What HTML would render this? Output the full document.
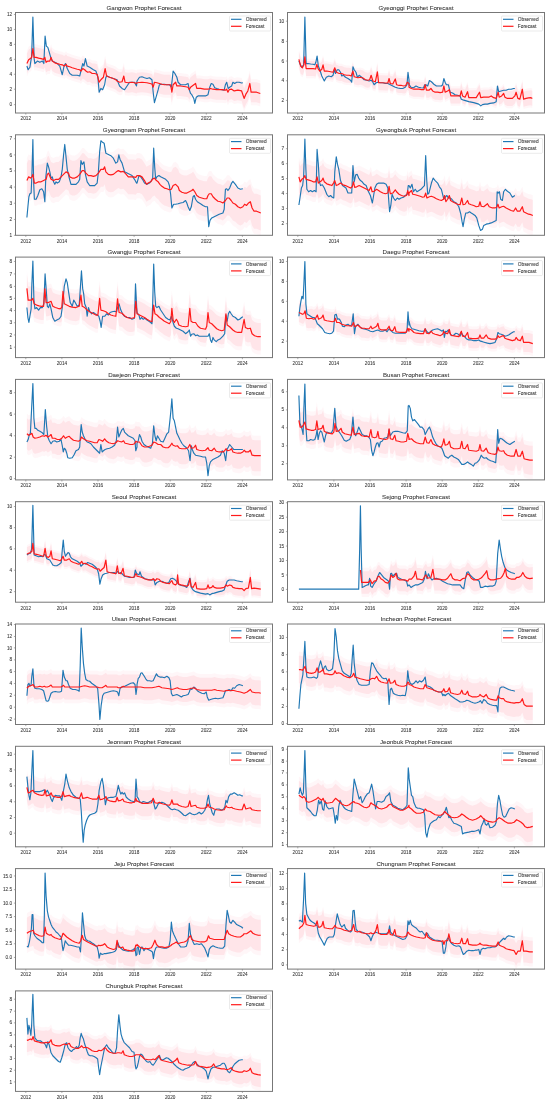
<!DOCTYPE html>
<html><head><meta charset="utf-8"><style>
html,body{margin:0;padding:0;background:#fff;width:550px;height:1102px;overflow:hidden}
svg{display:block}
.t{font-family:"Liberation Sans",sans-serif;fill:#333;stroke:#333;stroke-width:0.06px}
</style></head><body>
<div style="will-change:transform;width:550px;height:1102px"><svg width="550" height="1102" viewBox="0 0 550 1102">
<rect width="550" height="1102" fill="#fff"/>
<g><polygon points="26.90,50.60 28.65,46.87 30.39,45.62 31.63,44.37 32.88,35.66 34.13,44.37 36.12,44.37 38.61,45.12 41.10,45.62 43.59,46.37 44.84,44.37 46.08,49.36 47.83,48.11 49.82,48.11 51.06,44.37 52.31,48.11 54.80,49.85 57.29,50.60 59.78,51.35 62.27,51.85 64.27,53.09 66.01,51.35 67.25,53.09 69.75,53.84 72.24,54.84 74.73,55.58 77.22,56.33 79.71,56.83 80.95,58.07 82.70,55.58 84.69,56.83 85.94,58.07 87.68,59.32 89.67,58.82 92.16,60.57 94.65,60.57 97.15,61.31 99.14,69.28 100.88,66.79 103.37,64.30 105.12,55.58 106.61,63.06 109.60,64.30 113.34,65.55 115.83,66.79 117.07,68.04 119.56,69.28 122.05,68.79 123.80,63.06 125.04,69.28 128.28,69.78 132.02,69.28 134.51,69.78 136.50,70.53 137.00,69.78 141.98,69.28 146.96,69.78 151.95,71.03 153.19,74.27 154.44,69.28 156.93,69.78 159.42,70.53 161.91,71.28 164.40,71.77 168.14,71.77 170.63,71.77 171.87,79.25 173.12,71.77 175.61,69.28 176.85,73.02 180.59,73.02 185.57,73.77 188.06,74.27 189.31,76.76 190.55,74.27 195.54,70.53 196.78,75.51 200.52,75.51 204.25,76.26 207.99,76.26 210.48,75.51 212.97,76.26 216.71,76.76 221.69,76.76 225.43,77.25 226.67,76.26 227.92,79.25 229.16,76.76 231.65,76.26 234.15,78.00 237.88,77.25 241.62,78.00 244.11,85.47 245.85,81.24 247.85,78.00 249.84,70.53 251.08,79.25 254.07,79.25 256.56,79.25 260.30,80.49 260.30,106.40 256.56,105.15 254.07,105.15 251.08,105.15 249.84,96.43 247.85,103.91 245.85,107.15 244.11,111.38 241.62,103.91 237.88,103.16 234.15,103.91 231.65,102.16 229.16,102.66 227.92,105.15 226.67,102.16 225.43,103.16 221.69,102.66 216.71,102.66 212.97,102.16 210.48,101.42 207.99,102.16 204.25,102.16 200.52,101.42 196.78,101.42 195.54,96.43 190.55,100.17 189.31,102.66 188.06,100.17 185.57,99.67 180.59,98.93 176.85,98.93 175.61,95.19 173.12,97.68 171.87,105.15 170.63,97.68 168.14,97.68 164.40,97.68 161.91,97.18 159.42,96.43 156.93,95.69 154.44,95.19 153.19,100.17 151.95,96.93 146.96,95.69 141.98,95.19 137.00,95.69 136.50,96.43 134.51,95.69 132.02,95.19 128.28,95.69 125.04,95.19 123.80,88.96 122.05,94.69 119.56,95.19 117.07,93.94 115.83,92.70 113.34,91.45 109.60,90.21 106.61,88.96 105.12,81.49 103.37,90.21 100.88,92.70 99.14,95.19 97.15,87.22 94.65,86.47 92.16,86.47 89.67,84.73 87.68,85.23 85.94,83.98 84.69,82.73 82.70,81.49 80.95,83.98 79.71,82.73 77.22,82.24 74.73,81.49 72.24,80.74 69.75,79.75 67.25,79.00 66.01,77.25 64.27,79.00 62.27,77.75 59.78,77.25 57.29,76.51 54.80,75.76 52.31,74.02 51.06,70.28 49.82,74.02 47.83,74.02 46.08,75.26 44.84,70.28 43.59,72.27 41.10,71.53 38.61,71.03 36.12,70.28 34.13,70.28 32.88,61.56 31.63,70.28 30.39,71.53 28.65,72.77 26.90,76.51" fill="#ffc0cb" fill-opacity="0.14"/><polygon points="26.90,53.59 28.65,49.85 30.39,48.61 31.63,47.36 32.88,38.65 34.13,47.36 36.12,47.36 38.61,48.11 41.10,48.61 43.59,49.36 44.84,47.36 46.08,52.35 47.83,51.10 49.82,51.10 51.06,47.36 52.31,51.10 54.80,52.84 57.29,53.59 59.78,54.34 62.27,54.84 64.27,56.08 66.01,54.34 67.25,56.08 69.75,56.83 72.24,57.83 74.73,58.57 77.22,59.32 79.71,59.82 80.95,61.06 82.70,58.57 84.69,59.82 85.94,61.06 87.68,62.31 89.67,61.81 92.16,63.55 94.65,63.55 97.15,64.30 99.14,72.27 100.88,69.78 103.37,67.29 105.12,58.57 106.61,66.05 109.60,67.29 113.34,68.54 115.83,69.78 117.07,71.03 119.56,72.27 122.05,71.77 123.80,66.05 125.04,72.27 128.28,72.77 132.02,72.27 134.51,72.77 136.50,73.52 137.00,72.77 141.98,72.27 146.96,72.77 151.95,74.02 153.19,77.25 154.44,72.27 156.93,72.77 159.42,73.52 161.91,74.27 164.40,74.76 168.14,74.76 170.63,74.76 171.87,82.24 173.12,74.76 175.61,72.27 176.85,76.01 180.59,76.01 185.57,76.76 188.06,77.25 189.31,79.75 190.55,77.25 195.54,73.52 196.78,78.50 200.52,78.50 204.25,79.25 207.99,79.25 210.48,78.50 212.97,79.25 216.71,79.75 221.69,79.75 225.43,80.24 226.67,79.25 227.92,82.24 229.16,79.75 231.65,79.25 234.15,80.99 237.88,80.24 241.62,80.99 244.11,88.46 245.85,84.23 247.85,80.99 249.84,73.52 251.08,82.24 254.07,82.24 256.56,82.24 260.30,83.48 260.30,103.41 256.56,102.16 254.07,102.16 251.08,102.16 249.84,93.45 247.85,100.92 245.85,104.16 244.11,108.39 241.62,100.92 237.88,100.17 234.15,100.92 231.65,99.17 229.16,99.67 227.92,102.16 226.67,99.17 225.43,100.17 221.69,99.67 216.71,99.67 212.97,99.17 210.48,98.43 207.99,99.17 204.25,99.17 200.52,98.43 196.78,98.43 195.54,93.45 190.55,97.18 189.31,99.67 188.06,97.18 185.57,96.68 180.59,95.94 176.85,95.94 175.61,92.20 173.12,94.69 171.87,102.16 170.63,94.69 168.14,94.69 164.40,94.69 161.91,94.19 159.42,93.45 156.93,92.70 154.44,92.20 153.19,97.18 151.95,93.94 146.96,92.70 141.98,92.20 137.00,92.70 136.50,93.45 134.51,92.70 132.02,92.20 128.28,92.70 125.04,92.20 123.80,85.97 122.05,91.70 119.56,92.20 117.07,90.95 115.83,89.71 113.34,88.46 109.60,87.22 106.61,85.97 105.12,78.50 103.37,87.22 100.88,89.71 99.14,92.20 97.15,84.23 94.65,83.48 92.16,83.48 89.67,81.74 87.68,82.24 85.94,80.99 84.69,79.75 82.70,78.50 80.95,80.99 79.71,79.75 77.22,79.25 74.73,78.50 72.24,77.75 69.75,76.76 67.25,76.01 66.01,74.27 64.27,76.01 62.27,74.76 59.78,74.27 57.29,73.52 54.80,72.77 52.31,71.03 51.06,67.29 49.82,71.03 47.83,71.03 46.08,72.27 44.84,67.29 43.59,69.28 41.10,68.54 38.61,68.04 36.12,67.29 34.13,67.29 32.88,58.57 31.63,67.29 30.39,68.54 28.65,69.78 26.90,73.52" fill="#ffc0cb" fill-opacity="0.32"/><polyline points="26.90,66.05 28.15,69.78 29.89,67.29 31.63,56.08 32.88,16.97 34.13,58.57 34.87,63.55 37.36,61.06 39.85,62.31 42.35,61.06 43.84,63.55 45.09,36.15 46.33,46.12 47.83,47.36 49.32,52.35 51.06,58.57 52.31,61.06 54.80,62.31 57.29,63.55 59.78,66.05 62.27,74.76 64.02,66.05 65.51,63.55 67.25,68.54 69.75,73.52 72.24,75.26 74.73,75.26 77.22,75.26 79.71,76.01 81.20,69.78 82.70,63.55 83.94,66.05 85.44,58.57 87.18,66.05 89.67,67.29 93.41,69.78 95.90,71.03 97.89,77.25 99.14,92.20 100.88,88.46 102.63,89.71 104.62,84.73 105.86,77.25 107.11,76.01 109.60,77.25 113.34,78.50 117.07,79.75 119.56,85.97 122.05,88.46 124.55,89.71 127.04,85.97 129.53,82.24 132.02,82.24 134.51,82.24 136.50,85.97 137.00,80.99 139.49,77.25 141.98,76.76 144.47,77.75 146.96,78.50 149.45,77.75 151.95,79.75 153.19,92.20 154.44,102.66 156.43,95.94 158.17,89.71 159.42,84.73 161.91,84.23 164.40,84.23 166.89,84.73 169.38,84.73 171.37,87.22 173.12,71.03 174.86,73.52 176.85,77.25 178.10,82.24 180.59,84.73 183.08,84.73 185.57,84.73 188.06,83.48 189.31,89.71 190.55,93.45 191.80,94.69 193.79,98.43 194.79,103.41 196.28,97.18 198.03,95.94 200.52,95.94 203.01,95.94 205.50,95.94 207.99,94.69 209.73,87.22 211.23,83.48 212.97,84.23 214.72,87.72 216.71,88.46 219.20,89.21 221.69,89.71 224.18,90.21 225.43,84.73 226.67,82.24 228.17,88.46 229.66,87.22 231.65,85.97 232.90,82.24 234.64,83.48 236.64,82.24 239.13,82.24 241.62,82.98 242.86,82.73" fill="none" stroke="#1f77b4" stroke-width="1.15" stroke-linejoin="round"/><polyline points="26.90,63.55 28.65,59.82 30.39,58.57 31.63,57.33 32.88,48.61 34.13,57.33 36.12,57.33 38.61,58.07 41.10,58.57 43.59,59.32 44.84,57.33 46.08,62.31 47.83,61.06 49.82,61.06 51.06,57.33 52.31,61.06 54.80,62.81 57.29,63.55 59.78,64.30 62.27,64.80 64.27,66.05 66.01,64.30 67.25,66.05 69.75,66.79 72.24,67.79 74.73,68.54 77.22,69.28 79.71,69.78 80.95,71.03 82.70,68.54 84.69,69.78 85.94,71.03 87.68,72.27 89.67,71.77 92.16,73.52 94.65,73.52 97.15,74.27 99.14,82.24 100.88,79.75 103.37,77.25 105.12,68.54 106.61,76.01 109.60,77.25 113.34,78.50 115.83,79.75 117.07,80.99 119.56,82.24 122.05,81.74 123.80,76.01 125.04,82.24 128.28,82.73 132.02,82.24 134.51,82.73 136.50,83.48 137.00,82.73 141.98,82.24 146.96,82.73 151.95,83.98 153.19,87.22 154.44,82.24 156.93,82.73 159.42,83.48 161.91,84.23 164.40,84.73 168.14,84.73 170.63,84.73 171.87,92.20 173.12,84.73 175.61,82.24 176.85,85.97 180.59,85.97 185.57,86.72 188.06,87.22 189.31,89.71 190.55,87.22 195.54,83.48 196.78,88.46 200.52,88.46 204.25,89.21 207.99,89.21 210.48,88.46 212.97,89.21 216.71,89.71 221.69,89.71 225.43,90.21 226.67,89.21 227.92,92.20 229.16,89.71 231.65,89.21 234.15,90.95 237.88,90.21 241.62,90.95 244.11,98.43 245.85,94.19 247.85,90.95 249.84,83.48 251.08,92.20 254.07,92.20 256.56,92.20 260.30,93.45" fill="none" stroke="#ff1a1a" stroke-width="1.2" stroke-linejoin="round"/><line x1="13.90" y1="14.48" x2="15.50" y2="14.48" stroke="#777777" stroke-width="0.6"/><text x="12.10" y="16.08" font-size="4.7" text-anchor="end" class="t">12</text><line x1="13.90" y1="29.43" x2="15.50" y2="29.43" stroke="#777777" stroke-width="0.6"/><text x="12.10" y="31.03" font-size="4.7" text-anchor="end" class="t">10</text><line x1="13.90" y1="44.37" x2="15.50" y2="44.37" stroke="#777777" stroke-width="0.6"/><text x="12.10" y="45.97" font-size="4.7" text-anchor="end" class="t">8</text><line x1="13.90" y1="59.32" x2="15.50" y2="59.32" stroke="#777777" stroke-width="0.6"/><text x="12.10" y="60.92" font-size="4.7" text-anchor="end" class="t">6</text><line x1="13.90" y1="74.27" x2="15.50" y2="74.27" stroke="#777777" stroke-width="0.6"/><text x="12.10" y="75.87" font-size="4.7" text-anchor="end" class="t">4</text><line x1="13.90" y1="89.21" x2="15.50" y2="89.21" stroke="#777777" stroke-width="0.6"/><text x="12.10" y="90.81" font-size="4.7" text-anchor="end" class="t">2</text><line x1="13.90" y1="104.65" x2="15.50" y2="104.65" stroke="#777777" stroke-width="0.6"/><text x="12.10" y="106.25" font-size="4.7" text-anchor="end" class="t">0</text><text x="144.00" y="9.70" font-size="6.15" text-anchor="middle" class="t">Gangwon Prophet Forecast</text><rect x="15.50" y="12.50" width="257.00" height="100.50" fill="none" stroke="#777777" stroke-width="1.0"/><line x1="25.80" y1="113.00" x2="25.80" y2="114.60" stroke="#777777" stroke-width="0.6"/><text x="25.80" y="120.30" font-size="4.7" text-anchor="middle" class="t">2012</text><line x1="61.90" y1="113.00" x2="61.90" y2="114.60" stroke="#777777" stroke-width="0.6"/><text x="61.90" y="120.30" font-size="4.7" text-anchor="middle" class="t">2014</text><line x1="98.00" y1="113.00" x2="98.00" y2="114.60" stroke="#777777" stroke-width="0.6"/><text x="98.00" y="120.30" font-size="4.7" text-anchor="middle" class="t">2016</text><line x1="134.10" y1="113.00" x2="134.10" y2="114.60" stroke="#777777" stroke-width="0.6"/><text x="134.10" y="120.30" font-size="4.7" text-anchor="middle" class="t">2018</text><line x1="170.20" y1="113.00" x2="170.20" y2="114.60" stroke="#777777" stroke-width="0.6"/><text x="170.20" y="120.30" font-size="4.7" text-anchor="middle" class="t">2020</text><line x1="206.30" y1="113.00" x2="206.30" y2="114.60" stroke="#777777" stroke-width="0.6"/><text x="206.30" y="120.30" font-size="4.7" text-anchor="middle" class="t">2022</text><line x1="242.40" y1="113.00" x2="242.40" y2="114.60" stroke="#777777" stroke-width="0.6"/><text x="242.40" y="120.30" font-size="4.7" text-anchor="middle" class="t">2024</text><rect x="229.50" y="16.00" width="41" height="15" rx="1" fill="#fff" fill-opacity="0.8" stroke="#d6d6d6" stroke-width="0.5"/><line x1="231.00" y1="19.30" x2="241.50" y2="19.30" stroke="#1f77b4" stroke-width="1.15"/><line x1="231.00" y1="26.30" x2="241.50" y2="26.30" stroke="#ff1a1a" stroke-width="1.2"/><text x="245.80" y="20.90" font-size="4.8" class="t">Observed</text><text x="245.80" y="27.90" font-size="4.8" class="t">Forecast</text></g>
<g><polygon points="298.90,49.61 300.65,56.33 302.39,58.07 303.88,55.09 304.88,47.11 306.13,58.82 308.12,58.82 310.61,58.82 313.10,58.82 315.59,59.32 316.84,54.59 318.08,58.82 319.83,61.31 321.82,59.57 323.06,55.09 324.31,61.31 326.80,61.31 330.54,62.06 333.03,62.56 334.77,58.07 336.27,62.56 339.25,63.80 341.75,63.80 344.24,65.05 346.73,65.55 349.22,65.55 351.21,66.29 352.95,61.31 354.20,67.04 357.94,68.04 360.43,67.54 362.92,68.29 365.41,70.03 367.90,70.53 369.64,70.03 371.14,65.55 372.88,71.28 375.37,72.02 377.37,62.06 378.61,73.02 381.60,73.02 385.34,73.27 387.83,73.27 389.07,68.79 390.32,73.77 392.81,74.27 395.30,69.28 396.55,75.01 399.04,75.76 401.53,75.76 404.02,76.26 405.76,75.76 407.26,72.52 409.00,73.77 409.00,77.50 411.49,78.75 413.98,79.50 416.47,79.50 418.96,79.50 421.45,79.99 423.95,79.99 425.19,75.01 426.44,80.49 428.93,80.49 430.92,78.75 432.66,81.24 435.15,82.49 437.65,82.49 440.14,82.98 442.63,82.49 443.87,76.26 445.12,82.49 447.61,81.24 449.35,79.99 450.85,86.22 453.84,86.22 457.57,86.22 460.06,86.22 461.31,81.24 462.55,86.22 465.05,87.47 467.54,81.99 468.78,87.97 472.52,87.97 476.25,87.97 479.49,82.49 480.74,87.97 483.73,87.47 486.22,87.47 488.71,87.47 491.20,86.22 493.69,87.97 496.18,88.71 498.17,82.49 499.17,87.47 501.66,86.22 503.65,83.73 504.90,87.47 507.39,88.71 509.88,88.71 512.37,88.71 514.86,86.22 516.11,82.49 517.85,88.71 519.85,89.46 522.34,79.50 523.58,89.46 526.07,88.71 528.56,88.21 531.05,87.97 532.30,88.71 532.30,108.14 531.05,107.39 528.56,107.64 526.07,108.14 523.58,108.89 522.34,98.93 519.85,108.89 517.85,108.14 516.11,101.91 514.86,105.65 512.37,108.14 509.88,108.14 507.39,108.14 504.90,106.90 503.65,103.16 501.66,105.65 499.17,106.90 498.17,101.91 496.18,108.14 493.69,107.39 491.20,105.65 488.71,106.90 486.22,106.90 483.73,106.90 480.74,107.39 479.49,101.91 476.25,107.39 472.52,107.39 468.78,107.39 467.54,101.42 465.05,106.90 462.55,105.65 461.31,100.67 460.06,105.65 457.57,105.65 453.84,105.65 450.85,105.65 449.35,99.42 447.61,100.67 445.12,101.91 443.87,95.69 442.63,101.91 440.14,102.41 437.65,101.91 435.15,101.91 432.66,100.67 430.92,98.18 428.93,99.92 426.44,99.92 425.19,94.44 423.95,99.42 421.45,99.42 418.96,98.93 416.47,98.93 413.98,98.93 411.49,98.18 409.00,96.93 409.00,93.20 407.26,91.95 405.76,95.19 404.02,95.69 401.53,95.19 399.04,95.19 396.55,94.44 395.30,88.71 392.81,93.69 390.32,93.20 389.07,88.21 387.83,92.70 385.34,92.70 381.60,92.45 378.61,92.45 377.37,81.49 375.37,91.45 372.88,90.71 371.14,84.98 369.64,89.46 367.90,89.96 365.41,89.46 362.92,87.72 360.43,86.97 357.94,87.47 354.20,86.47 352.95,80.74 351.21,85.72 349.22,84.98 346.73,84.98 344.24,84.48 341.75,83.23 339.25,83.23 336.27,81.99 334.77,77.50 333.03,81.99 330.54,81.49 326.80,80.74 324.31,80.74 323.06,74.51 321.82,79.00 319.83,80.74 318.08,78.25 316.84,74.02 315.59,78.75 313.10,78.25 310.61,78.25 308.12,78.25 306.13,78.25 304.88,66.54 303.88,74.51 302.39,77.50 300.65,75.76 298.90,69.03" fill="#ffc0cb" fill-opacity="0.14"/><polygon points="298.90,51.85 300.65,58.57 302.39,60.32 303.88,57.33 304.88,49.36 306.13,61.06 308.12,61.06 310.61,61.06 313.10,61.06 315.59,61.56 316.84,56.83 318.08,61.06 319.83,63.55 321.82,61.81 323.06,57.33 324.31,63.55 326.80,63.55 330.54,64.30 333.03,64.80 334.77,60.32 336.27,64.80 339.25,66.05 341.75,66.05 344.24,67.29 346.73,67.79 349.22,67.79 351.21,68.54 352.95,63.55 354.20,69.28 357.94,70.28 360.43,69.78 362.92,70.53 365.41,72.27 367.90,72.77 369.64,72.27 371.14,67.79 372.88,73.52 375.37,74.27 377.37,64.30 378.61,75.26 381.60,75.26 385.34,75.51 387.83,75.51 389.07,71.03 390.32,76.01 392.81,76.51 395.30,71.53 396.55,77.25 399.04,78.00 401.53,78.00 404.02,78.50 405.76,78.00 407.26,74.76 409.00,76.01 409.00,79.75 411.49,80.99 413.98,81.74 416.47,81.74 418.96,81.74 421.45,82.24 423.95,82.24 425.19,77.25 426.44,82.73 428.93,82.73 430.92,80.99 432.66,83.48 435.15,84.73 437.65,84.73 440.14,85.23 442.63,84.73 443.87,78.50 445.12,84.73 447.61,83.48 449.35,82.24 450.85,88.46 453.84,88.46 457.57,88.46 460.06,88.46 461.31,83.48 462.55,88.46 465.05,89.71 467.54,84.23 468.78,90.21 472.52,90.21 476.25,90.21 479.49,84.73 480.74,90.21 483.73,89.71 486.22,89.71 488.71,89.71 491.20,88.46 493.69,90.21 496.18,90.95 498.17,84.73 499.17,89.71 501.66,88.46 503.65,85.97 504.90,89.71 507.39,90.95 509.88,90.95 512.37,90.95 514.86,88.46 516.11,84.73 517.85,90.95 519.85,91.70 522.34,81.74 523.58,91.70 526.07,90.95 528.56,90.46 531.05,90.21 532.30,90.95 532.30,105.90 531.05,105.15 528.56,105.40 526.07,105.90 523.58,106.65 522.34,96.68 519.85,106.65 517.85,105.90 516.11,99.67 514.86,103.41 512.37,105.90 509.88,105.90 507.39,105.90 504.90,104.65 503.65,100.92 501.66,103.41 499.17,104.65 498.17,99.67 496.18,105.90 493.69,105.15 491.20,103.41 488.71,104.65 486.22,104.65 483.73,104.65 480.74,105.15 479.49,99.67 476.25,105.15 472.52,105.15 468.78,105.15 467.54,99.17 465.05,104.65 462.55,103.41 461.31,98.43 460.06,103.41 457.57,103.41 453.84,103.41 450.85,103.41 449.35,97.18 447.61,98.43 445.12,99.67 443.87,93.45 442.63,99.67 440.14,100.17 437.65,99.67 435.15,99.67 432.66,98.43 430.92,95.94 428.93,97.68 426.44,97.68 425.19,92.20 423.95,97.18 421.45,97.18 418.96,96.68 416.47,96.68 413.98,96.68 411.49,95.94 409.00,94.69 409.00,90.95 407.26,89.71 405.76,92.95 404.02,93.45 401.53,92.95 399.04,92.95 396.55,92.20 395.30,86.47 392.81,91.45 390.32,90.95 389.07,85.97 387.83,90.46 385.34,90.46 381.60,90.21 378.61,90.21 377.37,79.25 375.37,89.21 372.88,88.46 371.14,82.73 369.64,87.22 367.90,87.72 365.41,87.22 362.92,85.47 360.43,84.73 357.94,85.23 354.20,84.23 352.95,78.50 351.21,83.48 349.22,82.73 346.73,82.73 344.24,82.24 341.75,80.99 339.25,80.99 336.27,79.75 334.77,75.26 333.03,79.75 330.54,79.25 326.80,78.50 324.31,78.50 323.06,72.27 321.82,76.76 319.83,78.50 318.08,76.01 316.84,71.77 315.59,76.51 313.10,76.01 310.61,76.01 308.12,76.01 306.13,76.01 304.88,64.30 303.88,72.27 302.39,75.26 300.65,73.52 298.90,66.79" fill="#ffc0cb" fill-opacity="0.32"/><polyline points="298.90,61.06 300.15,64.30 301.89,67.29 303.63,64.80 304.88,16.97 306.13,63.55 308.12,63.55 310.61,64.05 313.10,64.30 314.84,64.80 315.84,62.31 317.09,56.08 318.33,66.05 319.83,69.78 321.82,76.01 324.31,80.99 326.30,77.25 328.79,76.01 331.28,76.76 333.03,75.26 334.27,69.78 335.52,73.52 337.26,69.78 338.76,69.78 340.50,72.27 341.75,76.01 343.49,75.26 345.48,77.25 347.97,78.50 350.46,80.24 351.71,82.24 352.95,66.79 354.20,69.78 355.94,72.27 357.44,77.25 359.18,75.26 361.67,77.25 364.16,79.75 366.65,80.24 369.15,80.99 371.14,80.24 372.88,82.24 374.13,84.73 376.12,82.73 377.86,82.24 380.35,82.73 382.85,82.73 385.34,83.48 387.83,83.48 390.32,84.73 392.81,85.97 395.30,87.22 397.79,87.97 400.28,88.46 402.77,88.46 405.26,87.22 407.01,84.73 408.00,72.27 409.00,79.75 409.00,84.73 410.99,87.22 413.48,87.72 415.97,85.97 418.47,87.22 420.96,87.72 423.45,87.97 424.69,84.73 425.94,84.73 427.68,85.97 429.43,80.49 431.42,81.74 433.91,84.23 436.40,85.97 438.89,85.97 441.38,85.97 442.63,84.73 443.87,78.50 445.12,82.24 446.36,84.73 448.36,84.73 450.10,92.20 452.59,92.95 455.08,94.69 457.57,95.19 460.06,95.94 461.31,99.17 463.80,100.17 466.29,100.92 468.78,101.67 471.27,102.16 473.76,102.66 476.25,103.41 478.75,104.16 480.74,105.90 482.48,104.65 484.97,104.16 487.46,104.16 489.95,103.41 493.69,102.91 496.18,101.67 497.43,85.97 498.67,91.70 501.16,90.95 503.65,90.21 506.15,90.21 508.64,89.21 511.13,89.21 513.62,88.46 514.86,88.46" fill="none" stroke="#1f77b4" stroke-width="1.15" stroke-linejoin="round"/><polyline points="298.90,59.32 300.65,66.05 302.39,67.79 303.88,64.80 304.88,56.83 306.13,68.54 308.12,68.54 310.61,68.54 313.10,68.54 315.59,69.03 316.84,64.30 318.08,68.54 319.83,71.03 321.82,69.28 323.06,64.80 324.31,71.03 326.80,71.03 330.54,71.77 333.03,72.27 334.77,67.79 336.27,72.27 339.25,73.52 341.75,73.52 344.24,74.76 346.73,75.26 349.22,75.26 351.21,76.01 352.95,71.03 354.20,76.76 357.94,77.75 360.43,77.25 362.92,78.00 365.41,79.75 367.90,80.24 369.64,79.75 371.14,75.26 372.88,80.99 375.37,81.74 377.37,71.77 378.61,82.73 381.60,82.73 385.34,82.98 387.83,82.98 389.07,78.50 390.32,83.48 392.81,83.98 395.30,79.00 396.55,84.73 399.04,85.47 401.53,85.47 404.02,85.97 405.76,85.47 407.26,82.24 409.00,83.48 409.00,87.22 411.49,88.46 413.98,89.21 416.47,89.21 418.96,89.21 421.45,89.71 423.95,89.71 425.19,84.73 426.44,90.21 428.93,90.21 430.92,88.46 432.66,90.95 435.15,92.20 437.65,92.20 440.14,92.70 442.63,92.20 443.87,85.97 445.12,92.20 447.61,90.95 449.35,89.71 450.85,95.94 453.84,95.94 457.57,95.94 460.06,95.94 461.31,90.95 462.55,95.94 465.05,97.18 467.54,91.70 468.78,97.68 472.52,97.68 476.25,97.68 479.49,92.20 480.74,97.68 483.73,97.18 486.22,97.18 488.71,97.18 491.20,95.94 493.69,97.68 496.18,98.43 498.17,92.20 499.17,97.18 501.66,95.94 503.65,93.45 504.90,97.18 507.39,98.43 509.88,98.43 512.37,98.43 514.86,95.94 516.11,92.20 517.85,98.43 519.85,99.17 522.34,89.21 523.58,99.17 526.07,98.43 528.56,97.93 531.05,97.68 532.30,98.43" fill="none" stroke="#ff1a1a" stroke-width="1.2" stroke-linejoin="round"/><line x1="285.90" y1="21.21" x2="287.50" y2="21.21" stroke="#777777" stroke-width="0.6"/><text x="284.10" y="22.81" font-size="4.7" text-anchor="end" class="t">10</text><line x1="285.90" y1="41.39" x2="287.50" y2="41.39" stroke="#777777" stroke-width="0.6"/><text x="284.10" y="42.99" font-size="4.7" text-anchor="end" class="t">8</text><line x1="285.90" y1="61.06" x2="287.50" y2="61.06" stroke="#777777" stroke-width="0.6"/><text x="284.10" y="62.66" font-size="4.7" text-anchor="end" class="t">6</text><line x1="285.90" y1="80.74" x2="287.50" y2="80.74" stroke="#777777" stroke-width="0.6"/><text x="284.10" y="82.34" font-size="4.7" text-anchor="end" class="t">4</text><line x1="285.90" y1="100.42" x2="287.50" y2="100.42" stroke="#777777" stroke-width="0.6"/><text x="284.10" y="102.02" font-size="4.7" text-anchor="end" class="t">2</text><text x="416.00" y="9.70" font-size="6.15" text-anchor="middle" class="t">Gyeonggi Prophet Forecast</text><rect x="287.50" y="12.50" width="257.00" height="100.50" fill="none" stroke="#777777" stroke-width="1.0"/><line x1="297.80" y1="113.00" x2="297.80" y2="114.60" stroke="#777777" stroke-width="0.6"/><text x="297.80" y="120.30" font-size="4.7" text-anchor="middle" class="t">2012</text><line x1="333.90" y1="113.00" x2="333.90" y2="114.60" stroke="#777777" stroke-width="0.6"/><text x="333.90" y="120.30" font-size="4.7" text-anchor="middle" class="t">2014</text><line x1="370.00" y1="113.00" x2="370.00" y2="114.60" stroke="#777777" stroke-width="0.6"/><text x="370.00" y="120.30" font-size="4.7" text-anchor="middle" class="t">2016</text><line x1="406.10" y1="113.00" x2="406.10" y2="114.60" stroke="#777777" stroke-width="0.6"/><text x="406.10" y="120.30" font-size="4.7" text-anchor="middle" class="t">2018</text><line x1="442.20" y1="113.00" x2="442.20" y2="114.60" stroke="#777777" stroke-width="0.6"/><text x="442.20" y="120.30" font-size="4.7" text-anchor="middle" class="t">2020</text><line x1="478.30" y1="113.00" x2="478.30" y2="114.60" stroke="#777777" stroke-width="0.6"/><text x="478.30" y="120.30" font-size="4.7" text-anchor="middle" class="t">2022</text><line x1="514.40" y1="113.00" x2="514.40" y2="114.60" stroke="#777777" stroke-width="0.6"/><text x="514.40" y="120.30" font-size="4.7" text-anchor="middle" class="t">2024</text><rect x="501.50" y="16.00" width="41" height="15" rx="1" fill="#fff" fill-opacity="0.8" stroke="#d6d6d6" stroke-width="0.5"/><line x1="503.00" y1="19.30" x2="513.50" y2="19.30" stroke="#1f77b4" stroke-width="1.15"/><line x1="503.00" y1="26.30" x2="513.50" y2="26.30" stroke="#ff1a1a" stroke-width="1.2"/><text x="517.80" y="20.90" font-size="4.8" class="t">Observed</text><text x="517.80" y="27.90" font-size="4.8" class="t">Forecast</text></g>
<g><polygon points="26.90,157.91 28.65,154.17 30.39,155.41 31.88,154.17 32.88,151.68 34.37,160.40 36.12,160.40 38.61,159.15 41.10,159.15 43.59,157.91 46.08,156.66 47.33,151.68 48.57,150.43 51.06,156.66 53.55,157.91 56.05,156.66 58.54,156.66 61.03,154.17 63.52,151.68 66.01,149.19 68.50,150.43 69.75,154.17 72.24,155.41 74.73,155.41 77.22,154.17 79.71,151.68 82.20,147.94 83.94,147.94 85.94,150.43 88.43,152.92 90.92,152.92 93.41,153.67 95.90,152.92 98.39,150.43 100.88,146.70 103.37,146.70 104.62,144.21 105.86,149.19 108.35,151.68 110.85,152.18 113.34,151.68 115.83,149.69 118.32,147.94 120.81,149.19 123.30,148.69 125.79,151.18 128.28,154.17 130.77,154.17 133.26,154.17 135.75,154.67 137.00,152.92 137.00,152.92 139.49,152.92 141.98,154.17 144.47,157.91 146.47,161.64 148.21,160.40 150.70,159.15 152.44,156.66 154.44,155.41 156.43,157.91 158.17,159.15 159.92,161.64 161.91,163.63 164.40,165.38 166.89,166.13 169.38,167.12 171.37,166.62 173.12,162.89 175.61,161.64 178.10,164.13 179.35,167.87 181.84,169.61 184.33,170.36 186.82,170.36 189.31,169.11 191.80,167.87 193.05,166.62 194.79,169.11 196.78,172.85 199.27,174.59 201.76,175.34 204.25,176.09 206.75,176.09 207.99,172.85 209.24,171.11 211.23,171.11 212.97,174.10 215.46,176.59 217.95,178.58 220.45,179.08 222.94,180.32 225.43,177.83 227.17,175.34 229.16,175.34 231.16,177.83 232.90,180.32 235.39,181.57 237.88,184.06 240.37,185.31 242.86,184.06 244.61,181.57 246.60,182.81 248.59,180.32 250.34,179.08 252.08,185.31 254.07,188.54 256.56,188.54 259.05,189.54 260.80,190.29 260.80,235.62 259.05,234.87 256.56,233.88 254.07,233.88 252.08,230.64 250.34,224.41 248.59,225.66 246.60,228.15 244.61,226.90 242.86,229.39 240.37,230.64 237.88,229.39 235.39,226.90 232.90,225.66 231.16,223.17 229.16,220.68 227.17,220.68 225.43,223.17 222.94,225.66 220.45,224.41 217.95,223.91 215.46,221.92 212.97,219.43 211.23,216.44 209.24,216.44 207.99,218.19 206.75,221.42 204.25,221.42 201.76,220.68 199.27,219.93 196.78,218.19 194.79,214.45 193.05,211.96 191.80,213.20 189.31,214.45 186.82,215.69 184.33,215.69 181.84,214.95 179.35,213.20 178.10,209.47 175.61,206.98 173.12,208.22 171.37,211.96 169.38,212.46 166.89,211.46 164.40,210.71 161.91,208.97 159.92,206.98 158.17,204.49 156.43,203.24 154.44,200.75 152.44,201.99 150.70,204.49 148.21,205.73 146.47,206.98 144.47,203.24 141.98,199.50 139.49,198.26 137.00,198.26 137.00,198.26 135.75,200.00 133.26,199.50 130.77,199.50 128.28,199.50 125.79,196.51 123.30,194.02 120.81,194.52 118.32,193.28 115.83,195.02 113.34,197.01 110.85,197.51 108.35,197.01 105.86,194.52 104.62,189.54 103.37,192.03 100.88,192.03 98.39,195.77 95.90,198.26 93.41,199.01 90.92,198.26 88.43,198.26 85.94,195.77 83.94,193.28 82.20,193.28 79.71,197.01 77.22,199.50 74.73,200.75 72.24,200.75 69.75,199.50 68.50,195.77 66.01,194.52 63.52,197.01 61.03,199.50 58.54,201.99 56.05,201.99 53.55,203.24 51.06,201.99 48.57,195.77 47.33,197.01 46.08,201.99 43.59,203.24 41.10,204.49 38.61,204.49 36.12,205.73 34.37,205.73 32.88,197.01 31.88,199.50 30.39,200.75 28.65,199.50 26.90,203.24" fill="#ffc0cb" fill-opacity="0.14"/><polygon points="26.90,163.14 28.65,159.40 30.39,160.65 31.88,159.40 32.88,156.91 34.37,165.63 36.12,165.63 38.61,164.38 41.10,164.38 43.59,163.14 46.08,161.89 47.33,156.91 48.57,155.66 51.06,161.89 53.55,163.14 56.05,161.89 58.54,161.89 61.03,159.40 63.52,156.91 66.01,154.42 68.50,155.66 69.75,159.40 72.24,160.65 74.73,160.65 77.22,159.40 79.71,156.91 82.20,153.17 83.94,153.17 85.94,155.66 88.43,158.15 90.92,158.15 93.41,158.90 95.90,158.15 98.39,155.66 100.88,151.93 103.37,151.93 104.62,149.44 105.86,154.42 108.35,156.91 110.85,157.41 113.34,156.91 115.83,154.92 118.32,153.17 120.81,154.42 123.30,153.92 125.79,156.41 128.28,159.40 130.77,159.40 133.26,159.40 135.75,159.90 137.00,158.15 137.00,158.15 139.49,158.15 141.98,159.40 144.47,163.14 146.47,166.87 148.21,165.63 150.70,164.38 152.44,161.89 154.44,160.65 156.43,163.14 158.17,164.38 159.92,166.87 161.91,168.87 164.40,170.61 166.89,171.36 169.38,172.35 171.37,171.85 173.12,168.12 175.61,166.87 178.10,169.36 179.35,173.10 181.84,174.84 184.33,175.59 186.82,175.59 189.31,174.35 191.80,173.10 193.05,171.85 194.79,174.35 196.78,178.08 199.27,179.83 201.76,180.57 204.25,181.32 206.75,181.32 207.99,178.08 209.24,176.34 211.23,176.34 212.97,179.33 215.46,181.82 217.95,183.81 220.45,184.31 222.94,185.55 225.43,183.06 227.17,180.57 229.16,180.57 231.16,183.06 232.90,185.55 235.39,186.80 237.88,189.29 240.37,190.54 242.86,189.29 244.61,186.80 246.60,188.05 248.59,185.55 250.34,184.31 252.08,190.54 254.07,193.77 256.56,193.77 259.05,194.77 260.80,195.52 260.80,230.39 259.05,229.64 256.56,228.65 254.07,228.65 252.08,225.41 250.34,219.18 248.59,220.43 246.60,222.92 244.61,221.67 242.86,224.16 240.37,225.41 237.88,224.16 235.39,221.67 232.90,220.43 231.16,217.94 229.16,215.45 227.17,215.45 225.43,217.94 222.94,220.43 220.45,219.18 217.95,218.68 215.46,216.69 212.97,214.20 211.23,211.21 209.24,211.21 207.99,212.95 206.75,216.19 204.25,216.19 201.76,215.45 199.27,214.70 196.78,212.95 194.79,209.22 193.05,206.73 191.80,207.97 189.31,209.22 186.82,210.46 184.33,210.46 181.84,209.72 179.35,207.97 178.10,204.24 175.61,201.75 173.12,202.99 171.37,206.73 169.38,207.23 166.89,206.23 164.40,205.48 161.91,203.74 159.92,201.75 158.17,199.25 156.43,198.01 154.44,195.52 152.44,196.76 150.70,199.25 148.21,200.50 146.47,201.75 144.47,198.01 141.98,194.27 139.49,193.03 137.00,193.03 137.00,193.03 135.75,194.77 133.26,194.27 130.77,194.27 128.28,194.27 125.79,191.28 123.30,188.79 120.81,189.29 118.32,188.05 115.83,189.79 113.34,191.78 110.85,192.28 108.35,191.78 105.86,189.29 104.62,184.31 103.37,186.80 100.88,186.80 98.39,190.54 95.90,193.03 93.41,193.77 90.92,193.03 88.43,193.03 85.94,190.54 83.94,188.05 82.20,188.05 79.71,191.78 77.22,194.27 74.73,195.52 72.24,195.52 69.75,194.27 68.50,190.54 66.01,189.29 63.52,191.78 61.03,194.27 58.54,196.76 56.05,196.76 53.55,198.01 51.06,196.76 48.57,190.54 47.33,191.78 46.08,196.76 43.59,198.01 41.10,199.25 38.61,199.25 36.12,200.50 34.37,200.50 32.88,191.78 31.88,194.27 30.39,195.52 28.65,194.27 26.90,198.01" fill="#ffc0cb" fill-opacity="0.32"/><polyline points="26.90,217.44 27.90,206.73 28.89,196.76 29.89,193.77 31.14,193.03 31.88,175.59 32.88,139.47 33.63,181.82 34.37,199.25 36.12,199.25 37.86,195.52 39.85,189.79 41.85,188.79 43.59,191.78 44.84,201.75 45.83,176.84 47.33,163.14 48.57,166.87 49.82,171.85 51.06,178.08 52.31,176.84 53.55,181.82 54.80,184.31 56.05,181.82 57.29,183.06 59.28,181.82 61.03,176.84 62.27,169.36 63.52,155.66 64.76,144.45 66.01,156.91 67.25,169.36 69.25,178.08 70.99,184.31 73.48,184.31 75.97,184.31 78.46,181.82 79.71,179.33 80.95,160.65 82.20,164.38 83.94,161.89 85.44,174.35 87.18,181.82 89.67,185.55 92.16,185.55 94.65,185.55 97.15,183.06 98.39,171.85 99.64,151.93 100.88,140.72 102.13,141.96 104.12,143.21 105.86,153.17 108.35,154.42 110.85,155.66 113.34,158.15 115.83,163.14 117.57,161.89 118.82,154.92 120.06,159.40 122.05,163.14 124.55,171.85 127.04,173.10 129.53,174.35 132.02,175.59 134.51,179.33 136.50,183.06 137.00,183.06 138.99,175.59 140.74,176.84 142.48,179.33 144.47,183.06 146.96,184.31 149.45,183.06 151.45,180.57 152.69,178.08 153.69,148.19 154.69,166.87 155.68,179.33 156.93,176.84 158.92,175.59 160.66,176.84 163.15,178.08 165.65,179.33 168.14,181.82 169.38,185.55 170.63,194.27 171.87,207.97 173.62,204.24 175.61,204.24 178.10,203.74 180.59,202.99 183.08,202.49 185.57,200.50 186.82,202.99 188.06,206.73 189.81,210.46 191.30,206.73 193.05,196.76 194.29,195.52 195.54,199.25 197.28,201.75 199.27,202.99 201.27,204.24 203.01,205.48 205.50,206.73 207.49,206.73 208.74,226.65 209.98,220.43 211.73,217.94 214.22,216.69 216.71,215.45 219.20,214.20 222.94,212.95 224.18,209.22 225.43,189.29 226.67,188.79 227.92,190.54 229.66,188.05 231.65,183.06 232.90,181.32 235.39,184.31 237.88,188.05 240.37,189.29 242.86,188.79" fill="none" stroke="#1f77b4" stroke-width="1.15" stroke-linejoin="round"/><polyline points="26.90,180.57 28.65,176.84 30.39,178.08 31.88,176.84 32.88,174.35 34.37,183.06 36.12,183.06 38.61,181.82 41.10,181.82 43.59,180.57 46.08,179.33 47.33,174.35 48.57,173.10 51.06,179.33 53.55,180.57 56.05,179.33 58.54,179.33 61.03,176.84 63.52,174.35 66.01,171.85 68.50,173.10 69.75,176.84 72.24,178.08 74.73,178.08 77.22,176.84 79.71,174.35 82.20,170.61 83.94,170.61 85.94,173.10 88.43,175.59 90.92,175.59 93.41,176.34 95.90,175.59 98.39,173.10 100.88,169.36 103.37,169.36 104.62,166.87 105.86,171.85 108.35,174.35 110.85,174.84 113.34,174.35 115.83,172.35 118.32,170.61 120.81,171.85 123.30,171.36 125.79,173.85 128.28,176.84 130.77,176.84 133.26,176.84 135.75,177.33 137.00,175.59 137.00,175.59 139.49,175.59 141.98,176.84 144.47,180.57 146.47,184.31 148.21,183.06 150.70,181.82 152.44,179.33 154.44,178.08 156.43,180.57 158.17,181.82 159.92,184.31 161.91,186.30 164.40,188.05 166.89,188.79 169.38,189.79 171.37,189.29 173.12,185.55 175.61,184.31 178.10,186.80 179.35,190.54 181.84,192.28 184.33,193.03 186.82,193.03 189.31,191.78 191.80,190.54 193.05,189.29 194.79,191.78 196.78,195.52 199.27,197.26 201.76,198.01 204.25,198.76 206.75,198.76 207.99,195.52 209.24,193.77 211.23,193.77 212.97,196.76 215.46,199.25 217.95,201.25 220.45,201.75 222.94,202.99 225.43,200.50 227.17,198.01 229.16,198.01 231.16,200.50 232.90,202.99 235.39,204.24 237.88,206.73 240.37,207.97 242.86,206.73 244.61,204.24 246.60,205.48 248.59,202.99 250.34,201.75 252.08,207.97 254.07,211.21 256.56,211.21 259.05,212.21 260.80,212.95" fill="none" stroke="#ff1a1a" stroke-width="1.2" stroke-linejoin="round"/><line x1="13.90" y1="138.73" x2="15.50" y2="138.73" stroke="#777777" stroke-width="0.6"/><text x="12.10" y="140.33" font-size="4.7" text-anchor="end" class="t">7</text><line x1="13.90" y1="154.92" x2="15.50" y2="154.92" stroke="#777777" stroke-width="0.6"/><text x="12.10" y="156.52" font-size="4.7" text-anchor="end" class="t">6</text><line x1="13.90" y1="170.86" x2="15.50" y2="170.86" stroke="#777777" stroke-width="0.6"/><text x="12.10" y="172.46" font-size="4.7" text-anchor="end" class="t">5</text><line x1="13.90" y1="187.05" x2="15.50" y2="187.05" stroke="#777777" stroke-width="0.6"/><text x="12.10" y="188.65" font-size="4.7" text-anchor="end" class="t">4</text><line x1="13.90" y1="203.24" x2="15.50" y2="203.24" stroke="#777777" stroke-width="0.6"/><text x="12.10" y="204.84" font-size="4.7" text-anchor="end" class="t">3</text><line x1="13.90" y1="219.43" x2="15.50" y2="219.43" stroke="#777777" stroke-width="0.6"/><text x="12.10" y="221.03" font-size="4.7" text-anchor="end" class="t">2</text><line x1="13.90" y1="235.37" x2="15.50" y2="235.37" stroke="#777777" stroke-width="0.6"/><text x="12.10" y="236.97" font-size="4.7" text-anchor="end" class="t">1</text><text x="144.00" y="132.00" font-size="6.15" text-anchor="middle" class="t">Gyeongnam Prophet Forecast</text><rect x="15.50" y="134.80" width="257.00" height="100.50" fill="none" stroke="#777777" stroke-width="1.0"/><line x1="25.80" y1="235.30" x2="25.80" y2="236.90" stroke="#777777" stroke-width="0.6"/><text x="25.80" y="242.60" font-size="4.7" text-anchor="middle" class="t">2012</text><line x1="61.90" y1="235.30" x2="61.90" y2="236.90" stroke="#777777" stroke-width="0.6"/><text x="61.90" y="242.60" font-size="4.7" text-anchor="middle" class="t">2014</text><line x1="98.00" y1="235.30" x2="98.00" y2="236.90" stroke="#777777" stroke-width="0.6"/><text x="98.00" y="242.60" font-size="4.7" text-anchor="middle" class="t">2016</text><line x1="134.10" y1="235.30" x2="134.10" y2="236.90" stroke="#777777" stroke-width="0.6"/><text x="134.10" y="242.60" font-size="4.7" text-anchor="middle" class="t">2018</text><line x1="170.20" y1="235.30" x2="170.20" y2="236.90" stroke="#777777" stroke-width="0.6"/><text x="170.20" y="242.60" font-size="4.7" text-anchor="middle" class="t">2020</text><line x1="206.30" y1="235.30" x2="206.30" y2="236.90" stroke="#777777" stroke-width="0.6"/><text x="206.30" y="242.60" font-size="4.7" text-anchor="middle" class="t">2022</text><line x1="242.40" y1="235.30" x2="242.40" y2="236.90" stroke="#777777" stroke-width="0.6"/><text x="242.40" y="242.60" font-size="4.7" text-anchor="middle" class="t">2024</text><rect x="229.50" y="138.30" width="41" height="15" rx="1" fill="#fff" fill-opacity="0.8" stroke="#d6d6d6" stroke-width="0.5"/><line x1="231.00" y1="141.60" x2="241.50" y2="141.60" stroke="#1f77b4" stroke-width="1.15"/><line x1="231.00" y1="148.60" x2="241.50" y2="148.60" stroke="#ff1a1a" stroke-width="1.2"/><text x="245.80" y="143.20" font-size="4.8" class="t">Observed</text><text x="245.80" y="150.20" font-size="4.8" class="t">Forecast</text></g>
<g><polygon points="298.90,156.76 300.15,161.74 301.89,159.25 303.63,158.01 304.88,155.51 306.13,159.25 308.12,159.75 310.61,160.50 313.10,161.74 315.59,161.74 317.09,156.76 318.33,162.99 320.07,161.74 321.82,160.50 323.06,158.01 324.31,161.74 326.80,163.73 329.79,164.73 331.78,165.48 333.53,162.99 334.77,160.50 336.27,165.48 338.01,164.73 340.50,162.99 342.99,164.73 345.48,165.48 347.97,166.72 350.46,167.97 352.21,166.72 353.45,161.74 354.70,167.22 356.69,166.72 359.18,165.48 361.67,166.72 364.16,167.97 366.65,169.21 369.15,170.46 370.89,166.72 372.13,171.71 374.13,171.21 376.62,169.21 378.61,170.46 380.35,171.71 382.85,172.95 385.34,173.70 387.83,172.95 389.07,166.23 390.32,173.70 392.81,172.95 395.30,169.71 396.55,171.71 399.04,174.20 401.53,175.44 404.02,176.19 406.51,175.44 407.75,170.46 409.00,175.44 409.00,172.95 411.49,170.46 412.74,174.20 415.23,174.69 417.72,175.44 420.21,176.19 422.70,177.19 424.44,176.69 425.69,172.95 426.93,177.93 429.43,176.69 431.42,176.19 433.91,177.19 436.40,178.68 438.89,179.68 441.38,180.42 443.37,179.18 444.62,175.44 445.87,181.67 447.61,179.18 449.35,175.44 450.60,180.42 452.59,181.67 455.08,182.91 457.57,184.16 460.06,184.66 461.81,177.93 463.05,184.66 465.05,184.16 467.54,180.42 468.78,183.66 471.27,184.66 473.76,185.41 476.25,186.65 478.75,186.15 479.99,181.67 481.24,186.15 483.73,186.65 486.22,184.66 487.46,183.66 489.21,186.65 492.45,187.90 494.94,187.90 496.68,187.15 497.93,184.16 499.17,187.90 501.66,186.65 503.65,186.15 506.15,187.90 508.64,189.14 511.13,190.39 513.62,191.13 515.61,187.90 517.35,191.13 519.85,191.13 522.34,186.65 523.58,191.63 526.07,192.88 528.56,194.12 531.05,194.62 532.80,195.37 532.80,235.52 531.05,234.77 528.56,234.28 526.07,233.03 523.58,231.79 522.34,226.80 519.85,231.29 517.35,231.29 515.61,228.05 513.62,231.29 511.13,230.54 508.64,229.29 506.15,228.05 503.65,226.31 501.66,226.80 499.17,228.05 497.93,224.31 496.68,227.30 494.94,228.05 492.45,228.05 489.21,226.80 487.46,223.81 486.22,224.81 483.73,226.80 481.24,226.31 479.99,221.82 478.75,226.31 476.25,226.80 473.76,225.56 471.27,224.81 468.78,223.81 467.54,220.58 465.05,224.31 463.05,224.81 461.81,218.09 460.06,224.81 457.57,224.31 455.08,223.07 452.59,221.82 450.60,220.58 449.35,215.59 447.61,219.33 445.87,221.82 444.62,215.59 443.37,219.33 441.38,220.58 438.89,219.83 436.40,218.83 433.91,217.34 431.42,216.34 429.43,216.84 426.93,218.09 425.69,213.10 424.44,216.84 422.70,217.34 420.21,216.34 417.72,215.59 415.23,214.85 412.74,214.35 411.49,210.61 409.00,213.10 409.00,215.59 407.75,210.61 406.51,215.59 404.02,216.34 401.53,215.59 399.04,214.35 396.55,211.86 395.30,209.87 392.81,213.10 390.32,213.85 389.07,206.38 387.83,213.10 385.34,213.85 382.85,213.10 380.35,211.86 378.61,210.61 376.62,209.37 374.13,211.36 372.13,211.86 370.89,206.88 369.15,210.61 366.65,209.37 364.16,208.12 361.67,206.88 359.18,205.63 356.69,206.88 354.70,207.37 353.45,201.89 352.21,206.88 350.46,208.12 347.97,206.88 345.48,205.63 342.99,204.88 340.50,203.14 338.01,204.88 336.27,205.63 334.77,200.65 333.53,203.14 331.78,205.63 329.79,204.88 326.80,203.89 324.31,201.89 323.06,198.16 321.82,200.65 320.07,201.89 318.33,203.14 317.09,196.91 315.59,201.89 313.10,201.89 310.61,200.65 308.12,199.90 306.13,199.40 304.88,195.67 303.63,198.16 301.89,199.40 300.15,201.89 298.90,196.91" fill="#ffc0cb" fill-opacity="0.14"/><polygon points="298.90,161.39 300.15,166.37 301.89,163.88 303.63,162.64 304.88,160.15 306.13,163.88 308.12,164.38 310.61,165.13 313.10,166.37 315.59,166.37 317.09,161.39 318.33,167.62 320.07,166.37 321.82,165.13 323.06,162.64 324.31,166.37 326.80,168.37 329.79,169.36 331.78,170.11 333.53,167.62 334.77,165.13 336.27,170.11 338.01,169.36 340.50,167.62 342.99,169.36 345.48,170.11 347.97,171.36 350.46,172.60 352.21,171.36 353.45,166.37 354.70,171.85 356.69,171.36 359.18,170.11 361.67,171.36 364.16,172.60 366.65,173.85 369.15,175.09 370.89,171.36 372.13,176.34 374.13,175.84 376.62,173.85 378.61,175.09 380.35,176.34 382.85,177.58 385.34,178.33 387.83,177.58 389.07,170.86 390.32,178.33 392.81,177.58 395.30,174.35 396.55,176.34 399.04,178.83 401.53,180.07 404.02,180.82 406.51,180.07 407.75,175.09 409.00,180.07 409.00,177.58 411.49,175.09 412.74,178.83 415.23,179.33 417.72,180.07 420.21,180.82 422.70,181.82 424.44,181.32 425.69,177.58 426.93,182.57 429.43,181.32 431.42,180.82 433.91,181.82 436.40,183.31 438.89,184.31 441.38,185.06 443.37,183.81 444.62,180.07 445.87,186.30 447.61,183.81 449.35,180.07 450.60,185.06 452.59,186.30 455.08,187.55 457.57,188.79 460.06,189.29 461.81,182.57 463.05,189.29 465.05,188.79 467.54,185.06 468.78,188.29 471.27,189.29 473.76,190.04 476.25,191.28 478.75,190.79 479.99,186.30 481.24,190.79 483.73,191.28 486.22,189.29 487.46,188.29 489.21,191.28 492.45,192.53 494.94,192.53 496.68,191.78 497.93,188.79 499.17,192.53 501.66,191.28 503.65,190.79 506.15,192.53 508.64,193.77 511.13,195.02 513.62,195.77 515.61,192.53 517.35,195.77 519.85,195.77 522.34,191.28 523.58,196.27 526.07,197.51 528.56,198.76 531.05,199.25 532.80,200.00 532.80,230.89 531.05,230.14 528.56,229.64 526.07,228.40 523.58,227.15 522.34,222.17 519.85,226.65 517.35,226.65 515.61,223.42 513.62,226.65 511.13,225.91 508.64,224.66 506.15,223.42 503.65,221.67 501.66,222.17 499.17,223.42 497.93,219.68 496.68,222.67 494.94,223.42 492.45,223.42 489.21,222.17 487.46,219.18 486.22,220.18 483.73,222.17 481.24,221.67 479.99,217.19 478.75,221.67 476.25,222.17 473.76,220.93 471.27,220.18 468.78,219.18 467.54,215.94 465.05,219.68 463.05,220.18 461.81,213.45 460.06,220.18 457.57,219.68 455.08,218.43 452.59,217.19 450.60,215.94 449.35,210.96 447.61,214.70 445.87,217.19 444.62,210.96 443.37,214.70 441.38,215.94 438.89,215.20 436.40,214.20 433.91,212.71 431.42,211.71 429.43,212.21 426.93,213.45 425.69,208.47 424.44,212.21 422.70,212.71 420.21,211.71 417.72,210.96 415.23,210.21 412.74,209.72 411.49,205.98 409.00,208.47 409.00,210.96 407.75,205.98 406.51,210.96 404.02,211.71 401.53,210.96 399.04,209.72 396.55,207.23 395.30,205.23 392.81,208.47 390.32,209.22 389.07,201.75 387.83,208.47 385.34,209.22 382.85,208.47 380.35,207.23 378.61,205.98 376.62,204.73 374.13,206.73 372.13,207.23 370.89,202.24 369.15,205.98 366.65,204.73 364.16,203.49 361.67,202.24 359.18,201.00 356.69,202.24 354.70,202.74 353.45,197.26 352.21,202.24 350.46,203.49 347.97,202.24 345.48,201.00 342.99,200.25 340.50,198.51 338.01,200.25 336.27,201.00 334.77,196.02 333.53,198.51 331.78,201.00 329.79,200.25 326.80,199.25 324.31,197.26 323.06,193.53 321.82,196.02 320.07,197.26 318.33,198.51 317.09,192.28 315.59,197.26 313.10,197.26 310.61,196.02 308.12,195.27 306.13,194.77 304.88,191.03 303.63,193.53 301.89,194.77 300.15,197.26 298.90,192.28" fill="#ffc0cb" fill-opacity="0.32"/><polyline points="298.90,204.98 300.15,196.76 301.39,188.05 302.64,185.55 303.63,176.84 304.88,138.97 305.88,169.36 306.87,189.29 308.62,191.78 310.61,190.54 312.35,191.78 314.35,190.54 316.09,191.78 317.09,149.44 318.33,164.38 319.33,181.82 320.57,185.55 322.32,184.81 324.31,188.05 326.80,194.27 328.79,196.76 330.54,195.52 332.28,197.26 333.77,198.01 334.77,171.85 336.27,156.91 337.51,164.38 338.76,169.36 340.50,180.57 342.49,185.55 344.24,186.80 345.98,188.05 347.97,193.03 349.72,193.03 351.71,193.03 352.95,165.63 354.20,181.82 355.69,174.84 357.19,174.35 358.68,178.08 360.43,180.57 362.17,181.82 364.16,184.31 366.16,185.55 367.90,190.54 370.39,195.52 372.38,202.99 373.63,195.52 374.87,188.05 376.62,184.31 378.61,183.06 381.10,183.06 383.59,183.06 386.08,184.31 387.83,188.05 389.57,211.71 390.82,205.48 392.06,194.27 393.56,198.01 395.30,200.50 397.29,198.01 399.04,199.25 401.03,198.01 403.52,197.26 405.26,195.52 407.26,194.27 408.25,185.55 409.00,185.55 409.00,185.55 410.25,188.05 411.99,184.31 413.48,191.78 415.23,189.29 416.97,191.78 418.96,190.54 420.96,189.29 422.70,187.30 424.44,185.55 425.69,155.66 426.69,179.33 427.68,194.27 428.93,193.03 430.17,188.05 431.42,183.06 433.16,178.08 435.15,180.57 437.65,183.06 439.39,186.80 441.38,189.29 442.63,194.27 443.87,199.25 445.62,196.76 446.86,195.52 448.36,198.01 450.10,198.01 451.84,199.25 453.84,201.75 456.33,202.99 458.82,206.73 460.81,214.20 462.06,221.67 463.05,226.65 464.30,219.18 465.79,212.95 467.54,212.95 469.53,211.71 471.27,212.95 473.27,214.20 475.01,215.45 476.75,217.94 478.75,225.41 480.49,230.39 482.48,229.15 483.73,225.41 486.22,224.16 488.71,223.67 491.20,222.92 493.69,221.67 496.18,220.43 497.18,191.78 498.17,193.03 499.42,191.78 500.67,199.25 502.41,200.50 503.65,191.78 505.40,189.29 507.39,191.28 509.88,193.03 512.37,197.26 514.86,195.52" fill="none" stroke="#1f77b4" stroke-width="1.15" stroke-linejoin="round"/><polyline points="298.90,176.84 300.15,181.82 301.89,179.33 303.63,178.08 304.88,175.59 306.13,179.33 308.12,179.83 310.61,180.57 313.10,181.82 315.59,181.82 317.09,176.84 318.33,183.06 320.07,181.82 321.82,180.57 323.06,178.08 324.31,181.82 326.80,183.81 329.79,184.81 331.78,185.55 333.53,183.06 334.77,180.57 336.27,185.55 338.01,184.81 340.50,183.06 342.99,184.81 345.48,185.55 347.97,186.80 350.46,188.05 352.21,186.80 353.45,181.82 354.70,187.30 356.69,186.80 359.18,185.55 361.67,186.80 364.16,188.05 366.65,189.29 369.15,190.54 370.89,186.80 372.13,191.78 374.13,191.28 376.62,189.29 378.61,190.54 380.35,191.78 382.85,193.03 385.34,193.77 387.83,193.03 389.07,186.30 390.32,193.77 392.81,193.03 395.30,189.79 396.55,191.78 399.04,194.27 401.53,195.52 404.02,196.27 406.51,195.52 407.75,190.54 409.00,195.52 409.00,193.03 411.49,190.54 412.74,194.27 415.23,194.77 417.72,195.52 420.21,196.27 422.70,197.26 424.44,196.76 425.69,193.03 426.93,198.01 429.43,196.76 431.42,196.27 433.91,197.26 436.40,198.76 438.89,199.75 441.38,200.50 443.37,199.25 444.62,195.52 445.87,201.75 447.61,199.25 449.35,195.52 450.60,200.50 452.59,201.75 455.08,202.99 457.57,204.24 460.06,204.73 461.81,198.01 463.05,204.73 465.05,204.24 467.54,200.50 468.78,203.74 471.27,204.73 473.76,205.48 476.25,206.73 478.75,206.23 479.99,201.75 481.24,206.23 483.73,206.73 486.22,204.73 487.46,203.74 489.21,206.73 492.45,207.97 494.94,207.97 496.68,207.23 497.93,204.24 499.17,207.97 501.66,206.73 503.65,206.23 506.15,207.97 508.64,209.22 511.13,210.46 513.62,211.21 515.61,207.97 517.35,211.21 519.85,211.21 522.34,206.73 523.58,211.71 526.07,212.95 528.56,214.20 531.05,214.70 532.80,215.45" fill="none" stroke="#ff1a1a" stroke-width="1.2" stroke-linejoin="round"/><line x1="285.90" y1="148.69" x2="287.50" y2="148.69" stroke="#777777" stroke-width="0.6"/><text x="284.10" y="150.29" font-size="4.7" text-anchor="end" class="t">7</text><line x1="285.90" y1="163.63" x2="287.50" y2="163.63" stroke="#777777" stroke-width="0.6"/><text x="284.10" y="165.23" font-size="4.7" text-anchor="end" class="t">6</text><line x1="285.90" y1="178.58" x2="287.50" y2="178.58" stroke="#777777" stroke-width="0.6"/><text x="284.10" y="180.18" font-size="4.7" text-anchor="end" class="t">5</text><line x1="285.90" y1="193.53" x2="287.50" y2="193.53" stroke="#777777" stroke-width="0.6"/><text x="284.10" y="195.13" font-size="4.7" text-anchor="end" class="t">4</text><line x1="285.90" y1="208.47" x2="287.50" y2="208.47" stroke="#777777" stroke-width="0.6"/><text x="284.10" y="210.07" font-size="4.7" text-anchor="end" class="t">3</text><line x1="285.90" y1="223.67" x2="287.50" y2="223.67" stroke="#777777" stroke-width="0.6"/><text x="284.10" y="225.27" font-size="4.7" text-anchor="end" class="t">2</text><text x="416.00" y="132.00" font-size="6.15" text-anchor="middle" class="t">Gyeongbuk Prophet Forecast</text><rect x="287.50" y="134.80" width="257.00" height="100.50" fill="none" stroke="#777777" stroke-width="1.0"/><line x1="297.80" y1="235.30" x2="297.80" y2="236.90" stroke="#777777" stroke-width="0.6"/><text x="297.80" y="242.60" font-size="4.7" text-anchor="middle" class="t">2012</text><line x1="333.90" y1="235.30" x2="333.90" y2="236.90" stroke="#777777" stroke-width="0.6"/><text x="333.90" y="242.60" font-size="4.7" text-anchor="middle" class="t">2014</text><line x1="370.00" y1="235.30" x2="370.00" y2="236.90" stroke="#777777" stroke-width="0.6"/><text x="370.00" y="242.60" font-size="4.7" text-anchor="middle" class="t">2016</text><line x1="406.10" y1="235.30" x2="406.10" y2="236.90" stroke="#777777" stroke-width="0.6"/><text x="406.10" y="242.60" font-size="4.7" text-anchor="middle" class="t">2018</text><line x1="442.20" y1="235.30" x2="442.20" y2="236.90" stroke="#777777" stroke-width="0.6"/><text x="442.20" y="242.60" font-size="4.7" text-anchor="middle" class="t">2020</text><line x1="478.30" y1="235.30" x2="478.30" y2="236.90" stroke="#777777" stroke-width="0.6"/><text x="478.30" y="242.60" font-size="4.7" text-anchor="middle" class="t">2022</text><line x1="514.40" y1="235.30" x2="514.40" y2="236.90" stroke="#777777" stroke-width="0.6"/><text x="514.40" y="242.60" font-size="4.7" text-anchor="middle" class="t">2024</text><rect x="501.50" y="138.30" width="41" height="15" rx="1" fill="#fff" fill-opacity="0.8" stroke="#d6d6d6" stroke-width="0.5"/><line x1="503.00" y1="141.60" x2="513.50" y2="141.60" stroke="#1f77b4" stroke-width="1.15"/><line x1="503.00" y1="148.60" x2="513.50" y2="148.60" stroke="#ff1a1a" stroke-width="1.2"/><text x="517.80" y="143.20" font-size="4.8" class="t">Observed</text><text x="517.80" y="150.20" font-size="4.8" class="t">Forecast</text></g>
<g><polygon points="26.90,270.56 28.15,282.27 29.89,282.27 31.63,282.27 32.88,280.53 34.13,286.01 36.62,287.25 39.11,288.00 41.60,288.50 43.59,288.50 44.84,271.06 46.08,284.76 47.83,284.76 49.32,284.26 51.06,283.52 52.81,288.50 55.30,289.74 57.79,290.49 60.28,290.99 61.77,289.74 63.02,273.55 64.27,286.01 66.76,287.25 69.25,288.50 72.24,289.25 75.97,289.74 79.21,288.50 80.95,277.29 82.20,288.50 84.69,289.74 87.18,292.24 89.67,293.98 92.66,295.47 95.90,297.22 97.89,297.22 99.64,280.53 100.88,292.24 103.37,292.98 105.86,293.98 108.35,295.97 110.85,297.22 113.34,297.96 115.83,298.46 117.57,281.03 119.07,294.73 122.05,295.47 124.55,297.96 127.04,299.71 129.53,300.46 132.02,300.46 134.51,299.71 135.75,283.52 137.00,294.73 137.00,295.97 139.49,297.22 141.98,298.46 144.47,299.71 146.96,301.45 149.45,302.95 151.95,303.94 153.69,287.25 154.93,295.97 156.93,297.22 159.42,299.71 161.91,301.45 164.40,303.44 166.89,304.69 169.38,305.94 170.88,303.44 171.87,290.49 173.12,302.20 174.36,304.69 176.36,301.45 177.60,303.44 178.85,307.18 181.84,308.43 185.57,308.92 188.06,308.43 189.81,290.49 191.05,303.44 193.05,304.69 195.54,304.69 198.03,308.43 200.52,310.42 203.01,310.92 205.50,311.42 206.75,308.43 207.99,294.73 209.24,304.69 211.73,305.94 214.22,308.43 216.71,310.92 219.20,312.16 221.69,312.91 224.18,312.16 225.93,295.97 227.17,307.18 229.66,308.92 232.90,312.16 235.39,313.91 237.88,314.65 241.62,314.65 244.11,301.45 245.35,309.67 247.85,310.92 250.34,310.42 252.08,315.90 254.57,317.89 257.81,318.89 260.80,318.89 260.80,354.51 257.81,354.51 254.57,353.51 252.08,351.52 250.34,346.04 247.85,346.54 245.35,345.29 244.11,337.07 241.62,350.27 237.88,350.27 235.39,349.53 232.90,347.78 229.66,344.54 227.17,342.80 225.93,331.59 224.18,347.78 221.69,348.53 219.20,347.78 216.71,346.54 214.22,344.05 211.73,341.56 209.24,340.31 207.99,330.35 206.75,344.05 205.50,347.04 203.01,346.54 200.52,346.04 198.03,344.05 195.54,340.31 193.05,340.31 191.05,339.06 189.81,326.11 188.06,344.05 185.57,344.54 181.84,344.05 178.85,342.80 177.60,339.06 176.36,337.07 174.36,340.31 173.12,337.82 171.87,326.11 170.88,339.06 169.38,341.56 166.89,340.31 164.40,339.06 161.91,337.07 159.42,335.33 156.93,332.84 154.93,331.59 153.69,322.87 151.95,339.56 149.45,338.57 146.96,337.07 144.47,335.33 141.98,334.08 139.49,332.84 137.00,331.59 137.00,330.35 135.75,319.14 134.51,335.33 132.02,336.08 129.53,336.08 127.04,335.33 124.55,333.58 122.05,331.09 119.07,330.35 117.57,316.65 115.83,334.08 113.34,333.58 110.85,332.84 108.35,331.59 105.86,329.60 103.37,328.60 100.88,327.86 99.64,316.15 97.89,332.84 95.90,332.84 92.66,331.09 89.67,329.60 87.18,327.86 84.69,325.36 82.20,324.12 80.95,312.91 79.21,324.12 75.97,325.36 72.24,324.87 69.25,324.12 66.76,322.87 64.27,321.63 63.02,309.17 61.77,325.36 60.28,326.61 57.79,326.11 55.30,325.36 52.81,324.12 51.06,319.14 49.32,319.88 47.83,320.38 46.08,320.38 44.84,306.68 43.59,324.12 41.60,324.12 39.11,323.62 36.62,322.87 34.13,321.63 32.88,316.15 31.63,317.89 29.89,317.89 28.15,317.89 26.90,306.18" fill="#ffc0cb" fill-opacity="0.14"/><polygon points="26.90,274.67 28.15,286.38 29.89,286.38 31.63,286.38 32.88,284.64 34.13,290.12 36.62,291.36 39.11,292.11 41.60,292.61 43.59,292.61 44.84,275.17 46.08,288.87 47.83,288.87 49.32,288.37 51.06,287.63 52.81,292.61 55.30,293.85 57.79,294.60 60.28,295.10 61.77,293.85 63.02,277.66 64.27,290.12 66.76,291.36 69.25,292.61 72.24,293.36 75.97,293.85 79.21,292.61 80.95,281.40 82.20,292.61 84.69,293.85 87.18,296.35 89.67,298.09 92.66,299.58 95.90,301.33 97.89,301.33 99.64,284.64 100.88,296.35 103.37,297.09 105.86,298.09 108.35,300.08 110.85,301.33 113.34,302.07 115.83,302.57 117.57,285.14 119.07,298.84 122.05,299.58 124.55,302.07 127.04,303.82 129.53,304.57 132.02,304.57 134.51,303.82 135.75,287.63 137.00,298.84 137.00,300.08 139.49,301.33 141.98,302.57 144.47,303.82 146.96,305.56 149.45,307.06 151.95,308.05 153.69,291.36 154.93,300.08 156.93,301.33 159.42,303.82 161.91,305.56 164.40,307.55 166.89,308.80 169.38,310.05 170.88,307.55 171.87,294.60 173.12,306.31 174.36,308.80 176.36,305.56 177.60,307.55 178.85,311.29 181.84,312.54 185.57,313.03 188.06,312.54 189.81,294.60 191.05,307.55 193.05,308.80 195.54,308.80 198.03,312.54 200.52,314.53 203.01,315.03 205.50,315.53 206.75,312.54 207.99,298.84 209.24,308.80 211.73,310.05 214.22,312.54 216.71,315.03 219.20,316.27 221.69,317.02 224.18,316.27 225.93,300.08 227.17,311.29 229.66,313.03 232.90,316.27 235.39,318.02 237.88,318.76 241.62,318.76 244.11,305.56 245.35,313.78 247.85,315.03 250.34,314.53 252.08,320.01 254.57,322.00 257.81,323.00 260.80,323.00 260.80,350.40 257.81,350.40 254.57,349.40 252.08,347.41 250.34,341.93 247.85,342.43 245.35,341.18 244.11,332.96 241.62,346.16 237.88,346.16 235.39,345.42 232.90,343.67 229.66,340.43 227.17,338.69 225.93,327.48 224.18,343.67 221.69,344.42 219.20,343.67 216.71,342.43 214.22,339.94 211.73,337.45 209.24,336.20 207.99,326.24 206.75,339.94 205.50,342.93 203.01,342.43 200.52,341.93 198.03,339.94 195.54,336.20 193.05,336.20 191.05,334.95 189.81,322.00 188.06,339.94 185.57,340.43 181.84,339.94 178.85,338.69 177.60,334.95 176.36,332.96 174.36,336.20 173.12,333.71 171.87,322.00 170.88,334.95 169.38,337.45 166.89,336.20 164.40,334.95 161.91,332.96 159.42,331.22 156.93,328.73 154.93,327.48 153.69,318.76 151.95,335.45 149.45,334.46 146.96,332.96 144.47,331.22 141.98,329.97 139.49,328.73 137.00,327.48 137.00,326.24 135.75,315.03 134.51,331.22 132.02,331.97 129.53,331.97 127.04,331.22 124.55,329.47 122.05,326.98 119.07,326.24 117.57,312.54 115.83,329.97 113.34,329.47 110.85,328.73 108.35,327.48 105.86,325.49 103.37,324.49 100.88,323.75 99.64,312.04 97.89,328.73 95.90,328.73 92.66,326.98 89.67,325.49 87.18,323.75 84.69,321.25 82.20,320.01 80.95,308.80 79.21,320.01 75.97,321.25 72.24,320.76 69.25,320.01 66.76,318.76 64.27,317.52 63.02,305.06 61.77,321.25 60.28,322.50 57.79,322.00 55.30,321.25 52.81,320.01 51.06,315.03 49.32,315.77 47.83,316.27 46.08,316.27 44.84,302.57 43.59,320.01 41.60,320.01 39.11,319.51 36.62,318.76 34.13,317.52 32.88,312.04 31.63,313.78 29.89,313.78 28.15,313.78 26.90,302.07" fill="#ffc0cb" fill-opacity="0.32"/><polyline points="26.90,307.55 27.90,317.52 28.89,322.50 29.89,316.27 31.14,308.80 31.88,283.89 32.88,260.97 33.88,298.84 34.87,308.80 36.62,307.55 38.61,310.05 40.35,307.55 42.35,307.55 43.84,303.82 45.09,273.93 46.33,291.36 47.33,306.31 48.57,307.55 49.82,303.82 51.06,308.80 52.81,317.52 54.80,321.25 56.79,320.01 59.28,318.76 61.03,316.27 62.77,303.82 64.27,286.38 66.01,278.91 67.25,282.65 68.50,291.36 70.24,302.57 72.24,306.31 73.73,300.08 75.23,302.57 77.22,306.31 79.21,305.06 80.46,286.38 81.45,270.94 82.70,288.87 83.69,293.85 84.69,303.82 86.19,307.55 87.18,316.27 88.43,307.55 89.67,311.29 91.67,313.78 93.41,312.54 95.15,313.78 97.15,315.03 98.89,316.27 100.13,321.25 101.13,327.48 102.63,316.27 104.62,316.27 106.61,313.78 108.35,315.03 110.10,312.54 112.09,311.79 114.58,311.29 116.57,311.79 117.57,307.55 119.07,303.82 120.81,310.05 122.55,313.78 124.55,316.27 127.04,317.52 129.53,317.52 132.02,319.26 134.51,318.27 135.51,283.89 136.50,303.82 137.00,312.54 138.99,315.03 139.99,319.26 141.48,317.52 143.23,319.26 144.97,318.27 146.96,320.01 148.96,321.25 150.70,322.50 151.95,323.75 152.69,303.82 153.69,263.96 154.69,291.36 155.68,306.31 156.93,307.55 158.92,306.31 160.66,310.05 163.15,313.78 165.65,317.52 168.14,319.26 169.88,320.01 171.37,316.27 173.12,322.50 174.36,326.24 176.36,328.23 178.10,328.73 180.59,329.97 183.08,331.22 185.57,333.71 188.06,331.72 189.31,329.97 190.55,336.20 191.80,334.21 193.79,333.71 195.54,335.70 197.28,334.95 199.27,336.20 201.27,336.20 203.01,336.20 205.50,336.20 207.99,336.20 209.24,333.71 210.48,339.94 211.73,342.43 212.97,337.45 214.22,339.94 216.21,341.68 217.95,339.94 220.45,338.69 222.94,336.20 224.68,333.71 225.93,315.03 227.17,321.25 228.42,313.78 229.66,311.29 231.16,313.78 232.90,316.27 235.39,317.52 237.88,320.01 239.63,319.26 241.62,317.52 242.86,316.77" fill="none" stroke="#1f77b4" stroke-width="1.15" stroke-linejoin="round"/><polyline points="26.90,288.37 28.15,300.08 29.89,300.08 31.63,300.08 32.88,298.34 34.13,303.82 36.62,305.06 39.11,305.81 41.60,306.31 43.59,306.31 44.84,288.87 46.08,302.57 47.83,302.57 49.32,302.07 51.06,301.33 52.81,306.31 55.30,307.55 57.79,308.30 60.28,308.80 61.77,307.55 63.02,291.36 64.27,303.82 66.76,305.06 69.25,306.31 72.24,307.06 75.97,307.55 79.21,306.31 80.95,295.10 82.20,306.31 84.69,307.55 87.18,310.05 89.67,311.79 92.66,313.28 95.90,315.03 97.89,315.03 99.64,298.34 100.88,310.05 103.37,310.79 105.86,311.79 108.35,313.78 110.85,315.03 113.34,315.77 115.83,316.27 117.57,298.84 119.07,312.54 122.05,313.28 124.55,315.77 127.04,317.52 129.53,318.27 132.02,318.27 134.51,317.52 135.75,301.33 137.00,312.54 137.00,313.78 139.49,315.03 141.98,316.27 144.47,317.52 146.96,319.26 149.45,320.76 151.95,321.75 153.69,305.06 154.93,313.78 156.93,315.03 159.42,317.52 161.91,319.26 164.40,321.25 166.89,322.50 169.38,323.75 170.88,321.25 171.87,308.30 173.12,320.01 174.36,322.50 176.36,319.26 177.60,321.25 178.85,324.99 181.84,326.24 185.57,326.73 188.06,326.24 189.81,308.30 191.05,321.25 193.05,322.50 195.54,322.50 198.03,326.24 200.52,328.23 203.01,328.73 205.50,329.23 206.75,326.24 207.99,312.54 209.24,322.50 211.73,323.75 214.22,326.24 216.71,328.73 219.20,329.97 221.69,330.72 224.18,329.97 225.93,313.78 227.17,324.99 229.66,326.73 232.90,329.97 235.39,331.72 237.88,332.46 241.62,332.46 244.11,319.26 245.35,327.48 247.85,328.73 250.34,328.23 252.08,333.71 254.57,335.70 257.81,336.70 260.80,336.70" fill="none" stroke="#ff1a1a" stroke-width="1.2" stroke-linejoin="round"/><line x1="13.90" y1="261.47" x2="15.50" y2="261.47" stroke="#777777" stroke-width="0.6"/><text x="12.10" y="263.07" font-size="4.7" text-anchor="end" class="t">8</text><line x1="13.90" y1="273.93" x2="15.50" y2="273.93" stroke="#777777" stroke-width="0.6"/><text x="12.10" y="275.53" font-size="4.7" text-anchor="end" class="t">7</text><line x1="13.90" y1="286.38" x2="15.50" y2="286.38" stroke="#777777" stroke-width="0.6"/><text x="12.10" y="287.98" font-size="4.7" text-anchor="end" class="t">6</text><line x1="13.90" y1="298.34" x2="15.50" y2="298.34" stroke="#777777" stroke-width="0.6"/><text x="12.10" y="299.94" font-size="4.7" text-anchor="end" class="t">5</text><line x1="13.90" y1="310.54" x2="15.50" y2="310.54" stroke="#777777" stroke-width="0.6"/><text x="12.10" y="312.14" font-size="4.7" text-anchor="end" class="t">4</text><line x1="13.90" y1="322.75" x2="15.50" y2="322.75" stroke="#777777" stroke-width="0.6"/><text x="12.10" y="324.35" font-size="4.7" text-anchor="end" class="t">3</text><line x1="13.90" y1="334.95" x2="15.50" y2="334.95" stroke="#777777" stroke-width="0.6"/><text x="12.10" y="336.55" font-size="4.7" text-anchor="end" class="t">2</text><line x1="13.90" y1="347.16" x2="15.50" y2="347.16" stroke="#777777" stroke-width="0.6"/><text x="12.10" y="348.76" font-size="4.7" text-anchor="end" class="t">1</text><text x="144.00" y="254.30" font-size="6.15" text-anchor="middle" class="t">Gwangju Prophet Forecast</text><rect x="15.50" y="257.10" width="257.00" height="100.50" fill="none" stroke="#777777" stroke-width="1.0"/><line x1="25.80" y1="357.60" x2="25.80" y2="359.20" stroke="#777777" stroke-width="0.6"/><text x="25.80" y="364.90" font-size="4.7" text-anchor="middle" class="t">2012</text><line x1="61.90" y1="357.60" x2="61.90" y2="359.20" stroke="#777777" stroke-width="0.6"/><text x="61.90" y="364.90" font-size="4.7" text-anchor="middle" class="t">2014</text><line x1="98.00" y1="357.60" x2="98.00" y2="359.20" stroke="#777777" stroke-width="0.6"/><text x="98.00" y="364.90" font-size="4.7" text-anchor="middle" class="t">2016</text><line x1="134.10" y1="357.60" x2="134.10" y2="359.20" stroke="#777777" stroke-width="0.6"/><text x="134.10" y="364.90" font-size="4.7" text-anchor="middle" class="t">2018</text><line x1="170.20" y1="357.60" x2="170.20" y2="359.20" stroke="#777777" stroke-width="0.6"/><text x="170.20" y="364.90" font-size="4.7" text-anchor="middle" class="t">2020</text><line x1="206.30" y1="357.60" x2="206.30" y2="359.20" stroke="#777777" stroke-width="0.6"/><text x="206.30" y="364.90" font-size="4.7" text-anchor="middle" class="t">2022</text><line x1="242.40" y1="357.60" x2="242.40" y2="359.20" stroke="#777777" stroke-width="0.6"/><text x="242.40" y="364.90" font-size="4.7" text-anchor="middle" class="t">2024</text><rect x="229.50" y="260.60" width="41" height="15" rx="1" fill="#fff" fill-opacity="0.8" stroke="#d6d6d6" stroke-width="0.5"/><line x1="231.00" y1="263.90" x2="241.50" y2="263.90" stroke="#1f77b4" stroke-width="1.15"/><line x1="231.00" y1="270.90" x2="241.50" y2="270.90" stroke="#ff1a1a" stroke-width="1.2"/><text x="245.80" y="265.50" font-size="4.8" class="t">Observed</text><text x="245.80" y="272.50" font-size="4.8" class="t">Forecast</text></g>
<g><polygon points="298.90,300.23 300.65,300.98 302.39,301.97 303.88,301.48 305.13,298.49 306.37,305.96 308.87,306.46 311.36,305.96 313.85,306.96 315.59,305.96 317.33,302.72 318.58,306.96 320.57,305.96 321.82,305.21 323.06,302.72 324.31,307.70 326.80,308.45 329.79,308.95 332.28,309.45 334.27,308.95 335.52,305.96 336.76,310.19 339.25,310.19 341.75,311.94 344.24,312.69 346.73,313.43 349.22,313.43 351.71,313.93 353.45,310.19 354.70,314.43 357.94,312.69 359.68,314.43 361.67,315.92 364.16,315.92 366.65,316.42 369.15,316.42 370.89,313.93 372.13,316.42 374.63,315.18 376.62,313.93 377.86,310.94 379.11,316.42 381.60,317.67 384.09,317.67 386.58,317.67 389.07,313.93 390.32,317.67 392.81,318.41 394.80,314.43 396.05,319.41 398.54,319.91 401.03,320.16 403.52,320.16 406.01,320.16 407.75,315.92 409.00,318.91 409.00,316.42 411.49,317.67 413.98,320.16 416.47,320.91 420.21,321.40 423.45,321.40 425.19,316.42 426.44,320.91 428.93,321.40 431.42,318.91 432.66,320.91 435.15,321.90 437.65,322.65 440.14,323.40 442.63,321.90 443.87,318.91 445.12,320.91 447.61,321.40 449.35,317.17 450.60,322.65 453.09,323.40 455.58,323.89 458.82,324.39 461.31,318.91 462.55,323.89 465.05,324.39 467.54,320.16 468.78,325.89 472.52,326.39 476.25,326.39 478.75,325.89 479.99,322.65 481.24,325.89 483.73,325.89 486.22,322.65 488.21,325.89 491.20,326.88 494.94,326.88 496.68,326.39 497.93,323.40 499.17,325.14 501.66,323.89 503.65,323.40 504.90,325.89 507.39,326.88 509.88,327.63 512.37,328.38 514.86,327.63 516.11,325.14 517.85,327.63 520.34,328.38 522.34,323.89 523.58,330.12 526.07,330.12 529.06,330.12 532.80,331.37 532.80,355.98 529.06,354.73 526.07,354.73 523.58,354.73 522.34,348.51 520.34,352.99 517.85,352.24 516.11,349.75 514.86,352.24 512.37,352.99 509.88,352.24 507.39,351.49 504.90,350.50 503.65,348.01 501.66,348.51 499.17,349.75 497.93,348.01 496.68,351.00 494.94,351.49 491.20,351.49 488.21,350.50 486.22,347.26 483.73,350.50 481.24,350.50 479.99,347.26 478.75,350.50 476.25,351.00 472.52,351.00 468.78,350.50 467.54,344.77 465.05,349.00 462.55,348.51 461.31,343.52 458.82,349.00 455.58,348.51 453.09,348.01 450.60,347.26 449.35,341.78 447.61,346.01 445.12,345.52 443.87,343.52 442.63,346.51 440.14,348.01 437.65,347.26 435.15,346.51 432.66,345.52 431.42,343.52 428.93,346.01 426.44,345.52 425.19,341.03 423.45,346.01 420.21,346.01 416.47,345.52 413.98,344.77 411.49,342.28 409.00,341.03 409.00,343.52 407.75,340.53 406.01,344.77 403.52,344.77 401.03,344.77 398.54,344.52 396.05,344.02 394.80,339.04 392.81,343.03 390.32,342.28 389.07,338.54 386.58,342.28 384.09,342.28 381.60,342.28 379.11,341.03 377.86,335.55 376.62,338.54 374.63,339.79 372.13,341.03 370.89,338.54 369.15,341.03 366.65,341.03 364.16,340.53 361.67,340.53 359.68,339.04 357.94,337.30 354.70,339.04 353.45,334.81 351.71,338.54 349.22,338.04 346.73,338.04 344.24,337.30 341.75,336.55 339.25,334.81 336.76,334.81 335.52,330.57 334.27,333.56 332.28,334.06 329.79,333.56 326.80,333.06 324.31,332.31 323.06,327.33 321.82,329.82 320.57,330.57 318.58,331.57 317.33,327.33 315.59,330.57 313.85,331.57 311.36,330.57 308.87,331.07 306.37,330.57 305.13,323.10 303.88,326.09 302.39,326.59 300.65,325.59 298.90,324.84" fill="#ffc0cb" fill-opacity="0.14"/><polygon points="298.90,303.07 300.65,303.82 302.39,304.81 303.88,304.32 305.13,301.33 306.37,308.80 308.87,309.30 311.36,308.80 313.85,309.80 315.59,308.80 317.33,305.56 318.58,309.80 320.57,308.80 321.82,308.05 323.06,305.56 324.31,310.54 326.80,311.29 329.79,311.79 332.28,312.29 334.27,311.79 335.52,308.80 336.76,313.03 339.25,313.03 341.75,314.78 344.24,315.53 346.73,316.27 349.22,316.27 351.71,316.77 353.45,313.03 354.70,317.27 357.94,315.53 359.68,317.27 361.67,318.76 364.16,318.76 366.65,319.26 369.15,319.26 370.89,316.77 372.13,319.26 374.63,318.02 376.62,316.77 377.86,313.78 379.11,319.26 381.60,320.51 384.09,320.51 386.58,320.51 389.07,316.77 390.32,320.51 392.81,321.25 394.80,317.27 396.05,322.25 398.54,322.75 401.03,323.00 403.52,323.00 406.01,323.00 407.75,318.76 409.00,321.75 409.00,319.26 411.49,320.51 413.98,323.00 416.47,323.75 420.21,324.24 423.45,324.24 425.19,319.26 426.44,323.75 428.93,324.24 431.42,321.75 432.66,323.75 435.15,324.74 437.65,325.49 440.14,326.24 442.63,324.74 443.87,321.75 445.12,323.75 447.61,324.24 449.35,320.01 450.60,325.49 453.09,326.24 455.58,326.73 458.82,327.23 461.31,321.75 462.55,326.73 465.05,327.23 467.54,323.00 468.78,328.73 472.52,329.23 476.25,329.23 478.75,328.73 479.99,325.49 481.24,328.73 483.73,328.73 486.22,325.49 488.21,328.73 491.20,329.72 494.94,329.72 496.68,329.23 497.93,326.24 499.17,327.98 501.66,326.73 503.65,326.24 504.90,328.73 507.39,329.72 509.88,330.47 512.37,331.22 514.86,330.47 516.11,327.98 517.85,330.47 520.34,331.22 522.34,326.73 523.58,332.96 526.07,332.96 529.06,332.96 532.80,334.21 532.80,353.14 529.06,351.89 526.07,351.89 523.58,351.89 522.34,345.67 520.34,350.15 517.85,349.40 516.11,346.91 514.86,349.40 512.37,350.15 509.88,349.40 507.39,348.65 504.90,347.66 503.65,345.17 501.66,345.67 499.17,346.91 497.93,345.17 496.68,348.16 494.94,348.65 491.20,348.65 488.21,347.66 486.22,344.42 483.73,347.66 481.24,347.66 479.99,344.42 478.75,347.66 476.25,348.16 472.52,348.16 468.78,347.66 467.54,341.93 465.05,346.16 462.55,345.67 461.31,340.68 458.82,346.16 455.58,345.67 453.09,345.17 450.60,344.42 449.35,338.94 447.61,343.17 445.12,342.68 443.87,340.68 442.63,343.67 440.14,345.17 437.65,344.42 435.15,343.67 432.66,342.68 431.42,340.68 428.93,343.17 426.44,342.68 425.19,338.19 423.45,343.17 420.21,343.17 416.47,342.68 413.98,341.93 411.49,339.44 409.00,338.19 409.00,340.68 407.75,337.69 406.01,341.93 403.52,341.93 401.03,341.93 398.54,341.68 396.05,341.18 394.80,336.20 392.81,340.19 390.32,339.44 389.07,335.70 386.58,339.44 384.09,339.44 381.60,339.44 379.11,338.19 377.86,332.71 376.62,335.70 374.63,336.95 372.13,338.19 370.89,335.70 369.15,338.19 366.65,338.19 364.16,337.69 361.67,337.69 359.68,336.20 357.94,334.46 354.70,336.20 353.45,331.97 351.71,335.70 349.22,335.20 346.73,335.20 344.24,334.46 341.75,333.71 339.25,331.97 336.76,331.97 335.52,327.73 334.27,330.72 332.28,331.22 329.79,330.72 326.80,330.22 324.31,329.47 323.06,324.49 321.82,326.98 320.57,327.73 318.58,328.73 317.33,324.49 315.59,327.73 313.85,328.73 311.36,327.73 308.87,328.23 306.37,327.73 305.13,320.26 303.88,323.25 302.39,323.75 300.65,322.75 298.90,322.00" fill="#ffc0cb" fill-opacity="0.32"/><polyline points="298.90,316.27 299.90,307.55 300.89,301.33 301.89,296.35 303.14,298.84 303.88,283.89 304.88,261.47 305.88,303.82 306.87,313.78 308.62,315.03 310.61,316.27 312.60,317.52 314.35,317.52 315.84,320.01 317.33,323.75 318.83,324.99 320.57,326.73 322.57,328.73 324.81,332.46 327.30,333.21 329.79,333.71 331.78,333.21 333.53,331.22 334.77,315.03 336.27,314.28 337.51,319.26 338.76,318.76 340.00,320.01 341.25,322.50 342.49,326.24 344.24,326.73 345.98,324.99 347.97,324.24 349.72,325.74 351.71,324.99 353.20,313.78 354.45,333.71 355.69,326.24 357.94,324.24 360.43,327.48 362.92,328.73 365.41,329.23 367.90,329.97 370.39,331.22 372.88,331.72 375.37,330.72 377.86,329.97 380.35,331.22 382.85,331.22 385.34,329.97 387.08,331.72 389.07,328.73 390.32,329.97 392.81,332.46 395.30,333.21 397.79,333.21 400.28,333.21 402.77,333.21 405.26,333.21 407.01,331.22 408.00,311.79 409.00,324.99 409.00,321.25 410.25,326.24 411.99,328.73 413.98,329.23 416.47,329.97 418.96,330.72 421.45,331.22 423.95,331.22 425.19,328.73 426.93,331.72 428.93,333.21 430.92,331.22 432.66,329.97 435.15,329.23 437.65,328.73 440.14,329.97 442.13,331.22 443.37,329.97 444.37,337.45 445.62,331.22 446.86,331.72 448.36,329.97 450.10,333.71 451.84,335.70 453.84,334.95 455.83,333.21 457.57,333.71 460.06,336.20 461.31,332.46 462.55,334.95 464.30,336.20 466.29,338.69 468.78,339.94 471.27,339.94 473.76,340.68 476.25,340.68 478.75,339.94 480.49,341.18 482.48,341.68 484.97,342.43 487.46,343.17 489.95,343.67 492.45,343.17 494.94,342.43 496.68,338.69 497.93,332.46 499.17,333.71 501.16,334.21 503.16,334.95 504.90,336.20 506.64,335.70 508.64,334.95 511.13,333.21 513.62,331.72 514.86,331.72" fill="none" stroke="#1f77b4" stroke-width="1.15" stroke-linejoin="round"/><polyline points="298.90,312.54 300.65,313.28 302.39,314.28 303.88,313.78 305.13,310.79 306.37,318.27 308.87,318.76 311.36,318.27 313.85,319.26 315.59,318.27 317.33,315.03 318.58,319.26 320.57,318.27 321.82,317.52 323.06,315.03 324.31,320.01 326.80,320.76 329.79,321.25 332.28,321.75 334.27,321.25 335.52,318.27 336.76,322.50 339.25,322.50 341.75,324.24 344.24,324.99 346.73,325.74 349.22,325.74 351.71,326.24 353.45,322.50 354.70,326.73 357.94,324.99 359.68,326.73 361.67,328.23 364.16,328.23 366.65,328.73 369.15,328.73 370.89,326.24 372.13,328.73 374.63,327.48 376.62,326.24 377.86,323.25 379.11,328.73 381.60,329.97 384.09,329.97 386.58,329.97 389.07,326.24 390.32,329.97 392.81,330.72 394.80,326.73 396.05,331.72 398.54,332.21 401.03,332.46 403.52,332.46 406.01,332.46 407.75,328.23 409.00,331.22 409.00,328.73 411.49,329.97 413.98,332.46 416.47,333.21 420.21,333.71 423.45,333.71 425.19,328.73 426.44,333.21 428.93,333.71 431.42,331.22 432.66,333.21 435.15,334.21 437.65,334.95 440.14,335.70 442.63,334.21 443.87,331.22 445.12,333.21 447.61,333.71 449.35,329.47 450.60,334.95 453.09,335.70 455.58,336.20 458.82,336.70 461.31,331.22 462.55,336.20 465.05,336.70 467.54,332.46 468.78,338.19 472.52,338.69 476.25,338.69 478.75,338.19 479.99,334.95 481.24,338.19 483.73,338.19 486.22,334.95 488.21,338.19 491.20,339.19 494.94,339.19 496.68,338.69 497.93,335.70 499.17,337.45 501.66,336.20 503.65,335.70 504.90,338.19 507.39,339.19 509.88,339.94 512.37,340.68 514.86,339.94 516.11,337.45 517.85,339.94 520.34,340.68 522.34,336.20 523.58,342.43 526.07,342.43 529.06,342.43 532.80,343.67" fill="none" stroke="#ff1a1a" stroke-width="1.2" stroke-linejoin="round"/><line x1="285.90" y1="261.47" x2="287.50" y2="261.47" stroke="#777777" stroke-width="0.6"/><text x="284.10" y="263.07" font-size="4.7" text-anchor="end" class="t">10</text><line x1="285.90" y1="281.40" x2="287.50" y2="281.40" stroke="#777777" stroke-width="0.6"/><text x="284.10" y="283.00" font-size="4.7" text-anchor="end" class="t">8</text><line x1="285.90" y1="301.33" x2="287.50" y2="301.33" stroke="#777777" stroke-width="0.6"/><text x="284.10" y="302.93" font-size="4.7" text-anchor="end" class="t">6</text><line x1="285.90" y1="321.25" x2="287.50" y2="321.25" stroke="#777777" stroke-width="0.6"/><text x="284.10" y="322.85" font-size="4.7" text-anchor="end" class="t">4</text><line x1="285.90" y1="341.18" x2="287.50" y2="341.18" stroke="#777777" stroke-width="0.6"/><text x="284.10" y="342.78" font-size="4.7" text-anchor="end" class="t">2</text><text x="416.00" y="254.30" font-size="6.15" text-anchor="middle" class="t">Daegu Prophet Forecast</text><rect x="287.50" y="257.10" width="257.00" height="100.50" fill="none" stroke="#777777" stroke-width="1.0"/><line x1="297.80" y1="357.60" x2="297.80" y2="359.20" stroke="#777777" stroke-width="0.6"/><text x="297.80" y="364.90" font-size="4.7" text-anchor="middle" class="t">2012</text><line x1="333.90" y1="357.60" x2="333.90" y2="359.20" stroke="#777777" stroke-width="0.6"/><text x="333.90" y="364.90" font-size="4.7" text-anchor="middle" class="t">2014</text><line x1="370.00" y1="357.60" x2="370.00" y2="359.20" stroke="#777777" stroke-width="0.6"/><text x="370.00" y="364.90" font-size="4.7" text-anchor="middle" class="t">2016</text><line x1="406.10" y1="357.60" x2="406.10" y2="359.20" stroke="#777777" stroke-width="0.6"/><text x="406.10" y="364.90" font-size="4.7" text-anchor="middle" class="t">2018</text><line x1="442.20" y1="357.60" x2="442.20" y2="359.20" stroke="#777777" stroke-width="0.6"/><text x="442.20" y="364.90" font-size="4.7" text-anchor="middle" class="t">2020</text><line x1="478.30" y1="357.60" x2="478.30" y2="359.20" stroke="#777777" stroke-width="0.6"/><text x="478.30" y="364.90" font-size="4.7" text-anchor="middle" class="t">2022</text><line x1="514.40" y1="357.60" x2="514.40" y2="359.20" stroke="#777777" stroke-width="0.6"/><text x="514.40" y="364.90" font-size="4.7" text-anchor="middle" class="t">2024</text><rect x="501.50" y="260.60" width="41" height="15" rx="1" fill="#fff" fill-opacity="0.8" stroke="#d6d6d6" stroke-width="0.5"/><line x1="503.00" y1="263.90" x2="513.50" y2="263.90" stroke="#1f77b4" stroke-width="1.15"/><line x1="503.00" y1="270.90" x2="513.50" y2="270.90" stroke="#ff1a1a" stroke-width="1.2"/><text x="517.80" y="265.50" font-size="4.8" class="t">Observed</text><text x="517.80" y="272.50" font-size="4.8" class="t">Forecast</text></g>
<g><polygon points="26.90,413.71 28.65,415.21 30.39,414.46 31.88,413.21 33.13,416.95 34.87,418.20 37.36,417.70 39.85,416.95 42.35,415.71 44.34,416.20 46.08,415.21 47.83,416.95 49.82,415.71 51.06,414.46 52.31,418.20 54.80,418.20 57.29,419.44 59.78,419.44 61.77,418.20 63.52,415.71 65.26,418.20 67.25,416.95 69.25,416.20 70.99,418.20 73.48,420.19 75.97,420.69 78.46,421.19 80.21,420.19 81.45,416.95 82.70,418.20 84.69,419.44 87.18,420.69 89.67,421.19 92.16,421.93 94.65,422.68 97.15,422.68 98.89,419.44 100.88,420.19 102.63,421.19 104.62,418.69 106.61,421.19 108.85,422.68 110.85,423.18 113.34,423.68 115.83,422.68 117.57,420.69 119.07,421.19 121.56,421.93 123.55,420.69 125.04,423.18 127.53,423.68 130.03,424.42 132.52,424.42 134.51,423.68 135.75,421.19 137.00,421.93 137.00,421.93 139.49,421.93 141.98,425.67 144.47,426.91 146.96,426.91 149.45,426.17 151.95,425.17 153.69,421.93 155.68,422.68 158.17,424.42 160.66,424.42 163.15,426.91 165.65,427.66 168.14,427.66 169.88,426.17 171.87,423.18 173.12,425.17 175.61,426.17 177.35,425.67 179.35,428.16 181.84,428.66 185.57,428.66 188.06,427.66 189.81,424.42 191.30,428.16 193.79,427.66 195.54,425.17 196.78,429.41 199.27,430.15 202.26,430.65 205.50,430.15 207.99,427.66 209.24,430.15 211.73,430.65 214.22,428.16 216.21,431.15 219.20,431.90 222.94,431.90 224.68,430.65 226.17,428.66 227.42,430.65 229.66,430.15 231.65,428.66 232.90,431.90 235.39,432.64 237.88,433.14 240.37,433.14 242.86,431.90 244.11,430.15 245.85,431.90 248.34,431.90 250.34,430.15 252.08,435.13 254.57,435.63 257.81,435.63 260.80,435.63 260.80,475.79 257.81,475.79 254.57,475.79 252.08,475.29 250.34,470.31 248.34,472.05 245.85,472.05 244.11,470.31 242.86,472.05 240.37,473.29 237.88,473.29 235.39,472.80 232.90,472.05 231.65,468.81 229.66,470.31 227.42,470.80 226.17,468.81 224.68,470.80 222.94,472.05 219.20,472.05 216.21,471.30 214.22,468.31 211.73,470.80 209.24,470.31 207.99,467.81 205.50,470.31 202.26,470.80 199.27,470.31 196.78,469.56 195.54,465.32 193.79,467.81 191.30,468.31 189.81,464.58 188.06,467.81 185.57,468.81 181.84,468.81 179.35,468.31 177.35,465.82 175.61,466.32 173.12,465.32 171.87,463.33 169.88,466.32 168.14,467.81 165.65,467.81 163.15,467.07 160.66,464.58 158.17,464.58 155.68,462.83 153.69,462.09 151.95,465.32 149.45,466.32 146.96,467.07 144.47,467.07 141.98,465.82 139.49,462.09 137.00,462.09 137.00,462.09 135.75,461.34 134.51,463.83 132.52,464.58 130.03,464.58 127.53,463.83 125.04,463.33 123.55,460.84 121.56,462.09 119.07,461.34 117.57,460.84 115.83,462.83 113.34,463.83 110.85,463.33 108.85,462.83 106.61,461.34 104.62,458.85 102.63,461.34 100.88,460.34 98.89,459.59 97.15,462.83 94.65,462.83 92.16,462.09 89.67,461.34 87.18,460.84 84.69,459.59 82.70,458.35 81.45,457.10 80.21,460.34 78.46,461.34 75.97,460.84 73.48,460.34 70.99,458.35 69.25,456.36 67.25,457.10 65.26,458.35 63.52,455.86 61.77,458.35 59.78,459.59 57.29,459.59 54.80,458.35 52.31,458.35 51.06,454.61 49.82,455.86 47.83,457.10 46.08,455.36 44.34,456.36 42.35,455.86 39.85,457.10 37.36,457.85 34.87,458.35 33.13,457.10 31.88,453.37 30.39,454.61 28.65,455.36 26.90,453.87" fill="#ffc0cb" fill-opacity="0.14"/><polygon points="26.90,418.35 28.65,419.84 30.39,419.09 31.88,417.85 33.13,421.58 34.87,422.83 37.36,422.33 39.85,421.58 42.35,420.34 44.34,420.84 46.08,419.84 47.83,421.58 49.82,420.34 51.06,419.09 52.31,422.83 54.80,422.83 57.29,424.07 59.78,424.07 61.77,422.83 63.52,420.34 65.26,422.83 67.25,421.58 69.25,420.84 70.99,422.83 73.48,424.82 75.97,425.32 78.46,425.82 80.21,424.82 81.45,421.58 82.70,422.83 84.69,424.07 87.18,425.32 89.67,425.82 92.16,426.57 94.65,427.31 97.15,427.31 98.89,424.07 100.88,424.82 102.63,425.82 104.62,423.33 106.61,425.82 108.85,427.31 110.85,427.81 113.34,428.31 115.83,427.31 117.57,425.32 119.07,425.82 121.56,426.57 123.55,425.32 125.04,427.81 127.53,428.31 130.03,429.06 132.52,429.06 134.51,428.31 135.75,425.82 137.00,426.57 137.00,426.57 139.49,426.57 141.98,430.30 144.47,431.55 146.96,431.55 149.45,430.80 151.95,429.80 153.69,426.57 155.68,427.31 158.17,429.06 160.66,429.06 163.15,431.55 165.65,432.29 168.14,432.29 169.88,430.80 171.87,427.81 173.12,429.80 175.61,430.80 177.35,430.30 179.35,432.79 181.84,433.29 185.57,433.29 188.06,432.29 189.81,429.06 191.30,432.79 193.79,432.29 195.54,429.80 196.78,434.04 199.27,434.79 202.26,435.28 205.50,434.79 207.99,432.29 209.24,434.79 211.73,435.28 214.22,432.79 216.21,435.78 219.20,436.53 222.94,436.53 224.68,435.28 226.17,433.29 227.42,435.28 229.66,434.79 231.65,433.29 232.90,436.53 235.39,437.28 237.88,437.77 240.37,437.77 242.86,436.53 244.11,434.79 245.85,436.53 248.34,436.53 250.34,434.79 252.08,439.77 254.57,440.27 257.81,440.27 260.80,440.27 260.80,471.15 257.81,471.15 254.57,471.15 252.08,470.65 250.34,465.67 248.34,467.42 245.85,467.42 244.11,465.67 242.86,467.42 240.37,468.66 237.88,468.66 235.39,468.16 232.90,467.42 231.65,464.18 229.66,465.67 227.42,466.17 226.17,464.18 224.68,466.17 222.94,467.42 219.20,467.42 216.21,466.67 214.22,463.68 211.73,466.17 209.24,465.67 207.99,463.18 205.50,465.67 202.26,466.17 199.27,465.67 196.78,464.93 195.54,460.69 193.79,463.18 191.30,463.68 189.81,459.94 188.06,463.18 185.57,464.18 181.84,464.18 179.35,463.68 177.35,461.19 175.61,461.69 173.12,460.69 171.87,458.70 169.88,461.69 168.14,463.18 165.65,463.18 163.15,462.43 160.66,459.94 158.17,459.94 155.68,458.20 153.69,457.45 151.95,460.69 149.45,461.69 146.96,462.43 144.47,462.43 141.98,461.19 139.49,457.45 137.00,457.45 137.00,457.45 135.75,456.71 134.51,459.20 132.52,459.94 130.03,459.94 127.53,459.20 125.04,458.70 123.55,456.21 121.56,457.45 119.07,456.71 117.57,456.21 115.83,458.20 113.34,459.20 110.85,458.70 108.85,458.20 106.61,456.71 104.62,454.21 102.63,456.71 100.88,455.71 98.89,454.96 97.15,458.20 94.65,458.20 92.16,457.45 89.67,456.71 87.18,456.21 84.69,454.96 82.70,453.72 81.45,452.47 80.21,455.71 78.46,456.71 75.97,456.21 73.48,455.71 70.99,453.72 69.25,451.72 67.25,452.47 65.26,453.72 63.52,451.23 61.77,453.72 59.78,454.96 57.29,454.96 54.80,453.72 52.31,453.72 51.06,449.98 49.82,451.23 47.83,452.47 46.08,450.73 44.34,451.72 42.35,451.23 39.85,452.47 37.36,453.22 34.87,453.72 33.13,452.47 31.88,448.73 30.39,449.98 28.65,450.73 26.90,449.23" fill="#ffc0cb" fill-opacity="0.32"/><polyline points="26.90,442.01 28.15,439.52 29.39,434.54 30.39,433.29 31.63,408.38 32.88,383.47 33.88,418.35 34.87,428.31 36.12,428.31 37.86,430.30 39.85,431.30 42.35,432.79 43.84,434.54 45.33,409.63 46.58,425.82 47.83,437.03 49.32,440.76 51.06,443.75 52.81,441.26 54.80,440.76 56.79,442.01 59.28,441.26 61.03,439.52 62.27,445.75 63.27,451.97 64.27,448.24 65.51,449.48 66.76,453.22 67.75,457.70 69.75,458.20 72.24,457.70 74.23,454.46 75.97,450.73 78.46,449.48 79.71,446.99 80.46,433.29 81.20,424.57 82.20,432.05 83.45,435.78 85.19,439.52 87.18,442.01 89.17,442.76 90.92,443.75 93.41,446.99 95.90,449.48 98.39,451.97 99.64,453.22 100.88,444.50 102.13,451.97 103.37,450.73 105.12,449.48 107.11,448.73 109.60,448.24 112.09,446.99 114.58,445.25 116.33,440.76 117.57,427.06 118.82,437.03 120.31,433.29 122.05,429.55 123.30,428.31 124.55,432.05 125.79,433.29 128.28,435.78 130.77,437.03 133.26,438.27 135.01,440.76 135.75,450.73 137.00,446.99 137.00,443.25 138.25,440.76 139.49,434.54 140.74,437.03 141.98,441.26 143.97,444.50 145.72,445.75 148.21,446.99 150.70,448.24 152.44,443.25 153.69,425.82 154.93,435.78 156.18,440.76 157.43,435.78 158.92,438.27 160.66,441.26 163.15,442.01 164.90,438.27 166.89,433.79 168.63,432.05 169.88,420.84 170.88,410.87 171.87,398.92 173.12,418.35 174.36,420.84 175.61,427.06 176.85,433.29 178.10,435.78 179.84,439.52 181.84,443.25 183.83,445.75 185.57,446.99 186.82,448.24 188.56,450.73 190.06,460.69 191.30,445.75 192.30,449.48 193.79,453.22 195.54,455.21 198.03,455.71 200.52,456.21 203.01,456.95 205.50,456.95 206.75,463.18 207.99,475.64 209.24,465.67 210.48,461.94 212.97,459.45 215.46,458.20 217.95,456.95 220.45,455.21 222.19,450.73 224.18,453.22 225.68,460.69 226.92,449.48 228.42,446.99 229.66,444.50 231.65,446.99 233.65,449.48 235.39,449.48 237.88,449.48 240.37,449.48 242.86,449.48" fill="none" stroke="#1f77b4" stroke-width="1.15" stroke-linejoin="round"/><polyline points="26.90,433.79 28.65,435.28 30.39,434.54 31.88,433.29 33.13,437.03 34.87,438.27 37.36,437.77 39.85,437.03 42.35,435.78 44.34,436.28 46.08,435.28 47.83,437.03 49.82,435.78 51.06,434.54 52.31,438.27 54.80,438.27 57.29,439.52 59.78,439.52 61.77,438.27 63.52,435.78 65.26,438.27 67.25,437.03 69.25,436.28 70.99,438.27 73.48,440.27 75.97,440.76 78.46,441.26 80.21,440.27 81.45,437.03 82.70,438.27 84.69,439.52 87.18,440.76 89.67,441.26 92.16,442.01 94.65,442.76 97.15,442.76 98.89,439.52 100.88,440.27 102.63,441.26 104.62,438.77 106.61,441.26 108.85,442.76 110.85,443.25 113.34,443.75 115.83,442.76 117.57,440.76 119.07,441.26 121.56,442.01 123.55,440.76 125.04,443.25 127.53,443.75 130.03,444.50 132.52,444.50 134.51,443.75 135.75,441.26 137.00,442.01 137.00,442.01 139.49,442.01 141.98,445.75 144.47,446.99 146.96,446.99 149.45,446.24 151.95,445.25 153.69,442.01 155.68,442.76 158.17,444.50 160.66,444.50 163.15,446.99 165.65,447.74 168.14,447.74 169.88,446.24 171.87,443.25 173.12,445.25 175.61,446.24 177.35,445.75 179.35,448.24 181.84,448.73 185.57,448.73 188.06,447.74 189.81,444.50 191.30,448.24 193.79,447.74 195.54,445.25 196.78,449.48 199.27,450.23 202.26,450.73 205.50,450.23 207.99,447.74 209.24,450.23 211.73,450.73 214.22,448.24 216.21,451.23 219.20,451.97 222.94,451.97 224.68,450.73 226.17,448.73 227.42,450.73 229.66,450.23 231.65,448.73 232.90,451.97 235.39,452.72 237.88,453.22 240.37,453.22 242.86,451.97 244.11,450.23 245.85,451.97 248.34,451.97 250.34,450.23 252.08,455.21 254.57,455.71 257.81,455.71 260.80,455.71" fill="none" stroke="#ff1a1a" stroke-width="1.2" stroke-linejoin="round"/><line x1="13.90" y1="392.69" x2="15.50" y2="392.69" stroke="#777777" stroke-width="0.6"/><text x="12.10" y="394.29" font-size="4.7" text-anchor="end" class="t">8</text><line x1="13.90" y1="414.11" x2="15.50" y2="414.11" stroke="#777777" stroke-width="0.6"/><text x="12.10" y="415.71" font-size="4.7" text-anchor="end" class="t">6</text><line x1="13.90" y1="435.78" x2="15.50" y2="435.78" stroke="#777777" stroke-width="0.6"/><text x="12.10" y="437.38" font-size="4.7" text-anchor="end" class="t">4</text><line x1="13.90" y1="457.20" x2="15.50" y2="457.20" stroke="#777777" stroke-width="0.6"/><text x="12.10" y="458.80" font-size="4.7" text-anchor="end" class="t">2</text><line x1="13.90" y1="478.63" x2="15.50" y2="478.63" stroke="#777777" stroke-width="0.6"/><text x="12.10" y="480.23" font-size="4.7" text-anchor="end" class="t">0</text><text x="144.00" y="376.60" font-size="6.15" text-anchor="middle" class="t">Daejeon Prophet Forecast</text><rect x="15.50" y="379.40" width="257.00" height="100.50" fill="none" stroke="#777777" stroke-width="1.0"/><line x1="25.80" y1="479.90" x2="25.80" y2="481.50" stroke="#777777" stroke-width="0.6"/><text x="25.80" y="487.20" font-size="4.7" text-anchor="middle" class="t">2012</text><line x1="61.90" y1="479.90" x2="61.90" y2="481.50" stroke="#777777" stroke-width="0.6"/><text x="61.90" y="487.20" font-size="4.7" text-anchor="middle" class="t">2014</text><line x1="98.00" y1="479.90" x2="98.00" y2="481.50" stroke="#777777" stroke-width="0.6"/><text x="98.00" y="487.20" font-size="4.7" text-anchor="middle" class="t">2016</text><line x1="134.10" y1="479.90" x2="134.10" y2="481.50" stroke="#777777" stroke-width="0.6"/><text x="134.10" y="487.20" font-size="4.7" text-anchor="middle" class="t">2018</text><line x1="170.20" y1="479.90" x2="170.20" y2="481.50" stroke="#777777" stroke-width="0.6"/><text x="170.20" y="487.20" font-size="4.7" text-anchor="middle" class="t">2020</text><line x1="206.30" y1="479.90" x2="206.30" y2="481.50" stroke="#777777" stroke-width="0.6"/><text x="206.30" y="487.20" font-size="4.7" text-anchor="middle" class="t">2022</text><line x1="242.40" y1="479.90" x2="242.40" y2="481.50" stroke="#777777" stroke-width="0.6"/><text x="242.40" y="487.20" font-size="4.7" text-anchor="middle" class="t">2024</text><rect x="229.50" y="382.90" width="41" height="15" rx="1" fill="#fff" fill-opacity="0.8" stroke="#d6d6d6" stroke-width="0.5"/><line x1="231.00" y1="386.20" x2="241.50" y2="386.20" stroke="#1f77b4" stroke-width="1.15"/><line x1="231.00" y1="393.20" x2="241.50" y2="393.20" stroke="#ff1a1a" stroke-width="1.2"/><text x="245.80" y="387.80" font-size="4.8" class="t">Observed</text><text x="245.80" y="394.80" font-size="4.8" class="t">Forecast</text></g>
<g><polygon points="298.90,401.56 300.15,408.28 301.89,408.28 303.63,405.79 304.88,403.30 306.13,410.03 308.62,410.77 311.11,411.52 313.60,411.52 315.59,410.77 316.84,402.05 318.08,410.77 320.07,410.03 321.82,409.53 323.06,406.54 324.31,412.52 326.80,414.01 329.79,414.51 332.28,415.01 333.77,413.26 335.02,404.55 336.27,412.52 338.76,412.02 341.00,409.53 342.24,413.26 344.73,415.01 347.97,415.75 351.21,416.50 352.95,408.28 354.20,415.75 356.69,415.01 359.18,414.51 361.67,417.00 364.16,417.50 366.65,417.50 369.15,418.25 370.89,410.77 372.13,418.25 374.63,418.99 376.62,418.25 377.86,412.52 379.11,419.49 381.60,419.99 385.34,420.74 387.83,419.99 389.07,410.03 390.32,419.99 392.81,420.74 394.80,416.50 396.05,421.98 398.54,422.48 401.03,423.23 403.52,423.23 406.51,422.48 407.75,414.51 409.00,419.49 409.00,420.74 411.49,419.99 413.98,422.48 416.47,423.97 420.21,424.97 423.45,424.97 425.19,418.25 426.93,423.97 428.93,424.47 430.92,420.74 432.66,424.97 435.15,426.47 438.39,427.46 441.38,428.21 442.88,424.47 443.87,419.99 445.12,426.47 447.61,425.72 449.35,422.48 450.60,428.21 453.84,429.95 457.57,429.95 460.06,429.45 461.81,422.48 463.05,429.45 465.05,429.95 467.54,425.72 468.78,431.45 472.52,431.95 476.25,432.44 478.75,431.45 479.99,425.72 481.24,431.95 483.73,432.44 486.22,429.45 488.21,433.94 491.20,434.93 494.94,435.68 496.68,434.44 497.93,428.21 499.17,431.95 501.66,432.44 503.65,431.95 504.90,434.44 507.39,436.43 511.13,437.43 514.12,437.43 516.11,430.70 517.85,437.43 520.34,437.43 522.34,432.44 524.08,439.92 526.57,440.66 529.81,441.41 532.80,441.41 532.80,478.97 529.81,478.97 526.57,478.23 524.08,477.48 522.34,470.01 520.34,474.99 517.85,474.99 516.11,468.26 514.12,474.99 511.13,474.99 507.39,473.99 504.90,472.00 503.65,469.51 501.66,470.01 499.17,469.51 497.93,465.77 496.68,472.00 494.94,473.25 491.20,472.50 488.21,471.50 486.22,467.02 483.73,470.01 481.24,469.51 479.99,463.28 478.75,469.01 476.25,470.01 472.52,469.51 468.78,469.01 467.54,463.28 465.05,467.52 463.05,467.02 461.81,460.04 460.06,467.02 457.57,467.52 453.84,467.52 450.60,465.77 449.35,460.04 447.61,463.28 445.12,464.03 443.87,457.55 442.88,462.04 441.38,465.77 438.39,465.03 435.15,464.03 432.66,462.53 430.92,458.30 428.93,462.04 426.93,461.54 425.19,455.81 423.45,462.53 420.21,462.53 416.47,461.54 413.98,460.04 411.49,457.55 409.00,458.30 409.00,457.05 407.75,452.07 406.51,460.04 403.52,460.79 401.03,460.79 398.54,460.04 396.05,459.55 394.80,454.07 392.81,458.30 390.32,457.55 389.07,447.59 387.83,457.55 385.34,458.30 381.60,457.55 379.11,457.05 377.86,450.08 376.62,455.81 374.63,456.56 372.13,455.81 370.89,448.34 369.15,455.81 366.65,455.06 364.16,455.06 361.67,454.56 359.18,452.07 356.69,452.57 354.20,453.32 352.95,445.85 351.21,454.07 347.97,453.32 344.73,452.57 342.24,450.83 341.00,447.09 338.76,449.58 336.27,450.08 335.02,442.11 333.77,450.83 332.28,452.57 329.79,452.07 326.80,451.57 324.31,450.08 323.06,444.10 321.82,447.09 320.07,447.59 318.08,448.34 316.84,439.62 315.59,448.34 313.60,449.08 311.11,449.08 308.62,448.34 306.13,447.59 304.88,440.86 303.63,443.35 301.89,445.85 300.15,445.85 298.90,439.12" fill="#ffc0cb" fill-opacity="0.14"/><polygon points="298.90,405.89 300.15,412.62 301.89,412.62 303.63,410.13 304.88,407.63 306.13,414.36 308.62,415.11 311.11,415.85 313.60,415.85 315.59,415.11 316.84,406.39 318.08,415.11 320.07,414.36 321.82,413.86 323.06,410.87 324.31,416.85 326.80,418.35 329.79,418.84 332.28,419.34 333.77,417.60 335.02,408.88 336.27,416.85 338.76,416.35 341.00,413.86 342.24,417.60 344.73,419.34 347.97,420.09 351.21,420.84 352.95,412.62 354.20,420.09 356.69,419.34 359.18,418.84 361.67,421.33 364.16,421.83 366.65,421.83 369.15,422.58 370.89,415.11 372.13,422.58 374.63,423.33 376.62,422.58 377.86,416.85 379.11,423.83 381.60,424.32 385.34,425.07 387.83,424.32 389.07,414.36 390.32,424.32 392.81,425.07 394.80,420.84 396.05,426.32 398.54,426.81 401.03,427.56 403.52,427.56 406.51,426.81 407.75,418.84 409.00,423.83 409.00,425.07 411.49,424.32 413.98,426.81 416.47,428.31 420.21,429.31 423.45,429.31 425.19,422.58 426.93,428.31 428.93,428.81 430.92,425.07 432.66,429.31 435.15,430.80 438.39,431.80 441.38,432.54 442.88,428.81 443.87,424.32 445.12,430.80 447.61,430.05 449.35,426.81 450.60,432.54 453.84,434.29 457.57,434.29 460.06,433.79 461.81,426.81 463.05,433.79 465.05,434.29 467.54,430.05 468.78,435.78 472.52,436.28 476.25,436.78 478.75,435.78 479.99,430.05 481.24,436.28 483.73,436.78 486.22,433.79 488.21,438.27 491.20,439.27 494.94,440.02 496.68,438.77 497.93,432.54 499.17,436.28 501.66,436.78 503.65,436.28 504.90,438.77 507.39,440.76 511.13,441.76 514.12,441.76 516.11,435.03 517.85,441.76 520.34,441.76 522.34,436.78 524.08,444.25 526.57,445.00 529.81,445.75 532.80,445.75 532.80,474.64 529.81,474.64 526.57,473.89 524.08,473.15 522.34,465.67 520.34,470.65 517.85,470.65 516.11,463.93 514.12,470.65 511.13,470.65 507.39,469.66 504.90,467.67 503.65,465.17 501.66,465.67 499.17,465.17 497.93,461.44 496.68,467.67 494.94,468.91 491.20,468.16 488.21,467.17 486.22,462.68 483.73,465.67 481.24,465.17 479.99,458.95 478.75,464.68 476.25,465.67 472.52,465.17 468.78,464.68 467.54,458.95 465.05,463.18 463.05,462.68 461.81,455.71 460.06,462.68 457.57,463.18 453.84,463.18 450.60,461.44 449.35,455.71 447.61,458.95 445.12,459.69 443.87,453.22 442.88,457.70 441.38,461.44 438.39,460.69 435.15,459.69 432.66,458.20 430.92,453.97 428.93,457.70 426.93,457.20 425.19,451.47 423.45,458.20 420.21,458.20 416.47,457.20 413.98,455.71 411.49,453.22 409.00,453.97 409.00,452.72 407.75,447.74 406.51,455.71 403.52,456.46 401.03,456.46 398.54,455.71 396.05,455.21 394.80,449.73 392.81,453.97 390.32,453.22 389.07,443.25 387.83,453.22 385.34,453.97 381.60,453.22 379.11,452.72 377.86,445.75 376.62,451.47 374.63,452.22 372.13,451.47 370.89,444.00 369.15,451.47 366.65,450.73 364.16,450.73 361.67,450.23 359.18,447.74 356.69,448.24 354.20,448.98 352.95,441.51 351.21,449.73 347.97,448.98 344.73,448.24 342.24,446.49 341.00,442.76 338.76,445.25 336.27,445.75 335.02,437.77 333.77,446.49 332.28,448.24 329.79,447.74 326.80,447.24 324.31,445.75 323.06,439.77 321.82,442.76 320.07,443.25 318.08,444.00 316.84,435.28 315.59,444.00 313.60,444.75 311.11,444.75 308.62,444.00 306.13,443.25 304.88,436.53 303.63,439.02 301.89,441.51 300.15,441.51 298.90,434.79" fill="#ffc0cb" fill-opacity="0.32"/><polyline points="298.90,395.43 299.90,423.33 301.39,427.06 302.39,430.80 303.14,434.54 303.88,408.38 304.88,383.97 305.88,425.82 306.87,440.76 308.87,440.76 310.61,439.52 313.10,440.27 314.84,439.52 316.09,435.78 317.09,429.55 318.08,439.52 319.33,433.29 320.57,430.80 321.82,432.05 323.06,437.03 324.31,442.01 325.55,435.78 326.80,432.05 328.79,432.79 331.28,433.29 333.03,429.55 334.77,408.38 336.02,425.82 337.26,429.55 339.25,432.05 341.75,435.78 344.24,440.27 346.23,441.26 347.97,440.27 349.72,439.52 351.21,435.78 352.95,417.10 354.20,432.05 355.69,435.78 357.19,432.05 358.68,427.06 360.43,430.80 362.17,434.54 364.66,435.78 366.65,435.78 368.65,437.03 370.39,439.52 371.64,450.73 372.88,455.71 374.13,451.97 375.37,446.99 376.62,443.25 377.86,442.76 379.11,446.99 380.35,442.01 382.10,441.26 384.09,438.27 386.08,437.77 387.83,437.03 389.07,429.55 390.32,435.78 392.81,432.05 395.30,431.30 397.79,431.30 400.28,432.05 402.77,432.79 405.26,433.29 407.26,430.80 408.25,405.89 409.00,405.89 409.00,405.39 410.25,408.38 411.49,417.10 412.74,420.84 414.48,419.59 416.47,422.08 418.47,424.57 420.21,427.06 421.95,427.06 423.95,429.55 425.19,434.54 426.44,432.05 428.43,428.31 429.43,427.06 430.92,430.80 432.66,437.03 434.41,440.76 436.40,444.50 438.39,446.24 440.14,446.99 441.88,448.24 443.37,451.97 444.62,455.71 446.36,456.95 448.36,458.20 450.10,456.21 451.84,455.21 453.84,456.95 456.33,458.20 458.32,459.45 460.06,461.94 461.81,464.43 463.80,464.43 465.79,463.18 467.54,461.94 469.28,463.18 471.27,464.43 473.27,466.17 475.01,463.18 476.75,462.68 478.75,460.69 479.99,458.20 481.24,455.21 482.48,456.95 484.23,458.20 486.22,457.70 488.21,459.45 490.70,460.69 493.19,461.44 495.68,462.68 496.93,445.75 497.68,429.55 498.67,443.25 499.92,438.27 501.66,438.77 503.65,440.27 505.65,442.01 507.39,443.25 509.88,444.50 512.37,442.76 514.86,441.26" fill="none" stroke="#1f77b4" stroke-width="1.15" stroke-linejoin="round"/><polyline points="298.90,420.34 300.15,427.06 301.89,427.06 303.63,424.57 304.88,422.08 306.13,428.81 308.62,429.55 311.11,430.30 313.60,430.30 315.59,429.55 316.84,420.84 318.08,429.55 320.07,428.81 321.82,428.31 323.06,425.32 324.31,431.30 326.80,432.79 329.79,433.29 332.28,433.79 333.77,432.05 335.02,423.33 336.27,431.30 338.76,430.80 341.00,428.31 342.24,432.05 344.73,433.79 347.97,434.54 351.21,435.28 352.95,427.06 354.20,434.54 356.69,433.79 359.18,433.29 361.67,435.78 364.16,436.28 366.65,436.28 369.15,437.03 370.89,429.55 372.13,437.03 374.63,437.77 376.62,437.03 377.86,431.30 379.11,438.27 381.60,438.77 385.34,439.52 387.83,438.77 389.07,428.81 390.32,438.77 392.81,439.52 394.80,435.28 396.05,440.76 398.54,441.26 401.03,442.01 403.52,442.01 406.51,441.26 407.75,433.29 409.00,438.27 409.00,439.52 411.49,438.77 413.98,441.26 416.47,442.76 420.21,443.75 423.45,443.75 425.19,437.03 426.93,442.76 428.93,443.25 430.92,439.52 432.66,443.75 435.15,445.25 438.39,446.24 441.38,446.99 442.88,443.25 443.87,438.77 445.12,445.25 447.61,444.50 449.35,441.26 450.60,446.99 453.84,448.73 457.57,448.73 460.06,448.24 461.81,441.26 463.05,448.24 465.05,448.73 467.54,444.50 468.78,450.23 472.52,450.73 476.25,451.23 478.75,450.23 479.99,444.50 481.24,450.73 483.73,451.23 486.22,448.24 488.21,452.72 491.20,453.72 494.94,454.46 496.68,453.22 497.93,446.99 499.17,450.73 501.66,451.23 503.65,450.73 504.90,453.22 507.39,455.21 511.13,456.21 514.12,456.21 516.11,449.48 517.85,456.21 520.34,456.21 522.34,451.23 524.08,458.70 526.57,459.45 529.81,460.19 532.80,460.19" fill="none" stroke="#ff1a1a" stroke-width="1.2" stroke-linejoin="round"/><line x1="285.90" y1="391.69" x2="287.50" y2="391.69" stroke="#777777" stroke-width="0.6"/><text x="284.10" y="393.29" font-size="4.7" text-anchor="end" class="t">6</text><line x1="285.90" y1="409.88" x2="287.50" y2="409.88" stroke="#777777" stroke-width="0.6"/><text x="284.10" y="411.48" font-size="4.7" text-anchor="end" class="t">5</text><line x1="285.90" y1="427.81" x2="287.50" y2="427.81" stroke="#777777" stroke-width="0.6"/><text x="284.10" y="429.41" font-size="4.7" text-anchor="end" class="t">4</text><line x1="285.90" y1="445.75" x2="287.50" y2="445.75" stroke="#777777" stroke-width="0.6"/><text x="284.10" y="447.35" font-size="4.7" text-anchor="end" class="t">3</text><line x1="285.90" y1="463.68" x2="287.50" y2="463.68" stroke="#777777" stroke-width="0.6"/><text x="284.10" y="465.28" font-size="4.7" text-anchor="end" class="t">2</text><text x="416.00" y="376.60" font-size="6.15" text-anchor="middle" class="t">Busan Prophet Forecast</text><rect x="287.50" y="379.40" width="257.00" height="100.50" fill="none" stroke="#777777" stroke-width="1.0"/><line x1="297.80" y1="479.90" x2="297.80" y2="481.50" stroke="#777777" stroke-width="0.6"/><text x="297.80" y="487.20" font-size="4.7" text-anchor="middle" class="t">2012</text><line x1="333.90" y1="479.90" x2="333.90" y2="481.50" stroke="#777777" stroke-width="0.6"/><text x="333.90" y="487.20" font-size="4.7" text-anchor="middle" class="t">2014</text><line x1="370.00" y1="479.90" x2="370.00" y2="481.50" stroke="#777777" stroke-width="0.6"/><text x="370.00" y="487.20" font-size="4.7" text-anchor="middle" class="t">2016</text><line x1="406.10" y1="479.90" x2="406.10" y2="481.50" stroke="#777777" stroke-width="0.6"/><text x="406.10" y="487.20" font-size="4.7" text-anchor="middle" class="t">2018</text><line x1="442.20" y1="479.90" x2="442.20" y2="481.50" stroke="#777777" stroke-width="0.6"/><text x="442.20" y="487.20" font-size="4.7" text-anchor="middle" class="t">2020</text><line x1="478.30" y1="479.90" x2="478.30" y2="481.50" stroke="#777777" stroke-width="0.6"/><text x="478.30" y="487.20" font-size="4.7" text-anchor="middle" class="t">2022</text><line x1="514.40" y1="479.90" x2="514.40" y2="481.50" stroke="#777777" stroke-width="0.6"/><text x="514.40" y="487.20" font-size="4.7" text-anchor="middle" class="t">2024</text><rect x="501.50" y="382.90" width="41" height="15" rx="1" fill="#fff" fill-opacity="0.8" stroke="#d6d6d6" stroke-width="0.5"/><line x1="503.00" y1="386.20" x2="513.50" y2="386.20" stroke="#1f77b4" stroke-width="1.15"/><line x1="503.00" y1="393.20" x2="513.50" y2="393.20" stroke="#ff1a1a" stroke-width="1.2"/><text x="517.80" y="387.80" font-size="4.8" class="t">Observed</text><text x="517.80" y="394.80" font-size="4.8" class="t">Forecast</text></g>
<g><polygon points="26.90,545.23 28.65,544.23 30.39,543.49 31.88,542.24 32.88,534.27 34.13,544.73 36.62,545.23 39.11,545.98 41.60,546.73 43.59,547.22 45.09,539.25 46.33,547.22 48.07,548.47 49.82,547.22 51.06,541.74 52.31,549.71 54.80,550.21 57.79,550.96 60.28,551.71 61.77,549.71 63.02,547.22 64.27,550.96 66.76,550.96 69.25,549.71 70.99,552.21 73.48,553.45 75.97,554.20 78.46,555.19 80.21,554.20 81.70,552.21 82.95,554.70 85.44,554.20 87.18,555.19 89.67,556.69 92.16,557.69 94.65,559.18 97.15,560.18 98.89,559.68 100.13,562.17 102.13,560.18 104.12,558.43 105.86,550.96 107.11,562.67 109.60,563.41 113.34,564.16 115.83,564.66 117.32,556.69 118.57,564.16 121.06,564.66 123.05,559.18 124.30,566.65 127.04,567.15 129.53,567.65 132.02,568.40 134.51,567.65 135.75,564.66 137.00,565.91 137.00,567.15 139.49,567.65 141.98,568.40 144.47,569.64 148.21,570.89 151.45,570.89 153.19,569.64 154.93,571.63 156.93,569.64 158.92,570.14 160.66,572.13 163.15,573.38 166.39,574.13 169.38,574.62 170.88,572.63 171.87,571.63 173.12,574.62 175.61,575.87 176.85,574.62 177.60,565.91 178.60,575.12 181.09,575.87 184.33,576.62 186.82,577.11 188.56,575.87 189.81,569.64 191.05,577.11 193.05,578.36 195.54,573.38 196.78,579.61 200.52,580.10 204.25,580.10 206.75,579.61 207.99,575.87 209.24,579.11 211.73,578.36 212.97,576.62 214.22,578.36 216.71,579.11 220.45,579.11 224.18,578.36 226.17,575.87 227.17,577.11 229.66,575.87 231.65,576.62 232.90,578.36 235.39,579.11 239.13,579.61 242.12,579.61 244.11,581.60 245.85,579.61 248.34,579.11 250.34,568.40 251.58,579.61 254.07,579.11 257.81,579.61 260.80,580.10 260.80,598.24 257.81,597.74 254.07,597.24 251.58,597.74 250.34,586.53 248.34,597.24 245.85,597.74 244.11,599.73 242.12,597.74 239.13,597.74 235.39,597.24 232.90,596.49 231.65,594.75 229.66,594.00 227.17,595.25 226.17,594.00 224.18,596.49 220.45,597.24 216.71,597.24 214.22,596.49 212.97,594.75 211.73,596.49 209.24,597.24 207.99,594.00 206.75,597.74 204.25,598.24 200.52,598.24 196.78,597.74 195.54,591.51 193.05,596.49 191.05,595.25 189.81,587.78 188.56,594.00 186.82,595.25 184.33,594.75 181.09,594.00 178.60,593.26 177.60,584.04 176.85,592.76 175.61,594.00 173.12,592.76 171.87,589.77 170.88,590.77 169.38,592.76 166.39,592.26 163.15,591.51 160.66,590.27 158.92,588.27 156.93,587.78 154.93,589.77 153.19,587.78 151.45,589.02 148.21,589.02 144.47,587.78 141.98,586.53 139.49,585.78 137.00,585.29 137.00,584.04 135.75,582.79 134.51,585.78 132.02,586.53 129.53,585.78 127.04,585.29 124.30,584.79 123.05,577.31 121.06,582.79 118.57,582.30 117.32,574.82 115.83,582.79 113.34,582.30 109.60,581.55 107.11,580.80 105.86,569.09 104.12,576.57 102.13,578.31 100.13,580.30 98.89,577.81 97.15,578.31 94.65,577.31 92.16,575.82 89.67,574.82 87.18,573.33 85.44,572.33 82.95,572.83 81.70,570.34 80.21,572.33 78.46,573.33 75.97,572.33 73.48,571.59 70.99,570.34 69.25,567.85 66.76,569.09 64.27,569.09 63.02,565.36 61.77,567.85 60.28,569.84 57.79,569.09 54.80,568.35 52.31,567.85 51.06,559.88 49.82,565.36 48.07,566.60 46.33,565.36 45.09,557.39 43.59,565.36 41.60,564.86 39.11,564.11 36.62,563.37 34.13,562.87 32.88,552.41 31.88,560.38 30.39,561.62 28.65,562.37 26.90,563.37" fill="#ffc0cb" fill-opacity="0.14"/><polygon points="26.90,547.32 28.65,546.33 30.39,545.58 31.88,544.33 32.88,536.36 34.13,546.83 36.62,547.32 39.11,548.07 41.60,548.82 43.59,549.32 45.09,541.35 46.33,549.32 48.07,550.56 49.82,549.32 51.06,543.84 52.31,551.81 54.80,552.31 57.79,553.05 60.28,553.80 61.77,551.81 63.02,549.32 64.27,553.05 66.76,553.05 69.25,551.81 70.99,554.30 73.48,555.54 75.97,556.29 78.46,557.29 80.21,556.29 81.70,554.30 82.95,556.79 85.44,556.29 87.18,557.29 89.67,558.78 92.16,559.78 94.65,561.27 97.15,562.27 98.89,561.77 100.13,564.26 102.13,562.27 104.12,560.53 105.86,553.05 107.11,564.76 109.60,565.51 113.34,566.25 115.83,566.75 117.32,558.78 118.57,566.25 121.06,566.75 123.05,561.27 124.30,568.75 127.04,569.24 129.53,569.74 132.02,570.49 134.51,569.74 135.75,566.75 137.00,568.00 137.00,569.24 139.49,569.74 141.98,570.49 144.47,571.73 148.21,572.98 151.45,572.98 153.19,571.73 154.93,573.73 156.93,571.73 158.92,572.23 160.66,574.23 163.15,575.47 166.39,576.22 169.38,576.72 170.88,574.72 171.87,573.73 173.12,576.72 175.61,577.96 176.85,576.72 177.60,568.00 178.60,577.21 181.09,577.96 184.33,578.71 186.82,579.21 188.56,577.96 189.81,571.73 191.05,579.21 193.05,580.45 195.54,575.47 196.78,581.70 200.52,582.20 204.25,582.20 206.75,581.70 207.99,577.96 209.24,581.20 211.73,580.45 212.97,578.71 214.22,580.45 216.71,581.20 220.45,581.20 224.18,580.45 226.17,577.96 227.17,579.21 229.66,577.96 231.65,578.71 232.90,580.45 235.39,581.20 239.13,581.70 242.12,581.70 244.11,583.69 245.85,581.70 248.34,581.20 250.34,570.49 251.58,581.70 254.07,581.20 257.81,581.70 260.80,582.20 260.80,596.15 257.81,595.65 254.07,595.15 251.58,595.65 250.34,584.44 248.34,595.15 245.85,595.65 244.11,597.64 242.12,595.65 239.13,595.65 235.39,595.15 232.90,594.40 231.65,592.66 229.66,591.91 227.17,593.16 226.17,591.91 224.18,594.40 220.45,595.15 216.71,595.15 214.22,594.40 212.97,592.66 211.73,594.40 209.24,595.15 207.99,591.91 206.75,595.65 204.25,596.15 200.52,596.15 196.78,595.65 195.54,589.42 193.05,594.40 191.05,593.16 189.81,585.68 188.56,591.91 186.82,593.16 184.33,592.66 181.09,591.91 178.60,591.16 177.60,581.95 176.85,590.67 175.61,591.91 173.12,590.67 171.87,587.68 170.88,588.67 169.38,590.67 166.39,590.17 163.15,589.42 160.66,588.17 158.92,586.18 156.93,585.68 154.93,587.68 153.19,585.68 151.45,586.93 148.21,586.93 144.47,585.68 141.98,584.44 139.49,583.69 137.00,583.19 137.00,581.95 135.75,580.70 134.51,583.69 132.02,584.44 129.53,583.69 127.04,583.19 124.30,582.69 123.05,575.22 121.06,580.70 118.57,580.20 117.32,572.73 115.83,580.70 113.34,580.20 109.60,579.46 107.11,578.71 105.86,567.00 104.12,574.47 102.13,576.22 100.13,578.21 98.89,575.72 97.15,576.22 94.65,575.22 92.16,573.73 89.67,572.73 87.18,571.24 85.44,570.24 82.95,570.74 81.70,568.25 80.21,570.24 78.46,571.24 75.97,570.24 73.48,569.49 70.99,568.25 69.25,565.76 66.76,567.00 64.27,567.00 63.02,563.27 61.77,565.76 60.28,567.75 57.79,567.00 54.80,566.25 52.31,565.76 51.06,557.79 49.82,563.27 48.07,564.51 46.33,563.27 45.09,555.29 43.59,563.27 41.60,562.77 39.11,562.02 36.62,561.27 34.13,560.77 32.88,550.31 31.88,558.28 30.39,559.53 28.65,560.28 26.90,561.27" fill="#ffc0cb" fill-opacity="0.32"/><polyline points="26.90,555.05 28.65,553.80 30.39,553.30 31.63,548.82 32.88,505.23 34.13,555.05 36.12,555.79 38.61,556.79 41.10,556.29 42.84,556.79 44.34,554.30 45.58,555.05 46.83,558.78 48.07,559.28 49.82,560.03 51.31,562.52 52.81,565.01 54.80,565.76 56.79,565.76 59.28,564.26 61.28,562.52 62.27,550.06 63.27,540.10 64.27,551.31 65.51,556.29 66.76,554.30 68.00,552.55 69.25,553.30 70.49,556.79 72.24,558.78 74.73,560.03 77.22,561.27 79.71,563.27 80.95,566.25 82.20,565.01 83.94,563.27 85.94,564.26 87.68,562.52 89.67,563.27 92.16,564.26 94.65,566.25 97.15,568.75 98.64,573.73 99.89,584.19 101.13,578.71 102.63,574.97 104.62,573.73 106.61,573.23 109.10,572.48 111.59,572.48 114.08,572.48 115.83,573.73 117.57,571.24 119.07,573.23 120.81,572.48 122.55,574.23 124.55,576.22 127.04,576.72 129.53,577.46 132.02,577.46 134.01,577.46 135.26,569.99 136.50,573.23 137.00,573.73 138.99,574.97 139.99,571.73 141.48,576.22 143.23,577.46 144.97,578.71 147.46,579.21 149.95,579.95 152.44,579.95 153.94,579.21 155.18,584.94 156.93,582.45 159.42,581.20 161.91,581.20 164.40,582.45 166.89,583.19 168.88,582.45 170.63,578.71 172.37,578.21 174.36,579.21 176.36,581.20 178.10,583.69 179.84,584.94 182.33,585.68 184.83,586.18 186.82,587.43 188.81,581.20 190.06,578.21 191.30,587.43 193.05,589.92 195.54,591.66 198.03,592.41 200.52,593.16 203.01,593.65 205.50,594.15 207.99,593.65 209.73,594.90 211.73,593.65 214.22,593.16 216.71,592.41 219.20,591.66 221.69,591.16 224.18,589.92 225.43,586.18 227.17,581.20 229.16,579.95 231.65,579.95 234.15,579.95 236.64,580.70 239.13,581.20 241.62,581.70 242.86,581.70" fill="none" stroke="#1f77b4" stroke-width="1.15" stroke-linejoin="round"/><polyline points="26.90,554.30 28.65,553.30 30.39,552.55 31.88,551.31 32.88,543.34 34.13,553.80 36.62,554.30 39.11,555.05 41.60,555.79 43.59,556.29 45.09,548.32 46.33,556.29 48.07,557.54 49.82,556.29 51.06,550.81 52.31,558.78 54.80,559.28 57.79,560.03 60.28,560.77 61.77,558.78 63.02,556.29 64.27,560.03 66.76,560.03 69.25,558.78 70.99,561.27 73.48,562.52 75.97,563.27 78.46,564.26 80.21,563.27 81.70,561.27 82.95,563.76 85.44,563.27 87.18,564.26 89.67,565.76 92.16,566.75 94.65,568.25 97.15,569.24 98.89,568.75 100.13,571.24 102.13,569.24 104.12,567.50 105.86,560.03 107.11,571.73 109.60,572.48 113.34,573.23 115.83,573.73 117.32,565.76 118.57,573.23 121.06,573.73 123.05,568.25 124.30,575.72 127.04,576.22 129.53,576.72 132.02,577.46 134.51,576.72 135.75,573.73 137.00,574.97 137.00,576.22 139.49,576.72 141.98,577.46 144.47,578.71 148.21,579.95 151.45,579.95 153.19,578.71 154.93,580.70 156.93,578.71 158.92,579.21 160.66,581.20 163.15,582.45 166.39,583.19 169.38,583.69 170.88,581.70 171.87,580.70 173.12,583.69 175.61,584.94 176.85,583.69 177.60,574.97 178.60,584.19 181.09,584.94 184.33,585.68 186.82,586.18 188.56,584.94 189.81,578.71 191.05,586.18 193.05,587.43 195.54,582.45 196.78,588.67 200.52,589.17 204.25,589.17 206.75,588.67 207.99,584.94 209.24,588.17 211.73,587.43 212.97,585.68 214.22,587.43 216.71,588.17 220.45,588.17 224.18,587.43 226.17,584.94 227.17,586.18 229.66,584.94 231.65,585.68 232.90,587.43 235.39,588.17 239.13,588.67 242.12,588.67 244.11,590.67 245.85,588.67 248.34,588.17 250.34,577.46 251.58,588.67 254.07,588.17 257.81,588.67 260.80,589.17" fill="none" stroke="#ff1a1a" stroke-width="1.2" stroke-linejoin="round"/><line x1="13.90" y1="506.47" x2="15.50" y2="506.47" stroke="#777777" stroke-width="0.6"/><text x="12.10" y="508.07" font-size="4.7" text-anchor="end" class="t">10</text><line x1="13.90" y1="527.65" x2="15.50" y2="527.65" stroke="#777777" stroke-width="0.6"/><text x="12.10" y="529.25" font-size="4.7" text-anchor="end" class="t">8</text><line x1="13.90" y1="548.82" x2="15.50" y2="548.82" stroke="#777777" stroke-width="0.6"/><text x="12.10" y="550.42" font-size="4.7" text-anchor="end" class="t">6</text><line x1="13.90" y1="570.24" x2="15.50" y2="570.24" stroke="#777777" stroke-width="0.6"/><text x="12.10" y="571.84" font-size="4.7" text-anchor="end" class="t">4</text><line x1="13.90" y1="591.66" x2="15.50" y2="591.66" stroke="#777777" stroke-width="0.6"/><text x="12.10" y="593.26" font-size="4.7" text-anchor="end" class="t">2</text><text x="144.00" y="498.90" font-size="6.15" text-anchor="middle" class="t">Seoul Prophet Forecast</text><rect x="15.50" y="501.70" width="257.00" height="100.50" fill="none" stroke="#777777" stroke-width="1.0"/><line x1="25.80" y1="602.20" x2="25.80" y2="603.80" stroke="#777777" stroke-width="0.6"/><text x="25.80" y="609.50" font-size="4.7" text-anchor="middle" class="t">2012</text><line x1="61.90" y1="602.20" x2="61.90" y2="603.80" stroke="#777777" stroke-width="0.6"/><text x="61.90" y="609.50" font-size="4.7" text-anchor="middle" class="t">2014</text><line x1="98.00" y1="602.20" x2="98.00" y2="603.80" stroke="#777777" stroke-width="0.6"/><text x="98.00" y="609.50" font-size="4.7" text-anchor="middle" class="t">2016</text><line x1="134.10" y1="602.20" x2="134.10" y2="603.80" stroke="#777777" stroke-width="0.6"/><text x="134.10" y="609.50" font-size="4.7" text-anchor="middle" class="t">2018</text><line x1="170.20" y1="602.20" x2="170.20" y2="603.80" stroke="#777777" stroke-width="0.6"/><text x="170.20" y="609.50" font-size="4.7" text-anchor="middle" class="t">2020</text><line x1="206.30" y1="602.20" x2="206.30" y2="603.80" stroke="#777777" stroke-width="0.6"/><text x="206.30" y="609.50" font-size="4.7" text-anchor="middle" class="t">2022</text><line x1="242.40" y1="602.20" x2="242.40" y2="603.80" stroke="#777777" stroke-width="0.6"/><text x="242.40" y="609.50" font-size="4.7" text-anchor="middle" class="t">2024</text><rect x="229.50" y="505.20" width="41" height="15" rx="1" fill="#fff" fill-opacity="0.8" stroke="#d6d6d6" stroke-width="0.5"/><line x1="231.00" y1="508.50" x2="241.50" y2="508.50" stroke="#1f77b4" stroke-width="1.15"/><line x1="231.00" y1="515.50" x2="241.50" y2="515.50" stroke="#ff1a1a" stroke-width="1.2"/><text x="245.80" y="510.10" font-size="4.8" class="t">Observed</text><text x="245.80" y="517.10" font-size="4.8" class="t">Forecast</text></g>
<g><polygon points="360.43,555.42 361.67,567.87 364.16,567.87 366.65,567.87 368.65,567.87 370.39,565.38 372.13,569.12 374.13,566.63 376.12,566.13 377.86,562.14 379.11,561.65 380.85,564.14 382.85,565.38 385.34,567.87 387.83,568.62 389.57,566.63 391.07,560.40 392.81,562.89 394.55,561.65 396.05,558.66 397.29,564.14 399.53,565.38 402.77,565.38 405.26,565.38 407.75,566.63 409.00,564.64 409.00,564.64 411.49,564.64 413.98,561.65 415.48,556.66 416.97,564.64 419.46,564.64 422.70,565.38 424.44,562.14 425.94,560.40 427.68,563.64 430.92,562.89 432.91,554.67 434.41,564.64 436.90,564.64 440.14,564.64 442.63,565.38 445.12,565.38 447.61,563.64 450.85,559.16 452.59,563.64 455.08,565.38 457.57,565.38 460.06,566.13 462.55,564.14 465.05,563.64 467.54,559.16 469.28,560.40 471.27,563.64 473.76,565.38 476.25,565.38 478.75,564.64 480.74,563.64 482.48,562.14 484.97,559.16 486.72,556.17 488.21,563.64 490.70,565.38 493.69,565.38 496.18,564.64 498.67,564.14 500.67,563.64 502.41,561.65 504.15,557.91 505.40,553.68 506.64,561.65 508.64,563.64 511.63,564.64 514.86,564.64 516.61,562.89 518.60,562.89 521.09,561.15 522.83,557.91 524.83,561.65 527.32,563.64 529.81,564.14 532.80,563.64 532.80,592.78 529.81,593.28 527.32,592.78 524.83,590.79 522.83,587.05 521.09,590.29 518.60,592.04 516.61,592.04 514.86,593.78 511.63,593.78 508.64,592.78 506.64,590.79 505.40,582.82 504.15,587.05 502.41,590.79 500.67,592.78 498.67,593.28 496.18,593.78 493.69,594.53 490.70,594.53 488.21,592.78 486.72,585.31 484.97,588.30 482.48,591.29 480.74,592.78 478.75,593.78 476.25,594.53 473.76,594.53 471.27,592.78 469.28,589.54 467.54,588.30 465.05,592.78 462.55,593.28 460.06,595.27 457.57,594.53 455.08,594.53 452.59,592.78 450.85,588.30 447.61,592.78 445.12,594.53 442.63,594.53 440.14,593.78 436.90,593.78 434.41,593.78 432.91,583.82 430.92,592.04 427.68,592.78 425.94,589.54 424.44,591.29 422.70,594.53 419.46,593.78 416.97,593.78 415.48,585.81 413.98,590.79 411.49,593.78 409.00,593.78 409.00,593.78 407.75,595.77 405.26,594.53 402.77,594.53 399.53,594.53 397.29,593.28 396.05,587.80 394.55,590.79 392.81,592.04 391.07,589.54 389.57,595.77 387.83,597.76 385.34,597.02 382.85,594.53 380.85,593.28 379.11,590.79 377.86,591.29 376.12,595.27 374.13,595.77 372.13,598.26 370.39,594.53 368.65,597.02 366.65,597.02 364.16,597.02 361.67,597.02 360.43,584.56" fill="#ffc0cb" fill-opacity="0.14"/><polygon points="360.43,558.78 361.67,571.24 364.16,571.24 366.65,571.24 368.65,571.24 370.39,568.75 372.13,572.48 374.13,569.99 376.12,569.49 377.86,565.51 379.11,565.01 380.85,567.50 382.85,568.75 385.34,571.24 387.83,571.98 389.57,569.99 391.07,563.76 392.81,566.25 394.55,565.01 396.05,562.02 397.29,567.50 399.53,568.75 402.77,568.75 405.26,568.75 407.75,569.99 409.00,568.00 409.00,568.00 411.49,568.00 413.98,565.01 415.48,560.03 416.97,568.00 419.46,568.00 422.70,568.75 424.44,565.51 425.94,563.76 427.68,567.00 430.92,566.25 432.91,558.03 434.41,568.00 436.90,568.00 440.14,568.00 442.63,568.75 445.12,568.75 447.61,567.00 450.85,562.52 452.59,567.00 455.08,568.75 457.57,568.75 460.06,569.49 462.55,567.50 465.05,567.00 467.54,562.52 469.28,563.76 471.27,567.00 473.76,568.75 476.25,568.75 478.75,568.00 480.74,567.00 482.48,565.51 484.97,562.52 486.72,559.53 488.21,567.00 490.70,568.75 493.69,568.75 496.18,568.00 498.67,567.50 500.67,567.00 502.41,565.01 504.15,561.27 505.40,557.04 506.64,565.01 508.64,567.00 511.63,568.00 514.86,568.00 516.61,566.25 518.60,566.25 521.09,564.51 522.83,561.27 524.83,565.01 527.32,567.00 529.81,567.50 532.80,567.00 532.80,589.42 529.81,589.92 527.32,589.42 524.83,587.43 522.83,583.69 521.09,586.93 518.60,588.67 516.61,588.67 514.86,590.42 511.63,590.42 508.64,589.42 506.64,587.43 505.40,579.46 504.15,583.69 502.41,587.43 500.67,589.42 498.67,589.92 496.18,590.42 493.69,591.16 490.70,591.16 488.21,589.42 486.72,581.95 484.97,584.94 482.48,587.93 480.74,589.42 478.75,590.42 476.25,591.16 473.76,591.16 471.27,589.42 469.28,586.18 467.54,584.94 465.05,589.42 462.55,589.92 460.06,591.91 457.57,591.16 455.08,591.16 452.59,589.42 450.85,584.94 447.61,589.42 445.12,591.16 442.63,591.16 440.14,590.42 436.90,590.42 434.41,590.42 432.91,580.45 430.92,588.67 427.68,589.42 425.94,586.18 424.44,587.93 422.70,591.16 419.46,590.42 416.97,590.42 415.48,582.45 413.98,587.43 411.49,590.42 409.00,590.42 409.00,590.42 407.75,592.41 405.26,591.16 402.77,591.16 399.53,591.16 397.29,589.92 396.05,584.44 394.55,587.43 392.81,588.67 391.07,586.18 389.57,592.41 387.83,594.40 385.34,593.65 382.85,591.16 380.85,589.92 379.11,587.43 377.86,587.93 376.12,591.91 374.13,592.41 372.13,594.90 370.39,591.16 368.65,593.65 366.65,593.65 364.16,593.65 361.67,593.65 360.43,581.20" fill="#ffc0cb" fill-opacity="0.32"/><polyline points="298.90,589.17 358.68,589.17 359.68,548.82 360.43,505.73 361.17,548.82 362.17,587.43 363.67,586.68 365.41,585.68 367.15,584.94 368.40,584.94 369.64,578.21 370.64,586.18 372.13,587.43 374.13,583.69 376.12,581.20 377.86,576.22 379.61,572.48 381.60,574.97 383.59,577.46 385.34,578.71 387.08,579.95 388.57,581.20 389.57,589.17 390.57,573.73 391.56,573.23 392.81,576.22 394.05,574.97 395.30,573.73 396.55,573.23 397.79,577.46 399.53,578.21 401.53,579.21 404.02,579.95 406.51,581.20 407.75,586.18 409.00,584.94 409.00,584.94 410.99,587.43 412.74,586.18 415.23,584.94 417.72,584.94 420.21,583.69 422.70,582.45 424.44,578.71 425.44,571.24 426.93,578.71 428.43,573.73 430.17,577.46 431.92,579.95 433.91,578.71 436.40,578.21 438.89,579.21 440.88,579.95 442.63,581.20 445.12,582.45 447.61,583.69 450.10,584.19 452.59,584.94 455.08,584.94 457.57,584.94 460.06,584.94 461.81,587.43 463.80,588.67 465.05,581.20 466.79,572.48 468.28,571.73 470.03,574.97 472.52,577.46 475.01,579.21 477.50,579.95 479.24,581.20 480.49,587.43 482.48,587.43 484.97,586.18 487.46,586.68 489.95,586.18 492.45,586.18 494.94,584.94 496.18,581.20 497.68,553.80 499.17,540.10 500.42,548.82 501.66,556.29 503.16,562.52 504.90,567.50 506.64,569.99 508.64,571.24 511.13,572.48 513.62,573.23 514.86,573.73" fill="none" stroke="#1f77b4" stroke-width="1.15" stroke-linejoin="round"/><polyline points="360.43,569.99 361.67,582.45 364.16,582.45 366.65,582.45 368.65,582.45 370.39,579.95 372.13,583.69 374.13,581.20 376.12,580.70 377.86,576.72 379.11,576.22 380.85,578.71 382.85,579.95 385.34,582.45 387.83,583.19 389.57,581.20 391.07,574.97 392.81,577.46 394.55,576.22 396.05,573.23 397.29,578.71 399.53,579.95 402.77,579.95 405.26,579.95 407.75,581.20 409.00,579.21 409.00,579.21 411.49,579.21 413.98,576.22 415.48,571.24 416.97,579.21 419.46,579.21 422.70,579.95 424.44,576.72 425.94,574.97 427.68,578.21 430.92,577.46 432.91,569.24 434.41,579.21 436.90,579.21 440.14,579.21 442.63,579.95 445.12,579.95 447.61,578.21 450.85,573.73 452.59,578.21 455.08,579.95 457.57,579.95 460.06,580.70 462.55,578.71 465.05,578.21 467.54,573.73 469.28,574.97 471.27,578.21 473.76,579.95 476.25,579.95 478.75,579.21 480.74,578.21 482.48,576.72 484.97,573.73 486.72,570.74 488.21,578.21 490.70,579.95 493.69,579.95 496.18,579.21 498.67,578.71 500.67,578.21 502.41,576.22 504.15,572.48 505.40,568.25 506.64,576.22 508.64,578.21 511.63,579.21 514.86,579.21 516.61,577.46 518.60,577.46 521.09,575.72 522.83,572.48 524.83,576.22 527.32,578.21 529.81,578.71 532.80,578.21" fill="none" stroke="#ff1a1a" stroke-width="1.2" stroke-linejoin="round"/><line x1="285.90" y1="502.74" x2="287.50" y2="502.74" stroke="#777777" stroke-width="0.6"/><text x="284.10" y="504.34" font-size="4.7" text-anchor="end" class="t">30</text><line x1="285.90" y1="517.18" x2="287.50" y2="517.18" stroke="#777777" stroke-width="0.6"/><text x="284.10" y="518.78" font-size="4.7" text-anchor="end" class="t">25</text><line x1="285.90" y1="531.63" x2="287.50" y2="531.63" stroke="#777777" stroke-width="0.6"/><text x="284.10" y="533.23" font-size="4.7" text-anchor="end" class="t">20</text><line x1="285.90" y1="546.08" x2="287.50" y2="546.08" stroke="#777777" stroke-width="0.6"/><text x="284.10" y="547.68" font-size="4.7" text-anchor="end" class="t">15</text><line x1="285.90" y1="560.53" x2="287.50" y2="560.53" stroke="#777777" stroke-width="0.6"/><text x="284.10" y="562.13" font-size="4.7" text-anchor="end" class="t">10</text><line x1="285.90" y1="574.97" x2="287.50" y2="574.97" stroke="#777777" stroke-width="0.6"/><text x="284.10" y="576.57" font-size="4.7" text-anchor="end" class="t">5</text><line x1="285.90" y1="589.42" x2="287.50" y2="589.42" stroke="#777777" stroke-width="0.6"/><text x="284.10" y="591.02" font-size="4.7" text-anchor="end" class="t">0</text><text x="416.00" y="498.90" font-size="6.15" text-anchor="middle" class="t">Sejong Prophet Forecast</text><rect x="287.50" y="501.70" width="257.00" height="100.50" fill="none" stroke="#777777" stroke-width="1.0"/><line x1="297.80" y1="602.20" x2="297.80" y2="603.80" stroke="#777777" stroke-width="0.6"/><text x="297.80" y="609.50" font-size="4.7" text-anchor="middle" class="t">2012</text><line x1="333.90" y1="602.20" x2="333.90" y2="603.80" stroke="#777777" stroke-width="0.6"/><text x="333.90" y="609.50" font-size="4.7" text-anchor="middle" class="t">2014</text><line x1="370.00" y1="602.20" x2="370.00" y2="603.80" stroke="#777777" stroke-width="0.6"/><text x="370.00" y="609.50" font-size="4.7" text-anchor="middle" class="t">2016</text><line x1="406.10" y1="602.20" x2="406.10" y2="603.80" stroke="#777777" stroke-width="0.6"/><text x="406.10" y="609.50" font-size="4.7" text-anchor="middle" class="t">2018</text><line x1="442.20" y1="602.20" x2="442.20" y2="603.80" stroke="#777777" stroke-width="0.6"/><text x="442.20" y="609.50" font-size="4.7" text-anchor="middle" class="t">2020</text><line x1="478.30" y1="602.20" x2="478.30" y2="603.80" stroke="#777777" stroke-width="0.6"/><text x="478.30" y="609.50" font-size="4.7" text-anchor="middle" class="t">2022</text><line x1="514.40" y1="602.20" x2="514.40" y2="603.80" stroke="#777777" stroke-width="0.6"/><text x="514.40" y="609.50" font-size="4.7" text-anchor="middle" class="t">2024</text><rect x="501.50" y="505.20" width="41" height="15" rx="1" fill="#fff" fill-opacity="0.8" stroke="#d6d6d6" stroke-width="0.5"/><line x1="503.00" y1="508.50" x2="513.50" y2="508.50" stroke="#1f77b4" stroke-width="1.15"/><line x1="503.00" y1="515.50" x2="513.50" y2="515.50" stroke="#ff1a1a" stroke-width="1.2"/><text x="517.80" y="510.10" font-size="4.8" class="t">Observed</text><text x="517.80" y="517.10" font-size="4.8" class="t">Forecast</text></g>
<g><polygon points="26.90,672.06 28.65,670.07 30.39,669.57 31.88,669.07 33.13,668.33 34.37,670.82 37.36,670.82 39.85,670.07 42.35,670.82 44.34,670.07 45.58,670.82 47.33,670.82 49.32,670.07 51.06,668.83 52.31,670.82 54.80,670.82 58.54,670.82 61.03,670.82 62.27,670.07 63.52,669.07 64.76,670.82 68.50,670.82 72.24,670.82 75.97,670.82 79.71,670.82 82.20,670.07 84.69,669.57 87.18,670.07 89.67,670.82 93.41,670.82 97.15,670.82 99.64,671.57 102.13,671.57 104.62,670.07 105.86,669.07 107.11,670.82 110.85,670.82 114.58,670.82 117.07,670.82 118.32,671.57 120.81,671.57 123.30,670.07 124.55,670.82 128.28,670.82 132.02,670.82 135.75,670.82 137.00,670.82 137.00,670.82 140.74,670.82 144.47,671.57 148.21,671.57 151.95,671.57 155.68,670.82 158.92,670.07 161.91,671.57 165.65,672.06 169.38,672.56 171.87,673.31 174.36,672.56 177.35,671.57 179.35,672.56 183.08,673.31 186.82,673.31 189.81,672.56 193.79,671.57 196.78,673.31 200.52,674.06 204.25,674.06 207.99,674.06 211.73,674.06 214.72,673.31 216.71,674.06 220.45,674.55 224.18,675.05 227.17,674.06 230.41,674.55 232.90,674.06 236.64,675.05 240.37,675.80 244.11,677.05 247.10,675.80 250.34,673.31 252.08,675.80 255.32,676.55 259.05,676.55 260.80,677.05 260.80,709.43 259.05,708.93 255.32,708.93 252.08,708.18 250.34,705.69 247.10,708.18 244.11,709.43 240.37,708.18 236.64,707.43 232.90,706.44 230.41,706.94 227.17,706.44 224.18,707.43 220.45,706.94 216.71,706.44 214.72,705.69 211.73,706.44 207.99,706.44 204.25,706.44 200.52,706.44 196.78,705.69 193.79,703.95 189.81,704.94 186.82,705.69 183.08,705.69 179.35,704.94 177.35,703.95 174.36,704.94 171.87,705.69 169.38,704.94 165.65,704.45 161.91,703.95 158.92,702.45 155.68,703.20 151.95,703.95 148.21,703.95 144.47,703.95 140.74,703.20 137.00,703.20 137.00,703.20 135.75,703.20 132.02,703.20 128.28,703.20 124.55,703.20 123.30,702.45 120.81,703.95 118.32,703.95 117.07,703.20 114.58,703.20 110.85,703.20 107.11,703.20 105.86,701.46 104.62,702.45 102.13,703.95 99.64,703.95 97.15,703.20 93.41,703.20 89.67,703.20 87.18,702.45 84.69,701.95 82.20,702.45 79.71,703.20 75.97,703.20 72.24,703.20 68.50,703.20 64.76,703.20 63.52,701.46 62.27,702.45 61.03,703.20 58.54,703.20 54.80,703.20 52.31,703.20 51.06,701.21 49.32,702.45 47.33,703.20 45.58,703.20 44.34,702.45 42.35,703.20 39.85,702.45 37.36,703.20 34.37,703.20 33.13,700.71 31.88,701.46 30.39,701.95 28.65,702.45 26.90,704.45" fill="#ffc0cb" fill-opacity="0.14"/><polygon points="26.90,675.80 28.65,673.81 30.39,673.31 31.88,672.81 33.13,672.06 34.37,674.55 37.36,674.55 39.85,673.81 42.35,674.55 44.34,673.81 45.58,674.55 47.33,674.55 49.32,673.81 51.06,672.56 52.31,674.55 54.80,674.55 58.54,674.55 61.03,674.55 62.27,673.81 63.52,672.81 64.76,674.55 68.50,674.55 72.24,674.55 75.97,674.55 79.71,674.55 82.20,673.81 84.69,673.31 87.18,673.81 89.67,674.55 93.41,674.55 97.15,674.55 99.64,675.30 102.13,675.30 104.62,673.81 105.86,672.81 107.11,674.55 110.85,674.55 114.58,674.55 117.07,674.55 118.32,675.30 120.81,675.30 123.30,673.81 124.55,674.55 128.28,674.55 132.02,674.55 135.75,674.55 137.00,674.55 137.00,674.55 140.74,674.55 144.47,675.30 148.21,675.30 151.95,675.30 155.68,674.55 158.92,673.81 161.91,675.30 165.65,675.80 169.38,676.30 171.87,677.05 174.36,676.30 177.35,675.30 179.35,676.30 183.08,677.05 186.82,677.05 189.81,676.30 193.79,675.30 196.78,677.05 200.52,677.79 204.25,677.79 207.99,677.79 211.73,677.79 214.72,677.05 216.71,677.79 220.45,678.29 224.18,678.79 227.17,677.79 230.41,678.29 232.90,677.79 236.64,678.79 240.37,679.54 244.11,680.78 247.10,679.54 250.34,677.05 252.08,679.54 255.32,680.28 259.05,680.28 260.80,680.78 260.80,705.69 259.05,705.19 255.32,705.19 252.08,704.45 250.34,701.95 247.10,704.45 244.11,705.69 240.37,704.45 236.64,703.70 232.90,702.70 230.41,703.20 227.17,702.70 224.18,703.70 220.45,703.20 216.71,702.70 214.72,701.95 211.73,702.70 207.99,702.70 204.25,702.70 200.52,702.70 196.78,701.95 193.79,700.21 189.81,701.21 186.82,701.95 183.08,701.95 179.35,701.21 177.35,700.21 174.36,701.21 171.87,701.95 169.38,701.21 165.65,700.71 161.91,700.21 158.92,698.72 155.68,699.46 151.95,700.21 148.21,700.21 144.47,700.21 140.74,699.46 137.00,699.46 137.00,699.46 135.75,699.46 132.02,699.46 128.28,699.46 124.55,699.46 123.30,698.72 120.81,700.21 118.32,700.21 117.07,699.46 114.58,699.46 110.85,699.46 107.11,699.46 105.86,697.72 104.62,698.72 102.13,700.21 99.64,700.21 97.15,699.46 93.41,699.46 89.67,699.46 87.18,698.72 84.69,698.22 82.20,698.72 79.71,699.46 75.97,699.46 72.24,699.46 68.50,699.46 64.76,699.46 63.52,697.72 62.27,698.72 61.03,699.46 58.54,699.46 54.80,699.46 52.31,699.46 51.06,697.47 49.32,698.72 47.33,699.46 45.58,699.46 44.34,698.72 42.35,699.46 39.85,698.72 37.36,699.46 34.37,699.46 33.13,696.97 31.88,697.72 30.39,698.22 28.65,698.72 26.90,700.71" fill="#ffc0cb" fill-opacity="0.32"/><polyline points="26.90,695.73 27.90,684.52 28.89,683.27 29.89,686.26 31.14,684.52 31.88,675.80 32.88,668.83 33.88,684.52 34.87,688.25 36.87,688.75 39.36,688.75 41.85,689.50 43.59,690.75 44.84,695.73 46.08,700.71 47.33,701.21 48.57,700.71 49.82,696.97 51.06,693.24 52.81,691.99 55.30,691.49 57.79,691.99 59.78,691.99 61.53,691.24 62.27,680.78 63.02,670.32 64.27,677.05 66.01,680.78 67.25,680.78 68.50,684.52 70.24,688.25 72.73,689.50 75.23,689.50 77.72,690.25 79.21,691.24 80.21,665.84 81.20,627.97 82.20,645.91 83.45,663.35 84.69,673.31 85.94,679.54 87.68,680.78 89.67,681.28 91.67,683.27 93.41,684.52 95.90,686.26 97.64,688.25 98.89,703.20 99.89,719.39 101.13,705.69 102.63,695.73 104.12,693.24 105.86,692.74 108.35,691.99 110.85,691.24 113.34,690.75 115.83,691.24 117.57,691.99 118.82,695.73 120.06,688.25 121.56,687.01 123.30,687.01 125.79,685.76 128.28,684.52 130.77,683.27 133.26,682.77 135.01,684.52 136.00,694.48 137.00,687.01 137.00,684.52 138.25,678.29 139.49,677.05 140.74,673.31 141.98,672.81 143.97,675.80 145.72,678.79 147.46,680.78 149.45,680.78 151.45,681.28 153.19,680.78 154.93,677.05 156.43,673.81 158.17,676.30 159.92,677.05 161.91,677.05 164.40,677.79 166.89,676.30 168.88,677.79 170.13,680.78 171.37,693.24 172.62,695.73 174.36,695.23 176.85,694.48 179.35,695.73 181.34,696.97 183.08,695.73 185.57,695.23 188.06,694.48 189.31,691.99 190.55,688.25 191.80,689.50 193.79,687.01 195.54,688.25 197.28,690.75 199.27,691.99 201.76,693.24 204.25,693.73 206.25,691.99 207.24,696.97 208.74,700.21 210.48,699.46 212.97,698.72 215.46,698.22 217.95,698.72 220.45,698.22 222.94,697.72 224.18,694.48 225.43,690.75 227.17,690.75 229.16,689.50 231.16,690.75 232.90,687.76 234.64,688.25 236.64,685.76 239.13,684.52 241.62,685.27 242.86,685.76" fill="none" stroke="#1f77b4" stroke-width="1.15" stroke-linejoin="round"/><polyline points="26.90,688.25 28.65,686.26 30.39,685.76 31.88,685.27 33.13,684.52 34.37,687.01 37.36,687.01 39.85,686.26 42.35,687.01 44.34,686.26 45.58,687.01 47.33,687.01 49.32,686.26 51.06,685.02 52.31,687.01 54.80,687.01 58.54,687.01 61.03,687.01 62.27,686.26 63.52,685.27 64.76,687.01 68.50,687.01 72.24,687.01 75.97,687.01 79.71,687.01 82.20,686.26 84.69,685.76 87.18,686.26 89.67,687.01 93.41,687.01 97.15,687.01 99.64,687.76 102.13,687.76 104.62,686.26 105.86,685.27 107.11,687.01 110.85,687.01 114.58,687.01 117.07,687.01 118.32,687.76 120.81,687.76 123.30,686.26 124.55,687.01 128.28,687.01 132.02,687.01 135.75,687.01 137.00,687.01 137.00,687.01 140.74,687.01 144.47,687.76 148.21,687.76 151.95,687.76 155.68,687.01 158.92,686.26 161.91,687.76 165.65,688.25 169.38,688.75 171.87,689.50 174.36,688.75 177.35,687.76 179.35,688.75 183.08,689.50 186.82,689.50 189.81,688.75 193.79,687.76 196.78,689.50 200.52,690.25 204.25,690.25 207.99,690.25 211.73,690.25 214.72,689.50 216.71,690.25 220.45,690.75 224.18,691.24 227.17,690.25 230.41,690.75 232.90,690.25 236.64,691.24 240.37,691.99 244.11,693.24 247.10,691.99 250.34,689.50 252.08,691.99 255.32,692.74 259.05,692.74 260.80,693.24" fill="none" stroke="#ff1a1a" stroke-width="1.2" stroke-linejoin="round"/><line x1="13.90" y1="624.49" x2="15.50" y2="624.49" stroke="#777777" stroke-width="0.6"/><text x="12.10" y="626.09" font-size="4.7" text-anchor="end" class="t">14</text><line x1="13.90" y1="636.44" x2="15.50" y2="636.44" stroke="#777777" stroke-width="0.6"/><text x="12.10" y="638.04" font-size="4.7" text-anchor="end" class="t">12</text><line x1="13.90" y1="647.90" x2="15.50" y2="647.90" stroke="#777777" stroke-width="0.6"/><text x="12.10" y="649.50" font-size="4.7" text-anchor="end" class="t">10</text><line x1="13.90" y1="659.86" x2="15.50" y2="659.86" stroke="#777777" stroke-width="0.6"/><text x="12.10" y="661.46" font-size="4.7" text-anchor="end" class="t">8</text><line x1="13.90" y1="671.57" x2="15.50" y2="671.57" stroke="#777777" stroke-width="0.6"/><text x="12.10" y="673.17" font-size="4.7" text-anchor="end" class="t">6</text><line x1="13.90" y1="683.52" x2="15.50" y2="683.52" stroke="#777777" stroke-width="0.6"/><text x="12.10" y="685.12" font-size="4.7" text-anchor="end" class="t">4</text><line x1="13.90" y1="695.23" x2="15.50" y2="695.23" stroke="#777777" stroke-width="0.6"/><text x="12.10" y="696.83" font-size="4.7" text-anchor="end" class="t">2</text><line x1="13.90" y1="707.19" x2="15.50" y2="707.19" stroke="#777777" stroke-width="0.6"/><text x="12.10" y="708.79" font-size="4.7" text-anchor="end" class="t">0</text><line x1="13.90" y1="719.14" x2="15.50" y2="719.14" stroke="#777777" stroke-width="0.6"/><text x="12.10" y="720.74" font-size="4.7" text-anchor="end" class="t">-2</text><text x="144.00" y="621.20" font-size="6.15" text-anchor="middle" class="t">Ulsan Prophet Forecast</text><rect x="15.50" y="624.00" width="257.00" height="100.50" fill="none" stroke="#777777" stroke-width="1.0"/><line x1="25.80" y1="724.50" x2="25.80" y2="726.10" stroke="#777777" stroke-width="0.6"/><text x="25.80" y="731.80" font-size="4.7" text-anchor="middle" class="t">2012</text><line x1="61.90" y1="724.50" x2="61.90" y2="726.10" stroke="#777777" stroke-width="0.6"/><text x="61.90" y="731.80" font-size="4.7" text-anchor="middle" class="t">2014</text><line x1="98.00" y1="724.50" x2="98.00" y2="726.10" stroke="#777777" stroke-width="0.6"/><text x="98.00" y="731.80" font-size="4.7" text-anchor="middle" class="t">2016</text><line x1="134.10" y1="724.50" x2="134.10" y2="726.10" stroke="#777777" stroke-width="0.6"/><text x="134.10" y="731.80" font-size="4.7" text-anchor="middle" class="t">2018</text><line x1="170.20" y1="724.50" x2="170.20" y2="726.10" stroke="#777777" stroke-width="0.6"/><text x="170.20" y="731.80" font-size="4.7" text-anchor="middle" class="t">2020</text><line x1="206.30" y1="724.50" x2="206.30" y2="726.10" stroke="#777777" stroke-width="0.6"/><text x="206.30" y="731.80" font-size="4.7" text-anchor="middle" class="t">2022</text><line x1="242.40" y1="724.50" x2="242.40" y2="726.10" stroke="#777777" stroke-width="0.6"/><text x="242.40" y="731.80" font-size="4.7" text-anchor="middle" class="t">2024</text><rect x="229.50" y="627.50" width="41" height="15" rx="1" fill="#fff" fill-opacity="0.8" stroke="#d6d6d6" stroke-width="0.5"/><line x1="231.00" y1="630.80" x2="241.50" y2="630.80" stroke="#1f77b4" stroke-width="1.15"/><line x1="231.00" y1="637.80" x2="241.50" y2="637.80" stroke="#ff1a1a" stroke-width="1.2"/><text x="245.80" y="632.40" font-size="4.8" class="t">Observed</text><text x="245.80" y="639.40" font-size="4.8" class="t">Forecast</text></g>
<g><polygon points="298.90,651.76 300.65,651.76 302.39,652.51 303.88,650.52 305.13,648.52 306.37,654.25 308.87,655.00 311.36,655.50 313.85,655.00 315.59,654.25 317.09,650.02 318.33,654.25 320.07,654.25 321.82,653.01 323.06,651.26 324.31,656.00 326.80,656.00 329.79,656.74 332.28,656.74 333.77,656.00 335.02,653.01 336.27,655.50 338.76,655.00 341.25,656.00 343.74,657.99 346.73,659.24 349.72,659.98 352.21,658.49 353.70,655.50 354.95,659.24 357.44,659.98 360.43,660.98 363.42,661.73 366.65,662.47 369.15,662.47 371.14,660.98 372.88,660.48 374.63,660.98 376.62,658.49 378.61,662.47 381.10,664.22 384.09,664.96 387.08,665.46 389.07,660.98 390.32,665.46 392.81,664.96 394.80,662.47 396.05,666.71 399.04,667.95 401.53,668.45 404.02,668.45 406.51,667.46 407.75,664.22 409.00,665.46 409.00,666.71 411.49,667.46 413.98,669.20 416.47,669.95 420.21,670.94 423.45,670.94 425.19,666.71 426.93,669.95 430.17,670.94 432.66,671.69 435.15,672.94 438.39,674.18 441.38,674.18 442.88,672.94 443.87,670.94 445.12,674.18 447.61,673.43 449.35,669.95 450.60,674.93 453.84,675.92 457.57,676.67 460.06,675.92 461.81,672.44 463.05,675.92 465.54,676.67 467.54,673.43 468.78,677.42 472.52,679.16 476.25,679.16 478.75,678.42 479.99,676.67 481.24,677.92 483.73,679.16 486.22,676.67 488.21,680.41 491.20,681.65 494.94,682.40 496.68,682.40 498.17,677.92 499.17,679.91 501.66,680.91 503.65,680.91 504.90,682.90 507.39,684.14 511.13,684.89 514.12,685.39 516.11,684.89 518.60,684.89 520.59,684.14 522.34,680.91 524.08,686.64 526.57,688.38 529.81,688.38 532.80,688.38 532.80,724.00 529.81,724.00 526.57,724.00 524.08,722.26 522.34,716.53 520.59,719.76 518.60,720.51 516.11,720.51 514.12,721.01 511.13,720.51 507.39,719.76 504.90,718.52 503.65,716.53 501.66,716.53 499.17,715.53 498.17,713.54 496.68,718.02 494.94,718.02 491.20,717.27 488.21,716.03 486.22,712.29 483.73,714.78 481.24,713.54 479.99,712.29 478.75,714.04 476.25,714.78 472.52,714.78 468.78,713.04 467.54,709.05 465.54,712.29 463.05,711.54 461.81,708.06 460.06,711.54 457.57,712.29 453.84,711.54 450.60,710.55 449.35,705.57 447.61,709.05 445.12,709.80 443.87,706.56 442.88,708.56 441.38,709.80 438.39,709.80 435.15,708.56 432.66,707.31 430.17,706.56 426.93,705.57 425.19,702.33 423.45,706.56 420.21,706.56 416.47,705.57 413.98,704.82 411.49,703.08 409.00,702.33 409.00,701.08 407.75,699.84 406.51,703.08 404.02,704.07 401.53,704.07 399.04,703.57 396.05,702.33 394.80,698.09 392.81,700.58 390.32,701.08 389.07,696.60 387.08,701.08 384.09,700.58 381.10,699.84 378.61,698.09 376.62,694.11 374.63,696.60 372.88,696.10 371.14,696.60 369.15,698.09 366.65,698.09 363.42,697.35 360.43,696.60 357.44,695.60 354.95,694.86 353.70,691.12 352.21,694.11 349.72,695.60 346.73,694.86 343.74,693.61 341.25,691.62 338.76,690.62 336.27,691.12 335.02,688.63 333.77,691.62 332.28,692.36 329.79,692.36 326.80,691.62 324.31,691.62 323.06,686.88 321.82,688.63 320.07,689.87 318.33,689.87 317.09,685.64 315.59,689.87 313.85,690.62 311.36,691.12 308.87,690.62 306.37,689.87 305.13,684.14 303.88,686.14 302.39,688.13 300.65,687.38 298.90,687.38" fill="#ffc0cb" fill-opacity="0.14"/><polygon points="298.90,655.87 300.65,655.87 302.39,656.62 303.88,654.63 305.13,652.63 306.37,658.36 308.87,659.11 311.36,659.61 313.85,659.11 315.59,658.36 317.09,654.13 318.33,658.36 320.07,658.36 321.82,657.12 323.06,655.37 324.31,660.11 326.80,660.11 329.79,660.85 332.28,660.85 333.77,660.11 335.02,657.12 336.27,659.61 338.76,659.11 341.25,660.11 343.74,662.10 346.73,663.35 349.72,664.09 352.21,662.60 353.70,659.61 354.95,663.35 357.44,664.09 360.43,665.09 363.42,665.84 366.65,666.58 369.15,666.58 371.14,665.09 372.88,664.59 374.63,665.09 376.62,662.60 378.61,666.58 381.10,668.33 384.09,669.07 387.08,669.57 389.07,665.09 390.32,669.57 392.81,669.07 394.80,666.58 396.05,670.82 399.04,672.06 401.53,672.56 404.02,672.56 406.51,671.57 407.75,668.33 409.00,669.57 409.00,670.82 411.49,671.57 413.98,673.31 416.47,674.06 420.21,675.05 423.45,675.05 425.19,670.82 426.93,674.06 430.17,675.05 432.66,675.80 435.15,677.05 438.39,678.29 441.38,678.29 442.88,677.05 443.87,675.05 445.12,678.29 447.61,677.54 449.35,674.06 450.60,679.04 453.84,680.03 457.57,680.78 460.06,680.03 461.81,676.55 463.05,680.03 465.54,680.78 467.54,677.54 468.78,681.53 472.52,683.27 476.25,683.27 478.75,682.53 479.99,680.78 481.24,682.03 483.73,683.27 486.22,680.78 488.21,684.52 491.20,685.76 494.94,686.51 496.68,686.51 498.17,682.03 499.17,684.02 501.66,685.02 503.65,685.02 504.90,687.01 507.39,688.25 511.13,689.00 514.12,689.50 516.11,689.00 518.60,689.00 520.59,688.25 522.34,685.02 524.08,690.75 526.57,692.49 529.81,692.49 532.80,692.49 532.80,719.89 529.81,719.89 526.57,719.89 524.08,718.15 522.34,712.42 520.59,715.65 518.60,716.40 516.11,716.40 514.12,716.90 511.13,716.40 507.39,715.65 504.90,714.41 503.65,712.42 501.66,712.42 499.17,711.42 498.17,709.43 496.68,713.91 494.94,713.91 491.20,713.16 488.21,711.92 486.22,708.18 483.73,710.67 481.24,709.43 479.99,708.18 478.75,709.93 476.25,710.67 472.52,710.67 468.78,708.93 467.54,704.94 465.54,708.18 463.05,707.43 461.81,703.95 460.06,707.43 457.57,708.18 453.84,707.43 450.60,706.44 449.35,701.46 447.61,704.94 445.12,705.69 443.87,702.45 442.88,704.45 441.38,705.69 438.39,705.69 435.15,704.45 432.66,703.20 430.17,702.45 426.93,701.46 425.19,698.22 423.45,702.45 420.21,702.45 416.47,701.46 413.98,700.71 411.49,698.97 409.00,698.22 409.00,696.97 407.75,695.73 406.51,698.97 404.02,699.96 401.53,699.96 399.04,699.46 396.05,698.22 394.80,693.98 392.81,696.47 390.32,696.97 389.07,692.49 387.08,696.97 384.09,696.47 381.10,695.73 378.61,693.98 376.62,690.00 374.63,692.49 372.88,691.99 371.14,692.49 369.15,693.98 366.65,693.98 363.42,693.24 360.43,692.49 357.44,691.49 354.95,690.75 353.70,687.01 352.21,690.00 349.72,691.49 346.73,690.75 343.74,689.50 341.25,687.51 338.76,686.51 336.27,687.01 335.02,684.52 333.77,687.51 332.28,688.25 329.79,688.25 326.80,687.51 324.31,687.51 323.06,682.77 321.82,684.52 320.07,685.76 318.33,685.76 317.09,681.53 315.59,685.76 313.85,686.51 311.36,687.01 308.87,686.51 306.37,685.76 305.13,680.03 303.88,682.03 302.39,684.02 300.65,683.27 298.90,683.27" fill="#ffc0cb" fill-opacity="0.32"/><polyline points="298.90,708.68 299.90,695.73 300.89,684.52 301.89,679.54 302.89,674.55 303.88,658.36 304.88,641.43 305.88,665.84 306.87,677.05 308.87,677.79 311.36,677.79 313.85,677.05 316.34,678.29 317.58,677.05 318.83,667.08 320.57,660.85 321.82,665.34 323.06,670.82 324.31,667.08 325.55,665.84 326.80,669.57 328.79,670.82 330.54,670.32 332.53,668.83 333.77,658.36 335.02,628.47 336.27,637.19 337.51,650.89 338.76,658.36 340.50,664.59 342.24,670.82 344.24,673.31 346.23,674.55 348.22,675.80 349.97,677.05 351.21,673.31 352.21,658.36 353.20,645.16 354.20,663.35 355.69,675.80 357.19,680.78 359.18,684.52 361.67,685.27 364.16,685.27 366.65,685.27 369.15,684.52 370.39,670.82 371.64,662.85 372.88,663.35 374.63,667.08 376.62,670.82 378.61,673.31 380.35,675.30 382.10,677.79 384.09,678.79 386.08,678.29 387.83,682.03 389.07,704.45 390.32,689.50 391.56,688.25 393.31,693.24 395.30,694.48 397.79,695.23 400.28,695.73 402.77,695.23 405.26,695.73 406.51,689.50 407.75,670.82 409.00,680.78 409.00,679.54 410.25,683.27 411.99,684.52 413.98,683.27 415.97,680.78 417.72,682.77 419.46,680.78 421.45,682.03 423.45,680.28 425.19,677.05 426.44,685.76 428.43,686.26 430.17,687.01 431.92,688.25 433.91,690.25 436.40,691.24 438.89,691.99 441.38,691.99 442.88,695.73 443.87,694.48 445.12,695.73 446.36,694.48 448.36,693.24 450.10,695.23 452.59,696.97 455.08,698.72 457.57,700.21 460.06,701.95 462.55,701.95 465.05,701.21 466.79,700.21 468.78,700.71 471.27,701.95 473.27,702.70 475.01,703.20 476.75,702.70 478.75,701.95 480.49,700.71 481.98,703.20 483.73,699.46 485.72,700.71 487.46,703.20 489.95,704.45 492.45,705.19 494.94,705.69 496.68,705.69 497.93,711.92 498.67,695.73 499.92,688.25 501.66,687.01 503.65,687.01 506.15,688.25 508.64,689.50 511.13,690.25 513.62,690.75 514.86,691.24" fill="none" stroke="#1f77b4" stroke-width="1.15" stroke-linejoin="round"/><polyline points="298.90,669.57 300.65,669.57 302.39,670.32 303.88,668.33 305.13,666.33 306.37,672.06 308.87,672.81 311.36,673.31 313.85,672.81 315.59,672.06 317.09,667.83 318.33,672.06 320.07,672.06 321.82,670.82 323.06,669.07 324.31,673.81 326.80,673.81 329.79,674.55 332.28,674.55 333.77,673.81 335.02,670.82 336.27,673.31 338.76,672.81 341.25,673.81 343.74,675.80 346.73,677.05 349.72,677.79 352.21,676.30 353.70,673.31 354.95,677.05 357.44,677.79 360.43,678.79 363.42,679.54 366.65,680.28 369.15,680.28 371.14,678.79 372.88,678.29 374.63,678.79 376.62,676.30 378.61,680.28 381.10,682.03 384.09,682.77 387.08,683.27 389.07,678.79 390.32,683.27 392.81,682.77 394.80,680.28 396.05,684.52 399.04,685.76 401.53,686.26 404.02,686.26 406.51,685.27 407.75,682.03 409.00,683.27 409.00,684.52 411.49,685.27 413.98,687.01 416.47,687.76 420.21,688.75 423.45,688.75 425.19,684.52 426.93,687.76 430.17,688.75 432.66,689.50 435.15,690.75 438.39,691.99 441.38,691.99 442.88,690.75 443.87,688.75 445.12,691.99 447.61,691.24 449.35,687.76 450.60,692.74 453.84,693.73 457.57,694.48 460.06,693.73 461.81,690.25 463.05,693.73 465.54,694.48 467.54,691.24 468.78,695.23 472.52,696.97 476.25,696.97 478.75,696.23 479.99,694.48 481.24,695.73 483.73,696.97 486.22,694.48 488.21,698.22 491.20,699.46 494.94,700.21 496.68,700.21 498.17,695.73 499.17,697.72 501.66,698.72 503.65,698.72 504.90,700.71 507.39,701.95 511.13,702.70 514.12,703.20 516.11,702.70 518.60,702.70 520.59,701.95 522.34,698.72 524.08,704.45 526.57,706.19 529.81,706.19 532.80,706.19" fill="none" stroke="#ff1a1a" stroke-width="1.2" stroke-linejoin="round"/><line x1="285.90" y1="637.44" x2="287.50" y2="637.44" stroke="#777777" stroke-width="0.6"/><text x="284.10" y="639.04" font-size="4.7" text-anchor="end" class="t">10</text><line x1="285.90" y1="654.63" x2="287.50" y2="654.63" stroke="#777777" stroke-width="0.6"/><text x="284.10" y="656.23" font-size="4.7" text-anchor="end" class="t">8</text><line x1="285.90" y1="671.81" x2="287.50" y2="671.81" stroke="#777777" stroke-width="0.6"/><text x="284.10" y="673.41" font-size="4.7" text-anchor="end" class="t">6</text><line x1="285.90" y1="689.25" x2="287.50" y2="689.25" stroke="#777777" stroke-width="0.6"/><text x="284.10" y="690.85" font-size="4.7" text-anchor="end" class="t">4</text><line x1="285.90" y1="706.44" x2="287.50" y2="706.44" stroke="#777777" stroke-width="0.6"/><text x="284.10" y="708.04" font-size="4.7" text-anchor="end" class="t">2</text><line x1="285.90" y1="723.63" x2="287.50" y2="723.63" stroke="#777777" stroke-width="0.6"/><text x="284.10" y="725.23" font-size="4.7" text-anchor="end" class="t">0</text><text x="416.00" y="621.20" font-size="6.15" text-anchor="middle" class="t">Incheon Prophet Forecast</text><rect x="287.50" y="624.00" width="257.00" height="100.50" fill="none" stroke="#777777" stroke-width="1.0"/><line x1="297.80" y1="724.50" x2="297.80" y2="726.10" stroke="#777777" stroke-width="0.6"/><text x="297.80" y="731.80" font-size="4.7" text-anchor="middle" class="t">2012</text><line x1="333.90" y1="724.50" x2="333.90" y2="726.10" stroke="#777777" stroke-width="0.6"/><text x="333.90" y="731.80" font-size="4.7" text-anchor="middle" class="t">2014</text><line x1="370.00" y1="724.50" x2="370.00" y2="726.10" stroke="#777777" stroke-width="0.6"/><text x="370.00" y="731.80" font-size="4.7" text-anchor="middle" class="t">2016</text><line x1="406.10" y1="724.50" x2="406.10" y2="726.10" stroke="#777777" stroke-width="0.6"/><text x="406.10" y="731.80" font-size="4.7" text-anchor="middle" class="t">2018</text><line x1="442.20" y1="724.50" x2="442.20" y2="726.10" stroke="#777777" stroke-width="0.6"/><text x="442.20" y="731.80" font-size="4.7" text-anchor="middle" class="t">2020</text><line x1="478.30" y1="724.50" x2="478.30" y2="726.10" stroke="#777777" stroke-width="0.6"/><text x="478.30" y="731.80" font-size="4.7" text-anchor="middle" class="t">2022</text><line x1="514.40" y1="724.50" x2="514.40" y2="726.10" stroke="#777777" stroke-width="0.6"/><text x="514.40" y="731.80" font-size="4.7" text-anchor="middle" class="t">2024</text><rect x="501.50" y="627.50" width="41" height="15" rx="1" fill="#fff" fill-opacity="0.8" stroke="#d6d6d6" stroke-width="0.5"/><line x1="503.00" y1="630.80" x2="513.50" y2="630.80" stroke="#1f77b4" stroke-width="1.15"/><line x1="503.00" y1="637.80" x2="513.50" y2="637.80" stroke="#ff1a1a" stroke-width="1.2"/><text x="517.80" y="632.40" font-size="4.8" class="t">Observed</text><text x="517.80" y="639.40" font-size="4.8" class="t">Forecast</text></g>
<g><polygon points="26.90,770.50 28.15,775.98 29.89,775.48 31.63,773.99 33.13,773.49 34.37,775.98 36.87,777.23 39.36,777.97 41.85,778.47 43.84,777.97 45.09,772.99 46.33,778.97 48.07,778.47 49.82,777.97 51.06,775.98 52.31,778.97 54.80,779.72 57.79,780.46 60.28,780.46 61.77,778.97 63.02,774.73 64.27,779.72 66.76,778.97 69.25,778.47 70.99,779.72 73.48,780.46 75.97,780.96 79.21,781.46 80.21,779.72 81.45,775.98 82.70,781.46 85.19,780.96 87.18,780.46 89.67,781.46 92.16,782.21 94.65,782.21 97.15,782.21 98.89,778.47 100.13,782.95 102.63,782.21 104.62,781.46 105.86,779.72 107.11,782.95 109.60,783.95 113.34,784.70 115.83,784.70 117.07,780.46 118.32,783.95 120.81,783.45 122.80,782.21 124.05,784.70 127.04,785.45 129.53,785.94 132.02,785.94 134.51,785.45 135.75,781.46 137.00,784.70 137.00,783.95 139.49,785.45 141.98,786.44 144.47,786.44 148.21,786.44 151.45,785.94 153.19,781.46 154.93,785.94 157.43,786.44 159.42,785.45 160.66,786.44 163.15,787.19 166.39,787.94 169.38,788.43 170.88,786.44 171.87,782.95 173.12,787.19 175.61,787.19 177.35,787.19 178.60,788.43 181.84,789.68 185.57,790.43 188.06,789.68 189.81,783.95 191.05,789.68 193.54,788.93 195.54,788.43 196.78,790.43 200.52,791.42 204.25,791.42 206.75,790.43 207.99,787.19 209.24,790.43 211.73,790.93 214.22,792.17 216.71,792.92 220.45,793.42 224.18,792.92 226.17,788.93 227.17,790.43 229.66,790.93 231.65,790.43 232.90,791.42 235.39,792.17 239.13,792.92 242.12,792.92 244.11,787.19 245.85,792.17 248.34,791.42 250.34,790.93 252.08,792.92 254.57,793.42 257.81,793.91 260.80,793.91 260.80,827.59 257.81,827.59 254.57,827.09 252.08,826.59 250.34,824.60 248.34,825.10 245.85,825.85 244.11,820.87 242.12,826.59 239.13,826.59 235.39,825.85 232.90,825.10 231.65,824.10 229.66,824.60 227.17,824.10 226.17,822.61 224.18,826.59 220.45,827.09 216.71,826.59 214.22,825.85 211.73,824.60 209.24,824.10 207.99,820.87 206.75,824.10 204.25,825.10 200.52,825.10 196.78,824.10 195.54,822.11 193.54,822.61 191.05,823.36 189.81,817.63 188.06,823.36 185.57,824.10 181.84,823.36 178.60,822.11 177.35,820.87 175.61,820.87 173.12,820.87 171.87,816.63 170.88,820.12 169.38,822.11 166.39,821.61 163.15,820.87 160.66,820.12 159.42,819.12 157.43,820.12 154.93,819.62 153.19,815.14 151.45,819.62 148.21,820.12 144.47,820.12 141.98,820.12 139.49,819.12 137.00,817.63 137.00,818.37 135.75,815.14 134.51,819.12 132.02,819.62 129.53,819.62 127.04,819.12 124.05,818.37 122.80,815.88 120.81,817.13 118.32,817.63 117.07,814.14 115.83,818.37 113.34,818.37 109.60,817.63 107.11,816.63 105.86,813.39 104.62,815.14 102.63,815.88 100.13,816.63 98.89,812.15 97.15,815.88 94.65,815.88 92.16,815.88 89.67,815.14 87.18,814.14 85.19,814.64 82.70,815.14 81.45,809.66 80.21,813.39 79.21,815.14 75.97,814.64 73.48,814.14 70.99,813.39 69.25,812.15 66.76,812.65 64.27,813.39 63.02,808.41 61.77,812.65 60.28,814.14 57.79,814.14 54.80,813.39 52.31,812.65 51.06,809.66 49.82,811.65 48.07,812.15 46.33,812.65 45.09,806.67 43.84,811.65 41.85,812.15 39.36,811.65 36.87,810.90 34.37,809.66 33.13,807.17 31.63,807.66 29.89,809.16 28.15,809.66 26.90,804.18" fill="#ffc0cb" fill-opacity="0.14"/><polygon points="26.90,774.39 28.15,779.87 29.89,779.37 31.63,777.87 33.13,777.37 34.37,779.87 36.87,781.11 39.36,781.86 41.85,782.36 43.84,781.86 45.09,776.88 46.33,782.85 48.07,782.36 49.82,781.86 51.06,779.87 52.31,782.85 54.80,783.60 57.79,784.35 60.28,784.35 61.77,782.85 63.02,778.62 64.27,783.60 66.76,782.85 69.25,782.36 70.99,783.60 73.48,784.35 75.97,784.85 79.21,785.35 80.21,783.60 81.45,779.87 82.70,785.35 85.19,784.85 87.18,784.35 89.67,785.35 92.16,786.09 94.65,786.09 97.15,786.09 98.89,782.36 100.13,786.84 102.63,786.09 104.62,785.35 105.86,783.60 107.11,786.84 109.60,787.84 113.34,788.58 115.83,788.58 117.07,784.35 118.32,787.84 120.81,787.34 122.80,786.09 124.05,788.58 127.04,789.33 129.53,789.83 132.02,789.83 134.51,789.33 135.75,785.35 137.00,788.58 137.00,787.84 139.49,789.33 141.98,790.33 144.47,790.33 148.21,790.33 151.45,789.83 153.19,785.35 154.93,789.83 157.43,790.33 159.42,789.33 160.66,790.33 163.15,791.07 166.39,791.82 169.38,792.32 170.88,790.33 171.87,786.84 173.12,791.07 175.61,791.07 177.35,791.07 178.60,792.32 181.84,793.57 185.57,794.31 188.06,793.57 189.81,787.84 191.05,793.57 193.54,792.82 195.54,792.32 196.78,794.31 200.52,795.31 204.25,795.31 206.75,794.31 207.99,791.07 209.24,794.31 211.73,794.81 214.22,796.06 216.71,796.80 220.45,797.30 224.18,796.80 226.17,792.82 227.17,794.31 229.66,794.81 231.65,794.31 232.90,795.31 235.39,796.06 239.13,796.80 242.12,796.80 244.11,791.07 245.85,796.06 248.34,795.31 250.34,794.81 252.08,796.80 254.57,797.30 257.81,797.80 260.80,797.80 260.80,823.71 257.81,823.71 254.57,823.21 252.08,822.71 250.34,820.72 248.34,821.21 245.85,821.96 244.11,816.98 242.12,822.71 239.13,822.71 235.39,821.96 232.90,821.21 231.65,820.22 229.66,820.72 227.17,820.22 226.17,818.72 224.18,822.71 220.45,823.21 216.71,822.71 214.22,821.96 211.73,820.72 209.24,820.22 207.99,816.98 206.75,820.22 204.25,821.21 200.52,821.21 196.78,820.22 195.54,818.23 193.54,818.72 191.05,819.47 189.81,813.74 188.06,819.47 185.57,820.22 181.84,819.47 178.60,818.23 177.35,816.98 175.61,816.98 173.12,816.98 171.87,812.75 170.88,816.23 169.38,818.23 166.39,817.73 163.15,816.98 160.66,816.23 159.42,815.24 157.43,816.23 154.93,815.73 153.19,811.25 151.45,815.73 148.21,816.23 144.47,816.23 141.98,816.23 139.49,815.24 137.00,813.74 137.00,814.49 135.75,811.25 134.51,815.24 132.02,815.73 129.53,815.73 127.04,815.24 124.05,814.49 122.80,812.00 120.81,813.24 118.32,813.74 117.07,810.25 115.83,814.49 113.34,814.49 109.60,813.74 107.11,812.75 105.86,809.51 104.62,811.25 102.63,812.00 100.13,812.75 98.89,808.26 97.15,812.00 94.65,812.00 92.16,812.00 89.67,811.25 87.18,810.25 85.19,810.75 82.70,811.25 81.45,805.77 80.21,809.51 79.21,811.25 75.97,810.75 73.48,810.25 70.99,809.51 69.25,808.26 66.76,808.76 64.27,809.51 63.02,804.53 61.77,808.76 60.28,810.25 57.79,810.25 54.80,809.51 52.31,808.76 51.06,805.77 49.82,807.76 48.07,808.26 46.33,808.76 45.09,802.78 43.84,807.76 41.85,808.26 39.36,807.76 36.87,807.02 34.37,805.77 33.13,803.28 31.63,803.78 29.89,805.27 28.15,805.77 26.90,800.29" fill="#ffc0cb" fill-opacity="0.32"/><polyline points="26.90,776.63 27.90,786.59 28.89,795.31 29.89,799.79 30.89,792.82 31.88,770.40 32.88,750.47 33.88,791.57 35.37,791.57 37.36,791.57 39.85,791.57 42.35,790.83 44.34,789.83 45.58,792.82 47.33,790.33 48.57,792.82 49.82,795.31 51.06,799.05 52.31,801.54 53.55,797.80 55.30,795.31 57.29,795.81 59.78,795.81 61.77,800.29 63.02,792.82 64.76,784.10 66.01,774.14 67.25,780.36 69.25,787.84 70.99,791.57 73.48,795.31 75.97,797.30 78.46,798.30 80.21,799.05 81.20,810.25 82.20,827.69 83.20,842.14 84.19,830.18 85.19,825.20 86.68,820.22 88.43,816.48 90.17,814.74 92.16,813.99 94.65,813.24 96.65,811.50 97.89,804.03 99.14,790.33 100.88,781.61 102.13,778.37 103.37,785.35 104.62,797.80 105.37,804.77 106.61,799.05 108.35,797.80 110.85,797.30 113.34,797.30 115.83,796.55 117.07,791.57 118.32,785.35 119.56,790.33 120.81,794.06 122.05,792.32 123.30,794.06 124.55,792.82 126.29,797.30 128.28,799.05 130.77,800.79 133.26,801.54 135.01,801.54 136.00,779.12 137.00,792.82 137.00,796.55 138.25,798.30 139.49,801.54 141.48,802.78 143.23,801.54 145.72,802.28 148.21,802.78 149.95,801.54 151.45,800.79 152.94,799.79 153.94,804.03 155.18,809.01 156.43,807.76 158.17,804.03 159.92,802.78 161.91,802.28 164.40,803.28 166.89,805.27 168.88,807.27 170.63,809.01 172.37,809.76 174.36,809.01 176.36,809.76 178.10,810.25 179.84,811.50 181.84,813.24 183.83,815.24 185.57,815.73 188.06,813.99 189.81,812.75 191.80,813.99 194.29,814.74 196.78,813.99 199.27,812.25 201.27,813.99 203.01,812.75 204.75,810.25 206.25,806.52 207.49,799.05 208.49,795.31 209.73,804.03 210.98,808.26 212.23,812.75 213.72,815.24 214.97,810.25 216.71,809.01 219.20,809.01 221.69,810.25 223.68,809.01 224.93,806.52 225.93,800.29 227.17,802.78 228.67,796.55 230.41,794.06 232.15,794.06 234.15,792.82 236.14,794.06 237.88,795.31 239.63,794.81 241.62,795.81 242.86,795.81" fill="none" stroke="#1f77b4" stroke-width="1.15" stroke-linejoin="round"/><polyline points="26.90,787.34 28.15,792.82 29.89,792.32 31.63,790.83 33.13,790.33 34.37,792.82 36.87,794.06 39.36,794.81 41.85,795.31 43.84,794.81 45.09,789.83 46.33,795.81 48.07,795.31 49.82,794.81 51.06,792.82 52.31,795.81 54.80,796.55 57.79,797.30 60.28,797.30 61.77,795.81 63.02,791.57 64.27,796.55 66.76,795.81 69.25,795.31 70.99,796.55 73.48,797.30 75.97,797.80 79.21,798.30 80.21,796.55 81.45,792.82 82.70,798.30 85.19,797.80 87.18,797.30 89.67,798.30 92.16,799.05 94.65,799.05 97.15,799.05 98.89,795.31 100.13,799.79 102.63,799.05 104.62,798.30 105.86,796.55 107.11,799.79 109.60,800.79 113.34,801.54 115.83,801.54 117.07,797.30 118.32,800.79 120.81,800.29 122.80,799.05 124.05,801.54 127.04,802.28 129.53,802.78 132.02,802.78 134.51,802.28 135.75,798.30 137.00,801.54 137.00,800.79 139.49,802.28 141.98,803.28 144.47,803.28 148.21,803.28 151.45,802.78 153.19,798.30 154.93,802.78 157.43,803.28 159.42,802.28 160.66,803.28 163.15,804.03 166.39,804.77 169.38,805.27 170.88,803.28 171.87,799.79 173.12,804.03 175.61,804.03 177.35,804.03 178.60,805.27 181.84,806.52 185.57,807.27 188.06,806.52 189.81,800.79 191.05,806.52 193.54,805.77 195.54,805.27 196.78,807.27 200.52,808.26 204.25,808.26 206.75,807.27 207.99,804.03 209.24,807.27 211.73,807.76 214.22,809.01 216.71,809.76 220.45,810.25 224.18,809.76 226.17,805.77 227.17,807.27 229.66,807.76 231.65,807.27 232.90,808.26 235.39,809.01 239.13,809.76 242.12,809.76 244.11,804.03 245.85,809.01 248.34,808.26 250.34,807.76 252.08,809.76 254.57,810.25 257.81,810.75 260.80,810.75" fill="none" stroke="#ff1a1a" stroke-width="1.2" stroke-linejoin="round"/><line x1="13.90" y1="754.21" x2="15.50" y2="754.21" stroke="#777777" stroke-width="0.6"/><text x="12.10" y="755.81" font-size="4.7" text-anchor="end" class="t">10</text><line x1="13.90" y1="769.90" x2="15.50" y2="769.90" stroke="#777777" stroke-width="0.6"/><text x="12.10" y="771.50" font-size="4.7" text-anchor="end" class="t">8</text><line x1="13.90" y1="785.84" x2="15.50" y2="785.84" stroke="#777777" stroke-width="0.6"/><text x="12.10" y="787.44" font-size="4.7" text-anchor="end" class="t">6</text><line x1="13.90" y1="801.79" x2="15.50" y2="801.79" stroke="#777777" stroke-width="0.6"/><text x="12.10" y="803.39" font-size="4.7" text-anchor="end" class="t">4</text><line x1="13.90" y1="817.48" x2="15.50" y2="817.48" stroke="#777777" stroke-width="0.6"/><text x="12.10" y="819.08" font-size="4.7" text-anchor="end" class="t">2</text><line x1="13.90" y1="833.17" x2="15.50" y2="833.17" stroke="#777777" stroke-width="0.6"/><text x="12.10" y="834.77" font-size="4.7" text-anchor="end" class="t">0</text><text x="144.00" y="743.50" font-size="6.15" text-anchor="middle" class="t">Jeonnam Prophet Forecast</text><rect x="15.50" y="746.30" width="257.00" height="100.50" fill="none" stroke="#777777" stroke-width="1.0"/><line x1="25.80" y1="846.80" x2="25.80" y2="848.40" stroke="#777777" stroke-width="0.6"/><text x="25.80" y="854.10" font-size="4.7" text-anchor="middle" class="t">2012</text><line x1="61.90" y1="846.80" x2="61.90" y2="848.40" stroke="#777777" stroke-width="0.6"/><text x="61.90" y="854.10" font-size="4.7" text-anchor="middle" class="t">2014</text><line x1="98.00" y1="846.80" x2="98.00" y2="848.40" stroke="#777777" stroke-width="0.6"/><text x="98.00" y="854.10" font-size="4.7" text-anchor="middle" class="t">2016</text><line x1="134.10" y1="846.80" x2="134.10" y2="848.40" stroke="#777777" stroke-width="0.6"/><text x="134.10" y="854.10" font-size="4.7" text-anchor="middle" class="t">2018</text><line x1="170.20" y1="846.80" x2="170.20" y2="848.40" stroke="#777777" stroke-width="0.6"/><text x="170.20" y="854.10" font-size="4.7" text-anchor="middle" class="t">2020</text><line x1="206.30" y1="846.80" x2="206.30" y2="848.40" stroke="#777777" stroke-width="0.6"/><text x="206.30" y="854.10" font-size="4.7" text-anchor="middle" class="t">2022</text><line x1="242.40" y1="846.80" x2="242.40" y2="848.40" stroke="#777777" stroke-width="0.6"/><text x="242.40" y="854.10" font-size="4.7" text-anchor="middle" class="t">2024</text><rect x="229.50" y="749.80" width="41" height="15" rx="1" fill="#fff" fill-opacity="0.8" stroke="#d6d6d6" stroke-width="0.5"/><line x1="231.00" y1="753.10" x2="241.50" y2="753.10" stroke="#1f77b4" stroke-width="1.15"/><line x1="231.00" y1="760.10" x2="241.50" y2="760.10" stroke="#ff1a1a" stroke-width="1.2"/><text x="245.80" y="754.70" font-size="4.8" class="t">Observed</text><text x="245.80" y="761.70" font-size="4.8" class="t">Forecast</text></g>
<g><polygon points="298.90,776.53 300.65,777.77 302.39,779.02 303.88,777.77 305.13,779.02 306.37,782.75 308.87,783.50 311.36,782.75 313.85,781.51 316.34,780.26 318.08,778.52 319.83,780.26 321.82,781.51 323.06,779.52 324.31,782.75 326.80,784.50 329.79,784.00 332.28,783.50 334.27,781.01 335.52,779.52 337.26,781.01 339.25,782.75 341.75,785.25 344.24,786.49 346.73,786.99 349.22,785.99 351.71,784.00 353.70,782.75 354.95,784.00 357.19,784.50 359.18,785.25 361.67,786.99 364.16,788.48 366.65,788.98 369.15,787.74 370.89,784.00 372.38,785.25 374.63,786.49 376.62,787.74 378.61,789.48 381.60,790.23 384.09,789.48 386.58,788.48 389.07,785.99 391.07,785.25 392.81,787.74 395.30,788.98 397.79,790.23 400.28,791.47 402.77,791.47 405.26,790.23 407.75,788.48 409.00,786.49 409.00,788.48 411.49,790.23 413.98,792.72 416.47,794.46 420.21,794.46 423.45,793.47 425.19,790.23 426.93,791.97 430.17,792.72 432.66,794.46 435.15,795.96 438.39,796.45 440.88,796.45 442.88,795.21 444.62,792.72 446.36,794.46 448.85,796.45 451.35,798.45 454.33,798.95 457.57,798.45 460.06,796.95 461.81,795.21 463.80,796.45 466.29,798.45 468.78,800.19 472.52,801.44 476.25,800.19 479.24,798.45 480.74,796.95 482.48,798.95 484.97,800.94 488.21,802.68 492.45,803.43 495.68,802.68 497.43,800.19 499.17,798.95 501.66,800.19 504.90,802.68 508.14,804.43 511.13,804.43 514.12,803.43 516.61,800.94 518.60,801.93 521.09,803.43 523.08,805.17 524.83,807.66 527.32,808.91 530.31,808.41 532.80,807.66 532.80,845.23 530.31,845.97 527.32,846.47 524.83,845.23 523.08,842.74 521.09,840.99 518.60,839.50 516.61,838.50 514.12,840.99 511.13,841.99 508.14,841.99 504.90,840.25 501.66,837.75 499.17,836.51 497.43,837.75 495.68,840.25 492.45,840.99 488.21,840.25 484.97,838.50 482.48,836.51 480.74,834.52 479.24,836.01 476.25,837.75 472.52,839.00 468.78,837.75 466.29,836.01 463.80,834.02 461.81,832.77 460.06,834.52 457.57,836.01 454.33,836.51 451.35,836.01 448.85,834.02 446.36,832.03 444.62,830.28 442.88,832.77 440.88,834.02 438.39,834.02 435.15,833.52 432.66,832.03 430.17,830.28 426.93,829.53 425.19,827.79 423.45,831.03 420.21,832.03 416.47,832.03 413.98,830.28 411.49,827.79 409.00,826.05 409.00,824.05 407.75,826.05 405.26,827.79 402.77,829.04 400.28,829.04 397.79,827.79 395.30,826.55 392.81,825.30 391.07,822.81 389.07,823.56 386.58,826.05 384.09,827.04 381.60,827.79 378.61,827.04 376.62,825.30 374.63,824.05 372.38,822.81 370.89,821.56 369.15,825.30 366.65,826.55 364.16,826.05 361.67,824.55 359.18,822.81 357.19,822.06 354.95,821.56 353.70,820.32 351.71,821.56 349.22,823.56 346.73,824.55 344.24,824.05 341.75,822.81 339.25,820.32 337.26,818.57 335.52,817.08 334.27,818.57 332.28,821.07 329.79,821.56 326.80,822.06 324.31,820.32 323.06,817.08 321.82,819.07 319.83,817.83 318.08,816.08 316.34,817.83 313.85,819.07 311.36,820.32 308.87,821.07 306.37,820.32 305.13,816.58 303.88,815.34 302.39,816.58 300.65,815.34 298.90,814.09" fill="#ffc0cb" fill-opacity="0.14"/><polygon points="298.90,780.86 300.65,782.11 302.39,783.35 303.88,782.11 305.13,783.35 306.37,787.09 308.87,787.84 311.36,787.09 313.85,785.84 316.34,784.60 318.08,782.85 319.83,784.60 321.82,785.84 323.06,783.85 324.31,787.09 326.80,788.83 329.79,788.33 332.28,787.84 334.27,785.35 335.52,783.85 337.26,785.35 339.25,787.09 341.75,789.58 344.24,790.83 346.73,791.32 349.22,790.33 351.71,788.33 353.70,787.09 354.95,788.33 357.19,788.83 359.18,789.58 361.67,791.32 364.16,792.82 366.65,793.32 369.15,792.07 370.89,788.33 372.38,789.58 374.63,790.83 376.62,792.07 378.61,793.81 381.60,794.56 384.09,793.81 386.58,792.82 389.07,790.33 391.07,789.58 392.81,792.07 395.30,793.32 397.79,794.56 400.28,795.81 402.77,795.81 405.26,794.56 407.75,792.82 409.00,790.83 409.00,792.82 411.49,794.56 413.98,797.05 416.47,798.80 420.21,798.80 423.45,797.80 425.19,794.56 426.93,796.31 430.17,797.05 432.66,798.80 435.15,800.29 438.39,800.79 440.88,800.79 442.88,799.54 444.62,797.05 446.36,798.80 448.85,800.79 451.35,802.78 454.33,803.28 457.57,802.78 460.06,801.29 461.81,799.54 463.80,800.79 466.29,802.78 468.78,804.53 472.52,805.77 476.25,804.53 479.24,802.78 480.74,801.29 482.48,803.28 484.97,805.27 488.21,807.02 492.45,807.76 495.68,807.02 497.43,804.53 499.17,803.28 501.66,804.53 504.90,807.02 508.14,808.76 511.13,808.76 514.12,807.76 516.61,805.27 518.60,806.27 521.09,807.76 523.08,809.51 524.83,812.00 527.32,813.24 530.31,812.75 532.80,812.00 532.80,840.89 530.31,841.64 527.32,842.14 524.83,840.89 523.08,838.40 521.09,836.66 518.60,835.16 516.61,834.17 514.12,836.66 511.13,837.65 508.14,837.65 504.90,835.91 501.66,833.42 499.17,832.17 497.43,833.42 495.68,835.91 492.45,836.66 488.21,835.91 484.97,834.17 482.48,832.17 480.74,830.18 479.24,831.68 476.25,833.42 472.52,834.67 468.78,833.42 466.29,831.68 463.80,829.68 461.81,828.44 460.06,830.18 457.57,831.68 454.33,832.17 451.35,831.68 448.85,829.68 446.36,827.69 444.62,825.95 442.88,828.44 440.88,829.68 438.39,829.68 435.15,829.19 432.66,827.69 430.17,825.95 426.93,825.20 425.19,823.46 423.45,826.69 420.21,827.69 416.47,827.69 413.98,825.95 411.49,823.46 409.00,821.71 409.00,819.72 407.75,821.71 405.26,823.46 402.77,824.70 400.28,824.70 397.79,823.46 395.30,822.21 392.81,820.97 391.07,818.47 389.07,819.22 386.58,821.71 384.09,822.71 381.60,823.46 378.61,822.71 376.62,820.97 374.63,819.72 372.38,818.47 370.89,817.23 369.15,820.97 366.65,822.21 364.16,821.71 361.67,820.22 359.18,818.47 357.19,817.73 354.95,817.23 353.70,815.98 351.71,817.23 349.22,819.22 346.73,820.22 344.24,819.72 341.75,818.47 339.25,815.98 337.26,814.24 335.52,812.75 334.27,814.24 332.28,816.73 329.79,817.23 326.80,817.73 324.31,815.98 323.06,812.75 321.82,814.74 319.83,813.49 318.08,811.75 316.34,813.49 313.85,814.74 311.36,815.98 308.87,816.73 306.37,815.98 305.13,812.25 303.88,811.00 302.39,812.25 300.65,811.00 298.90,809.76" fill="#ffc0cb" fill-opacity="0.32"/><polyline points="298.90,794.06 300.15,787.84 301.39,792.82 302.39,795.31 303.39,792.82 304.13,772.89 304.88,750.47 305.88,787.84 306.87,807.76 308.87,809.76 310.61,811.50 312.35,813.99 314.35,815.73 316.09,815.73 317.33,809.76 318.58,800.29 319.83,804.03 321.32,800.79 322.57,809.01 323.81,810.25 325.06,800.79 326.80,806.52 328.79,809.01 331.28,808.26 333.03,807.76 334.27,815.24 335.27,823.21 336.27,815.24 337.51,820.22 338.76,806.52 340.00,800.29 341.75,804.03 343.74,807.27 345.48,809.01 347.97,810.25 349.72,810.75 351.71,811.50 352.95,794.06 354.20,779.12 355.45,784.10 356.69,789.08 357.94,794.06 359.18,799.05 360.68,796.55 362.17,802.78 363.67,800.29 365.41,796.55 367.15,794.06 369.15,792.82 370.64,787.84 371.64,784.10 372.88,790.33 374.13,799.05 375.62,809.01 377.12,801.54 379.11,801.54 381.60,802.28 384.09,800.79 386.08,796.55 387.83,795.31 389.57,792.82 390.82,801.54 392.81,805.27 395.30,806.52 397.79,808.26 400.28,809.01 402.77,809.76 405.26,807.76 407.01,805.27 408.25,767.91 409.00,775.38 409.00,777.87 410.25,786.59 411.49,795.31 412.74,796.55 413.98,802.78 415.97,807.27 417.72,808.26 419.46,808.26 421.45,809.01 423.45,809.76 424.69,815.24 425.69,832.67 426.93,837.16 428.43,828.94 430.17,823.95 431.92,822.21 433.91,820.72 436.40,819.72 438.39,816.48 440.14,817.73 441.88,815.24 443.37,813.99 445.12,810.75 446.36,807.27 447.61,812.75 448.85,817.73 450.10,816.48 451.84,820.22 453.84,823.21 456.33,823.95 458.82,825.20 461.31,826.45 462.55,833.92 463.80,833.17 466.29,832.67 468.78,832.17 471.27,831.43 473.76,831.43 476.25,830.68 478.75,829.68 479.99,833.92 481.24,826.45 482.98,822.71 484.23,818.97 485.22,823.95 486.72,825.20 488.21,822.71 489.95,827.69 492.45,827.19 494.94,825.20 496.18,822.21 497.43,804.03 498.67,795.31 499.92,800.29 501.16,807.76 502.66,815.24 504.15,817.23 505.65,816.48 507.39,812.75 509.13,809.01 511.13,807.76 513.12,808.26 514.86,809.01" fill="none" stroke="#1f77b4" stroke-width="1.15" stroke-linejoin="round"/><polyline points="298.90,795.31 300.65,796.55 302.39,797.80 303.88,796.55 305.13,797.80 306.37,801.54 308.87,802.28 311.36,801.54 313.85,800.29 316.34,799.05 318.08,797.30 319.83,799.05 321.82,800.29 323.06,798.30 324.31,801.54 326.80,803.28 329.79,802.78 332.28,802.28 334.27,799.79 335.52,798.30 337.26,799.79 339.25,801.54 341.75,804.03 344.24,805.27 346.73,805.77 349.22,804.77 351.71,802.78 353.70,801.54 354.95,802.78 357.19,803.28 359.18,804.03 361.67,805.77 364.16,807.27 366.65,807.76 369.15,806.52 370.89,802.78 372.38,804.03 374.63,805.27 376.62,806.52 378.61,808.26 381.60,809.01 384.09,808.26 386.58,807.27 389.07,804.77 391.07,804.03 392.81,806.52 395.30,807.76 397.79,809.01 400.28,810.25 402.77,810.25 405.26,809.01 407.75,807.27 409.00,805.27 409.00,807.27 411.49,809.01 413.98,811.50 416.47,813.24 420.21,813.24 423.45,812.25 425.19,809.01 426.93,810.75 430.17,811.50 432.66,813.24 435.15,814.74 438.39,815.24 440.88,815.24 442.88,813.99 444.62,811.50 446.36,813.24 448.85,815.24 451.35,817.23 454.33,817.73 457.57,817.23 460.06,815.73 461.81,813.99 463.80,815.24 466.29,817.23 468.78,818.97 472.52,820.22 476.25,818.97 479.24,817.23 480.74,815.73 482.48,817.73 484.97,819.72 488.21,821.46 492.45,822.21 495.68,821.46 497.43,818.97 499.17,817.73 501.66,818.97 504.90,821.46 508.14,823.21 511.13,823.21 514.12,822.21 516.61,819.72 518.60,820.72 521.09,822.21 523.08,823.95 524.83,826.45 527.32,827.69 530.31,827.19 532.80,826.45" fill="none" stroke="#ff1a1a" stroke-width="1.2" stroke-linejoin="round"/><line x1="285.90" y1="749.23" x2="287.50" y2="749.23" stroke="#777777" stroke-width="0.6"/><text x="284.10" y="750.83" font-size="4.7" text-anchor="end" class="t">9</text><line x1="285.90" y1="761.18" x2="287.50" y2="761.18" stroke="#777777" stroke-width="0.6"/><text x="284.10" y="762.78" font-size="4.7" text-anchor="end" class="t">8</text><line x1="285.90" y1="772.89" x2="287.50" y2="772.89" stroke="#777777" stroke-width="0.6"/><text x="284.10" y="774.49" font-size="4.7" text-anchor="end" class="t">7</text><line x1="285.90" y1="784.85" x2="287.50" y2="784.85" stroke="#777777" stroke-width="0.6"/><text x="284.10" y="786.45" font-size="4.7" text-anchor="end" class="t">6</text><line x1="285.90" y1="796.80" x2="287.50" y2="796.80" stroke="#777777" stroke-width="0.6"/><text x="284.10" y="798.40" font-size="4.7" text-anchor="end" class="t">5</text><line x1="285.90" y1="808.76" x2="287.50" y2="808.76" stroke="#777777" stroke-width="0.6"/><text x="284.10" y="810.36" font-size="4.7" text-anchor="end" class="t">4</text><line x1="285.90" y1="820.72" x2="287.50" y2="820.72" stroke="#777777" stroke-width="0.6"/><text x="284.10" y="822.32" font-size="4.7" text-anchor="end" class="t">3</text><line x1="285.90" y1="832.67" x2="287.50" y2="832.67" stroke="#777777" stroke-width="0.6"/><text x="284.10" y="834.27" font-size="4.7" text-anchor="end" class="t">2</text><line x1="285.90" y1="844.63" x2="287.50" y2="844.63" stroke="#777777" stroke-width="0.6"/><text x="284.10" y="846.23" font-size="4.7" text-anchor="end" class="t">1</text><text x="416.00" y="743.50" font-size="6.15" text-anchor="middle" class="t">Jeonbuk Prophet Forecast</text><rect x="287.50" y="746.30" width="257.00" height="100.50" fill="none" stroke="#777777" stroke-width="1.0"/><line x1="297.80" y1="846.80" x2="297.80" y2="848.40" stroke="#777777" stroke-width="0.6"/><text x="297.80" y="854.10" font-size="4.7" text-anchor="middle" class="t">2012</text><line x1="333.90" y1="846.80" x2="333.90" y2="848.40" stroke="#777777" stroke-width="0.6"/><text x="333.90" y="854.10" font-size="4.7" text-anchor="middle" class="t">2014</text><line x1="370.00" y1="846.80" x2="370.00" y2="848.40" stroke="#777777" stroke-width="0.6"/><text x="370.00" y="854.10" font-size="4.7" text-anchor="middle" class="t">2016</text><line x1="406.10" y1="846.80" x2="406.10" y2="848.40" stroke="#777777" stroke-width="0.6"/><text x="406.10" y="854.10" font-size="4.7" text-anchor="middle" class="t">2018</text><line x1="442.20" y1="846.80" x2="442.20" y2="848.40" stroke="#777777" stroke-width="0.6"/><text x="442.20" y="854.10" font-size="4.7" text-anchor="middle" class="t">2020</text><line x1="478.30" y1="846.80" x2="478.30" y2="848.40" stroke="#777777" stroke-width="0.6"/><text x="478.30" y="854.10" font-size="4.7" text-anchor="middle" class="t">2022</text><line x1="514.40" y1="846.80" x2="514.40" y2="848.40" stroke="#777777" stroke-width="0.6"/><text x="514.40" y="854.10" font-size="4.7" text-anchor="middle" class="t">2024</text><rect x="501.50" y="749.80" width="41" height="15" rx="1" fill="#fff" fill-opacity="0.8" stroke="#d6d6d6" stroke-width="0.5"/><line x1="503.00" y1="753.10" x2="513.50" y2="753.10" stroke="#1f77b4" stroke-width="1.15"/><line x1="503.00" y1="760.10" x2="513.50" y2="760.10" stroke="#ff1a1a" stroke-width="1.2"/><text x="517.80" y="754.70" font-size="4.8" class="t">Observed</text><text x="517.80" y="761.70" font-size="4.8" class="t">Forecast</text></g>
<g><polygon points="26.90,913.18 28.65,911.93 30.39,911.19 31.88,910.69 33.13,910.19 34.37,913.18 36.87,914.42 39.36,915.67 41.85,916.17 43.84,915.67 45.09,906.95 46.33,913.18 48.07,914.42 49.82,915.17 51.06,914.42 52.31,916.17 54.80,917.66 57.79,918.66 60.28,919.41 61.77,916.91 63.02,913.18 64.27,914.42 66.76,916.91 69.25,918.66 72.24,920.65 74.73,921.90 77.22,922.64 79.21,923.14 80.71,920.65 82.20,915.17 83.45,919.41 85.44,920.65 87.68,921.90 90.17,923.14 92.66,924.39 95.15,925.63 97.15,926.13 98.89,925.13 100.13,925.63 102.63,925.13 104.62,923.64 105.86,925.13 107.11,926.88 109.60,928.12 113.34,929.37 115.83,928.62 117.07,920.15 118.32,926.88 120.81,927.63 122.80,926.88 124.05,929.37 127.04,930.12 129.53,930.61 132.02,931.11 134.51,930.61 135.75,925.13 137.00,925.63 137.00,924.39 139.49,926.88 141.98,928.12 144.47,928.62 148.21,928.62 151.45,927.63 153.19,924.39 154.93,920.15 156.43,924.39 158.92,926.88 161.91,926.88 164.90,927.63 168.14,926.88 170.63,925.63 171.87,924.39 174.36,923.14 176.36,921.90 178.10,923.64 180.59,922.64 184.33,921.90 186.82,920.65 189.31,916.91 190.55,915.67 191.80,919.41 194.29,920.65 196.78,921.15 200.52,921.90 204.25,921.90 206.75,920.65 208.49,915.67 209.73,918.16 211.73,918.66 214.22,919.41 216.71,919.41 220.45,919.41 224.18,919.41 226.17,913.18 227.17,910.19 228.67,913.68 231.16,915.17 234.15,916.17 237.13,916.91 240.37,916.91 242.86,915.17 244.11,913.68 246.60,913.68 249.09,911.93 250.83,910.69 252.83,913.18 255.32,914.42 258.31,915.17 260.80,915.17 260.80,955.32 258.31,955.32 255.32,954.58 252.83,953.33 250.83,950.84 249.09,952.09 246.60,953.83 244.11,953.83 242.86,955.32 240.37,957.07 237.13,957.07 234.15,956.32 231.16,955.32 228.67,953.83 227.17,950.34 226.17,953.33 224.18,959.56 220.45,959.56 216.71,959.56 214.22,959.56 211.73,958.81 209.73,958.31 208.49,955.82 206.75,960.80 204.25,962.05 200.52,962.05 196.78,961.30 194.29,960.80 191.80,959.56 190.55,955.82 189.31,957.07 186.82,960.80 184.33,962.05 180.59,962.80 178.10,963.79 176.36,962.05 174.36,963.29 171.87,964.54 170.63,965.79 168.14,967.03 164.90,967.78 161.91,967.03 158.92,967.03 156.43,964.54 154.93,960.31 153.19,964.54 151.45,967.78 148.21,968.77 144.47,968.77 141.98,968.28 139.49,967.03 137.00,964.54 137.00,965.79 135.75,965.29 134.51,970.77 132.02,971.27 129.53,970.77 127.04,970.27 124.05,969.52 122.80,967.03 120.81,967.78 118.32,967.03 117.07,960.31 115.83,968.77 113.34,969.52 109.60,968.28 107.11,967.03 105.86,965.29 104.62,963.79 102.63,965.29 100.13,965.79 98.89,965.29 97.15,966.28 95.15,965.79 92.66,964.54 90.17,963.29 87.68,962.05 85.44,960.80 83.45,959.56 82.20,955.32 80.71,960.80 79.21,963.29 77.22,962.80 74.73,962.05 72.24,960.80 69.25,958.81 66.76,957.07 64.27,954.58 63.02,953.33 61.77,957.07 60.28,959.56 57.79,958.81 54.80,957.81 52.31,956.32 51.06,954.58 49.82,955.32 48.07,954.58 46.33,953.33 45.09,947.10 43.84,955.82 41.85,956.32 39.36,955.82 36.87,954.58 34.37,953.33 33.13,950.34 31.88,950.84 30.39,951.34 28.65,952.09 26.90,953.33" fill="#ffc0cb" fill-opacity="0.14"/><polygon points="26.90,917.81 28.65,916.57 30.39,915.82 31.88,915.32 33.13,914.82 34.37,917.81 36.87,919.06 39.36,920.30 41.85,920.80 43.84,920.30 45.09,911.58 46.33,917.81 48.07,919.06 49.82,919.80 51.06,919.06 52.31,920.80 54.80,922.29 57.79,923.29 60.28,924.04 61.77,921.55 63.02,917.81 64.27,919.06 66.76,921.55 69.25,923.29 72.24,925.28 74.73,926.53 77.22,927.28 79.21,927.77 80.71,925.28 82.20,919.80 83.45,924.04 85.44,925.28 87.68,926.53 90.17,927.77 92.66,929.02 95.15,930.27 97.15,930.76 98.89,929.77 100.13,930.27 102.63,929.77 104.62,928.27 105.86,929.77 107.11,931.51 109.60,932.76 113.34,934.00 115.83,933.25 117.07,924.79 118.32,931.51 120.81,932.26 122.80,931.51 124.05,934.00 127.04,934.75 129.53,935.25 132.02,935.75 134.51,935.25 135.75,929.77 137.00,930.27 137.00,929.02 139.49,931.51 141.98,932.76 144.47,933.25 148.21,933.25 151.45,932.26 153.19,929.02 154.93,924.79 156.43,929.02 158.92,931.51 161.91,931.51 164.90,932.26 168.14,931.51 170.63,930.27 171.87,929.02 174.36,927.77 176.36,926.53 178.10,928.27 180.59,927.28 184.33,926.53 186.82,925.28 189.31,921.55 190.55,920.30 191.80,924.04 194.29,925.28 196.78,925.78 200.52,926.53 204.25,926.53 206.75,925.28 208.49,920.30 209.73,922.79 211.73,923.29 214.22,924.04 216.71,924.04 220.45,924.04 224.18,924.04 226.17,917.81 227.17,914.82 228.67,918.31 231.16,919.80 234.15,920.80 237.13,921.55 240.37,921.55 242.86,919.80 244.11,918.31 246.60,918.31 249.09,916.57 250.83,915.32 252.83,917.81 255.32,919.06 258.31,919.80 260.80,919.80 260.80,950.69 258.31,950.69 255.32,949.94 252.83,948.70 250.83,946.21 249.09,947.45 246.60,949.20 244.11,949.20 242.86,950.69 240.37,952.43 237.13,952.43 234.15,951.69 231.16,950.69 228.67,949.20 227.17,945.71 226.17,948.70 224.18,954.93 220.45,954.93 216.71,954.93 214.22,954.93 211.73,954.18 209.73,953.68 208.49,951.19 206.75,956.17 204.25,957.42 200.52,957.42 196.78,956.67 194.29,956.17 191.80,954.93 190.55,951.19 189.31,952.43 186.82,956.17 184.33,957.42 180.59,958.16 178.10,959.16 176.36,957.42 174.36,958.66 171.87,959.91 170.63,961.15 168.14,962.40 164.90,963.15 161.91,962.40 158.92,962.40 156.43,959.91 154.93,955.67 153.19,959.91 151.45,963.15 148.21,964.14 144.47,964.14 141.98,963.64 139.49,962.40 137.00,959.91 137.00,961.15 135.75,960.65 134.51,966.13 132.02,966.63 129.53,966.13 127.04,965.64 124.05,964.89 122.80,962.40 120.81,963.15 118.32,962.40 117.07,955.67 115.83,964.14 113.34,964.89 109.60,963.64 107.11,962.40 105.86,960.65 104.62,959.16 102.63,960.65 100.13,961.15 98.89,960.65 97.15,961.65 95.15,961.15 92.66,959.91 90.17,958.66 87.68,957.42 85.44,956.17 83.45,954.93 82.20,950.69 80.71,956.17 79.21,958.66 77.22,958.16 74.73,957.42 72.24,956.17 69.25,954.18 66.76,952.43 64.27,949.94 63.02,948.70 61.77,952.43 60.28,954.93 57.79,954.18 54.80,953.18 52.31,951.69 51.06,949.94 49.82,950.69 48.07,949.94 46.33,948.70 45.09,942.47 43.84,951.19 41.85,951.69 39.36,951.19 36.87,949.94 34.37,948.70 33.13,945.71 31.88,946.21 30.39,946.71 28.65,947.45 26.90,948.70" fill="#ffc0cb" fill-opacity="0.32"/><polyline points="26.90,946.21 28.15,946.95 29.39,941.97 30.39,935.75 31.39,928.27 32.13,914.57 32.88,914.57 33.63,933.25 34.87,935.75 36.87,938.24 38.61,939.48 40.35,940.73 42.35,942.72 43.59,942.72 44.34,915.82 45.09,872.97 46.08,895.89 47.33,910.84 48.57,917.06 49.82,920.80 51.06,924.54 52.31,927.03 54.30,929.52 56.05,932.01 57.79,933.25 59.78,935.75 61.28,936.99 62.27,945.71 63.02,950.69 64.02,946.95 65.26,940.73 66.76,943.22 68.50,945.21 70.49,945.21 72.73,945.71 74.73,946.21 77.22,946.95 79.21,946.95 80.46,951.94 81.45,935.75 82.45,912.83 83.45,923.29 84.69,935.75 85.94,939.48 87.68,940.73 89.67,941.23 91.67,942.72 93.41,943.72 95.15,945.21 97.15,946.95 98.39,951.94 99.14,958.16 100.38,953.18 102.13,954.43 104.12,953.68 105.86,953.68 108.35,953.18 110.85,952.68 113.34,951.94 115.08,951.19 116.33,949.45 117.57,941.97 118.82,945.71 120.81,948.20 123.30,950.19 125.79,950.69 128.28,951.19 130.77,950.69 133.26,949.45 135.01,948.20 136.00,955.67 137.00,954.43 137.00,948.20 138.25,946.95 139.49,954.43 140.74,948.20 141.98,946.95 143.97,950.69 145.72,948.20 148.21,949.45 150.70,950.69 152.44,951.94 153.44,958.66 154.44,951.94 155.68,948.20 156.93,946.95 158.92,946.95 161.41,947.70 163.90,948.20 166.39,948.20 168.88,946.95 170.13,940.73 171.37,922.05 172.37,930.76 173.87,934.50 175.61,938.24 176.85,940.73 178.85,944.46 180.59,946.95 182.33,946.95 184.33,946.95 186.32,946.21 188.06,940.73 189.31,923.29 190.55,934.50 191.80,938.24 193.05,941.97 194.29,944.46 196.78,943.72 199.27,944.46 201.27,943.72 203.01,945.71 204.75,948.20 206.75,953.18 207.99,956.92 209.24,949.45 210.98,946.95 212.97,945.71 215.46,946.95 217.95,947.70 220.45,948.20 222.94,948.20 224.68,946.21 225.93,925.78 227.17,910.34 228.42,915.82 229.66,922.05 231.16,923.29 232.90,920.30 234.64,922.05 236.64,924.54 239.13,925.78 241.62,927.03 242.86,928.27" fill="none" stroke="#1f77b4" stroke-width="1.15" stroke-linejoin="round"/><polyline points="26.90,933.25 28.65,932.01 30.39,931.26 31.88,930.76 33.13,930.27 34.37,933.25 36.87,934.50 39.36,935.75 41.85,936.24 43.84,935.75 45.09,927.03 46.33,933.25 48.07,934.50 49.82,935.25 51.06,934.50 52.31,936.24 54.80,937.74 57.79,938.73 60.28,939.48 61.77,936.99 63.02,933.25 64.27,934.50 66.76,936.99 69.25,938.73 72.24,940.73 74.73,941.97 77.22,942.72 79.21,943.22 80.71,940.73 82.20,935.25 83.45,939.48 85.44,940.73 87.68,941.97 90.17,943.22 92.66,944.46 95.15,945.71 97.15,946.21 98.89,945.21 100.13,945.71 102.63,945.21 104.62,943.72 105.86,945.21 107.11,946.95 109.60,948.20 113.34,949.45 115.83,948.70 117.07,940.23 118.32,946.95 120.81,947.70 122.80,946.95 124.05,949.45 127.04,950.19 129.53,950.69 132.02,951.19 134.51,950.69 135.75,945.21 137.00,945.71 137.00,944.46 139.49,946.95 141.98,948.20 144.47,948.70 148.21,948.70 151.45,947.70 153.19,944.46 154.93,940.23 156.43,944.46 158.92,946.95 161.91,946.95 164.90,947.70 168.14,946.95 170.63,945.71 171.87,944.46 174.36,943.22 176.36,941.97 178.10,943.72 180.59,942.72 184.33,941.97 186.82,940.73 189.31,936.99 190.55,935.75 191.80,939.48 194.29,940.73 196.78,941.23 200.52,941.97 204.25,941.97 206.75,940.73 208.49,935.75 209.73,938.24 211.73,938.73 214.22,939.48 216.71,939.48 220.45,939.48 224.18,939.48 226.17,933.25 227.17,930.27 228.67,933.75 231.16,935.25 234.15,936.24 237.13,936.99 240.37,936.99 242.86,935.25 244.11,933.75 246.60,933.75 249.09,932.01 250.83,930.76 252.83,933.25 255.32,934.50 258.31,935.25 260.80,935.25" fill="none" stroke="#ff1a1a" stroke-width="1.2" stroke-linejoin="round"/><line x1="13.90" y1="875.96" x2="15.50" y2="875.96" stroke="#777777" stroke-width="0.6"/><text x="12.10" y="877.56" font-size="4.7" text-anchor="end" class="t">15.0</text><line x1="13.90" y1="889.66" x2="15.50" y2="889.66" stroke="#777777" stroke-width="0.6"/><text x="12.10" y="891.26" font-size="4.7" text-anchor="end" class="t">12.5</text><line x1="13.90" y1="903.11" x2="15.50" y2="903.11" stroke="#777777" stroke-width="0.6"/><text x="12.10" y="904.71" font-size="4.7" text-anchor="end" class="t">10.0</text><line x1="13.90" y1="916.57" x2="15.50" y2="916.57" stroke="#777777" stroke-width="0.6"/><text x="12.10" y="918.17" font-size="4.7" text-anchor="end" class="t">7.5</text><line x1="13.90" y1="930.27" x2="15.50" y2="930.27" stroke="#777777" stroke-width="0.6"/><text x="12.10" y="931.87" font-size="4.7" text-anchor="end" class="t">5.0</text><line x1="13.90" y1="943.72" x2="15.50" y2="943.72" stroke="#777777" stroke-width="0.6"/><text x="12.10" y="945.32" font-size="4.7" text-anchor="end" class="t">2.5</text><line x1="13.90" y1="957.42" x2="15.50" y2="957.42" stroke="#777777" stroke-width="0.6"/><text x="12.10" y="959.02" font-size="4.7" text-anchor="end" class="t">0.0</text><text x="144.00" y="865.80" font-size="6.15" text-anchor="middle" class="t">Jeju Prophet Forecast</text><rect x="15.50" y="868.60" width="257.00" height="100.50" fill="none" stroke="#777777" stroke-width="1.0"/><line x1="25.80" y1="969.10" x2="25.80" y2="970.70" stroke="#777777" stroke-width="0.6"/><text x="25.80" y="976.40" font-size="4.7" text-anchor="middle" class="t">2012</text><line x1="61.90" y1="969.10" x2="61.90" y2="970.70" stroke="#777777" stroke-width="0.6"/><text x="61.90" y="976.40" font-size="4.7" text-anchor="middle" class="t">2014</text><line x1="98.00" y1="969.10" x2="98.00" y2="970.70" stroke="#777777" stroke-width="0.6"/><text x="98.00" y="976.40" font-size="4.7" text-anchor="middle" class="t">2016</text><line x1="134.10" y1="969.10" x2="134.10" y2="970.70" stroke="#777777" stroke-width="0.6"/><text x="134.10" y="976.40" font-size="4.7" text-anchor="middle" class="t">2018</text><line x1="170.20" y1="969.10" x2="170.20" y2="970.70" stroke="#777777" stroke-width="0.6"/><text x="170.20" y="976.40" font-size="4.7" text-anchor="middle" class="t">2020</text><line x1="206.30" y1="969.10" x2="206.30" y2="970.70" stroke="#777777" stroke-width="0.6"/><text x="206.30" y="976.40" font-size="4.7" text-anchor="middle" class="t">2022</text><line x1="242.40" y1="969.10" x2="242.40" y2="970.70" stroke="#777777" stroke-width="0.6"/><text x="242.40" y="976.40" font-size="4.7" text-anchor="middle" class="t">2024</text><rect x="229.50" y="872.10" width="41" height="15" rx="1" fill="#fff" fill-opacity="0.8" stroke="#d6d6d6" stroke-width="0.5"/><line x1="231.00" y1="875.40" x2="241.50" y2="875.40" stroke="#1f77b4" stroke-width="1.15"/><line x1="231.00" y1="882.40" x2="241.50" y2="882.40" stroke="#ff1a1a" stroke-width="1.2"/><text x="245.80" y="877.00" font-size="4.8" class="t">Observed</text><text x="245.80" y="884.00" font-size="4.8" class="t">Forecast</text></g>
<g><polygon points="298.90,914.20 300.65,912.46 302.39,911.21 303.88,908.22 304.88,900.75 306.13,909.96 308.62,910.71 311.11,911.21 313.60,911.71 315.59,911.21 317.09,906.23 318.33,912.46 320.07,912.46 321.82,911.21 323.06,906.73 324.31,913.20 326.80,913.70 329.79,914.20 332.28,914.20 333.77,912.46 335.02,910.71 336.27,913.20 338.76,913.70 341.25,914.20 344.24,915.69 346.73,916.19 349.22,916.69 351.71,915.69 353.70,909.96 354.95,916.69 357.44,917.44 359.68,916.69 361.67,918.18 364.16,918.68 366.65,919.18 369.15,919.18 370.89,918.18 372.13,919.18 374.63,918.68 376.12,914.95 377.37,909.96 378.61,918.68 381.10,919.93 384.09,919.93 386.58,919.93 387.83,919.18 389.07,914.95 390.32,919.93 392.81,920.68 394.80,914.95 396.05,921.17 399.04,921.67 401.53,922.42 404.02,922.42 406.51,921.17 407.75,917.44 409.00,918.68 409.00,919.18 411.49,920.68 413.98,921.67 416.47,922.42 420.21,923.17 423.45,923.66 425.19,923.17 426.44,918.18 427.68,922.42 430.17,924.16 432.66,925.66 435.15,926.16 438.39,926.65 441.38,926.65 442.88,926.16 443.87,929.89 445.12,926.16 447.61,926.16 448.85,919.18 450.60,927.40 453.84,928.65 457.57,929.14 460.06,928.65 461.81,923.66 463.05,929.14 465.54,929.14 467.54,924.16 468.78,929.89 472.52,930.64 476.25,930.64 478.75,929.89 479.99,928.65 481.24,929.89 483.73,930.64 486.22,930.64 488.71,931.14 492.45,931.64 496.18,931.64 498.17,927.40 499.42,930.64 501.66,931.64 503.65,932.38 506.15,934.13 508.64,934.87 511.63,935.62 514.12,936.12 516.11,939.86 517.85,936.62 520.34,936.62 522.34,926.16 523.58,936.62 526.07,936.62 529.81,937.36 532.80,937.36 532.80,966.51 529.81,966.51 526.07,965.76 523.58,965.76 522.34,955.30 520.34,965.76 517.85,965.76 516.11,969.00 514.12,965.26 511.63,964.76 508.64,964.02 506.15,963.27 503.65,961.53 501.66,960.78 499.42,959.78 498.17,956.54 496.18,960.78 492.45,960.78 488.71,960.28 486.22,959.78 483.73,959.78 481.24,959.04 479.99,957.79 478.75,959.04 476.25,959.78 472.52,959.78 468.78,959.04 467.54,953.31 465.54,958.29 463.05,958.29 461.81,952.81 460.06,957.79 457.57,958.29 453.84,957.79 450.60,956.54 448.85,948.32 447.61,955.30 445.12,955.30 443.87,959.04 442.88,955.30 441.38,955.80 438.39,955.80 435.15,955.30 432.66,954.80 430.17,953.31 427.68,951.56 426.44,947.33 425.19,952.31 423.45,952.81 420.21,952.31 416.47,951.56 413.98,950.82 411.49,949.82 409.00,948.32 409.00,947.83 407.75,946.58 406.51,950.32 404.02,951.56 401.53,951.56 399.04,950.82 396.05,950.32 394.80,944.09 392.81,949.82 390.32,949.07 389.07,944.09 387.83,948.32 386.58,949.07 384.09,949.07 381.10,949.07 378.61,947.83 377.37,939.11 376.12,944.09 374.63,947.83 372.13,948.32 370.89,947.33 369.15,948.32 366.65,948.32 364.16,947.83 361.67,947.33 359.68,945.83 357.44,946.58 354.95,945.83 353.70,939.11 351.71,944.84 349.22,945.83 346.73,945.34 344.24,944.84 341.25,943.34 338.76,942.84 336.27,942.35 335.02,939.86 333.77,941.60 332.28,943.34 329.79,943.34 326.80,942.84 324.31,942.35 323.06,935.87 321.82,940.35 320.07,941.60 318.33,941.60 317.09,935.37 315.59,940.35 313.60,940.85 311.11,940.35 308.62,939.86 306.13,939.11 304.88,929.89 303.88,937.36 302.39,940.35 300.65,941.60 298.90,943.34" fill="#ffc0cb" fill-opacity="0.14"/><polygon points="298.90,917.56 300.65,915.82 302.39,914.57 303.88,911.58 304.88,904.11 306.13,913.33 308.62,914.07 311.11,914.57 313.60,915.07 315.59,914.57 317.09,909.59 318.33,915.82 320.07,915.82 321.82,914.57 323.06,910.09 324.31,916.57 326.80,917.06 329.79,917.56 332.28,917.56 333.77,915.82 335.02,914.07 336.27,916.57 338.76,917.06 341.25,917.56 344.24,919.06 346.73,919.55 349.22,920.05 351.71,919.06 353.70,913.33 354.95,920.05 357.44,920.80 359.68,920.05 361.67,921.55 364.16,922.05 366.65,922.54 369.15,922.54 370.89,921.55 372.13,922.54 374.63,922.05 376.12,918.31 377.37,913.33 378.61,922.05 381.10,923.29 384.09,923.29 386.58,923.29 387.83,922.54 389.07,918.31 390.32,923.29 392.81,924.04 394.80,918.31 396.05,924.54 399.04,925.03 401.53,925.78 404.02,925.78 406.51,924.54 407.75,920.80 409.00,922.05 409.00,922.54 411.49,924.04 413.98,925.03 416.47,925.78 420.21,926.53 423.45,927.03 425.19,926.53 426.44,921.55 427.68,925.78 430.17,927.53 432.66,929.02 435.15,929.52 438.39,930.02 441.38,930.02 442.88,929.52 443.87,933.25 445.12,929.52 447.61,929.52 448.85,922.54 450.60,930.76 453.84,932.01 457.57,932.51 460.06,932.01 461.81,927.03 463.05,932.51 465.54,932.51 467.54,927.53 468.78,933.25 472.52,934.00 476.25,934.00 478.75,933.25 479.99,932.01 481.24,933.25 483.73,934.00 486.22,934.00 488.71,934.50 492.45,935.00 496.18,935.00 498.17,930.76 499.42,934.00 501.66,935.00 503.65,935.75 506.15,937.49 508.64,938.24 511.63,938.98 514.12,939.48 516.11,943.22 517.85,939.98 520.34,939.98 522.34,929.52 523.58,939.98 526.07,939.98 529.81,940.73 532.80,940.73 532.80,963.15 529.81,963.15 526.07,962.40 523.58,962.40 522.34,951.94 520.34,962.40 517.85,962.40 516.11,965.64 514.12,961.90 511.63,961.40 508.64,960.65 506.15,959.91 503.65,958.16 501.66,957.42 499.42,956.42 498.17,953.18 496.18,957.42 492.45,957.42 488.71,956.92 486.22,956.42 483.73,956.42 481.24,955.67 479.99,954.43 478.75,955.67 476.25,956.42 472.52,956.42 468.78,955.67 467.54,949.94 465.54,954.93 463.05,954.93 461.81,949.45 460.06,954.43 457.57,954.93 453.84,954.43 450.60,953.18 448.85,944.96 447.61,951.94 445.12,951.94 443.87,955.67 442.88,951.94 441.38,952.43 438.39,952.43 435.15,951.94 432.66,951.44 430.17,949.94 427.68,948.20 426.44,943.97 425.19,948.95 423.45,949.45 420.21,948.95 416.47,948.20 413.98,947.45 411.49,946.46 409.00,944.96 409.00,944.46 407.75,943.22 406.51,946.95 404.02,948.20 401.53,948.20 399.04,947.45 396.05,946.95 394.80,940.73 392.81,946.46 390.32,945.71 389.07,940.73 387.83,944.96 386.58,945.71 384.09,945.71 381.10,945.71 378.61,944.46 377.37,935.75 376.12,940.73 374.63,944.46 372.13,944.96 370.89,943.97 369.15,944.96 366.65,944.96 364.16,944.46 361.67,943.97 359.68,942.47 357.44,943.22 354.95,942.47 353.70,935.75 351.71,941.47 349.22,942.47 346.73,941.97 344.24,941.47 341.25,939.98 338.76,939.48 336.27,938.98 335.02,936.49 333.77,938.24 332.28,939.98 329.79,939.98 326.80,939.48 324.31,938.98 323.06,932.51 321.82,936.99 320.07,938.24 318.33,938.24 317.09,932.01 315.59,936.99 313.60,937.49 311.11,936.99 308.62,936.49 306.13,935.75 304.88,926.53 303.88,934.00 302.39,936.99 300.65,938.24 298.90,939.98" fill="#ffc0cb" fill-opacity="0.32"/><polyline points="298.90,921.30 300.15,920.30 301.39,921.30 302.39,922.05 303.63,898.38 304.63,872.97 305.63,903.36 306.87,914.57 308.87,918.31 310.61,920.80 312.35,922.05 314.35,923.29 315.84,924.54 317.09,925.78 318.33,933.25 319.83,936.99 321.32,939.48 323.06,942.72 324.31,945.21 325.55,941.97 327.30,938.24 329.29,936.99 331.28,936.99 333.03,936.99 334.27,934.50 335.52,924.54 337.26,913.83 338.76,919.55 340.25,924.54 341.75,927.03 342.99,925.78 344.24,924.54 345.48,928.27 346.73,929.52 348.72,931.26 350.46,932.01 351.71,930.76 352.95,910.84 354.20,910.34 355.20,922.05 356.19,929.52 357.94,931.26 359.68,932.01 361.67,932.01 363.67,932.76 366.16,933.75 367.90,935.25 369.64,936.99 370.89,940.73 372.13,936.99 373.63,933.75 375.37,932.01 377.12,932.76 379.11,933.25 381.60,933.75 384.09,933.75 386.58,933.75 388.57,932.01 389.57,925.78 390.57,932.01 392.81,934.50 395.30,935.75 397.79,936.99 400.28,938.24 402.77,939.48 405.26,938.73 407.01,935.75 408.00,920.80 409.00,924.54 409.00,924.54 410.25,920.30 411.49,924.54 412.74,925.78 414.48,927.03 416.47,928.27 418.47,930.76 420.21,932.01 421.95,931.26 423.45,933.25 425.19,935.75 426.44,932.76 427.68,933.75 429.43,936.99 431.42,938.24 433.41,939.48 435.15,940.23 437.65,940.23 440.14,940.73 442.13,941.97 443.37,953.18 444.62,953.18 445.87,946.95 446.86,939.48 448.36,937.74 449.60,940.73 451.35,943.22 453.84,945.21 456.33,946.21 458.82,945.71 460.56,946.95 461.81,950.69 463.30,954.43 465.05,953.18 466.79,951.19 468.78,950.19 471.27,950.69 473.27,950.69 475.01,950.19 476.75,950.19 478.75,949.45 479.99,954.43 481.24,949.45 483.23,948.20 484.97,948.70 487.46,947.70 489.95,947.70 492.45,946.95 494.94,946.95 496.68,945.71 498.17,944.46 499.92,941.97 501.66,940.23 503.65,938.24 504.90,939.48 506.64,936.99 508.64,935.75 511.13,936.24 513.62,936.99 514.86,936.99" fill="none" stroke="#1f77b4" stroke-width="1.15" stroke-linejoin="round"/><polyline points="298.90,928.77 300.65,927.03 302.39,925.78 303.88,922.79 304.88,915.32 306.13,924.54 308.62,925.28 311.11,925.78 313.60,926.28 315.59,925.78 317.09,920.80 318.33,927.03 320.07,927.03 321.82,925.78 323.06,921.30 324.31,927.77 326.80,928.27 329.79,928.77 332.28,928.77 333.77,927.03 335.02,925.28 336.27,927.77 338.76,928.27 341.25,928.77 344.24,930.27 346.73,930.76 349.22,931.26 351.71,930.27 353.70,924.54 354.95,931.26 357.44,932.01 359.68,931.26 361.67,932.76 364.16,933.25 366.65,933.75 369.15,933.75 370.89,932.76 372.13,933.75 374.63,933.25 376.12,929.52 377.37,924.54 378.61,933.25 381.10,934.50 384.09,934.50 386.58,934.50 387.83,933.75 389.07,929.52 390.32,934.50 392.81,935.25 394.80,929.52 396.05,935.75 399.04,936.24 401.53,936.99 404.02,936.99 406.51,935.75 407.75,932.01 409.00,933.25 409.00,933.75 411.49,935.25 413.98,936.24 416.47,936.99 420.21,937.74 423.45,938.24 425.19,937.74 426.44,932.76 427.68,936.99 430.17,938.73 432.66,940.23 435.15,940.73 438.39,941.23 441.38,941.23 442.88,940.73 443.87,944.46 445.12,940.73 447.61,940.73 448.85,933.75 450.60,941.97 453.84,943.22 457.57,943.72 460.06,943.22 461.81,938.24 463.05,943.72 465.54,943.72 467.54,938.73 468.78,944.46 472.52,945.21 476.25,945.21 478.75,944.46 479.99,943.22 481.24,944.46 483.73,945.21 486.22,945.21 488.71,945.71 492.45,946.21 496.18,946.21 498.17,941.97 499.42,945.21 501.66,946.21 503.65,946.95 506.15,948.70 508.64,949.45 511.63,950.19 514.12,950.69 516.11,954.43 517.85,951.19 520.34,951.19 522.34,940.73 523.58,951.19 526.07,951.19 529.81,951.94 532.80,951.94" fill="none" stroke="#ff1a1a" stroke-width="1.2" stroke-linejoin="round"/><line x1="285.90" y1="873.47" x2="287.50" y2="873.47" stroke="#777777" stroke-width="0.6"/><text x="284.10" y="875.07" font-size="4.7" text-anchor="end" class="t">12</text><line x1="285.90" y1="888.67" x2="287.50" y2="888.67" stroke="#777777" stroke-width="0.6"/><text x="284.10" y="890.27" font-size="4.7" text-anchor="end" class="t">10</text><line x1="285.90" y1="903.86" x2="287.50" y2="903.86" stroke="#777777" stroke-width="0.6"/><text x="284.10" y="905.46" font-size="4.7" text-anchor="end" class="t">8</text><line x1="285.90" y1="919.06" x2="287.50" y2="919.06" stroke="#777777" stroke-width="0.6"/><text x="284.10" y="920.66" font-size="4.7" text-anchor="end" class="t">6</text><line x1="285.90" y1="934.50" x2="287.50" y2="934.50" stroke="#777777" stroke-width="0.6"/><text x="284.10" y="936.10" font-size="4.7" text-anchor="end" class="t">4</text><line x1="285.90" y1="949.69" x2="287.50" y2="949.69" stroke="#777777" stroke-width="0.6"/><text x="284.10" y="951.29" font-size="4.7" text-anchor="end" class="t">2</text><line x1="285.90" y1="964.89" x2="287.50" y2="964.89" stroke="#777777" stroke-width="0.6"/><text x="284.10" y="966.49" font-size="4.7" text-anchor="end" class="t">0</text><text x="416.00" y="865.80" font-size="6.15" text-anchor="middle" class="t">Chungnam Prophet Forecast</text><rect x="287.50" y="868.60" width="257.00" height="100.50" fill="none" stroke="#777777" stroke-width="1.0"/><line x1="297.80" y1="969.10" x2="297.80" y2="970.70" stroke="#777777" stroke-width="0.6"/><text x="297.80" y="976.40" font-size="4.7" text-anchor="middle" class="t">2012</text><line x1="333.90" y1="969.10" x2="333.90" y2="970.70" stroke="#777777" stroke-width="0.6"/><text x="333.90" y="976.40" font-size="4.7" text-anchor="middle" class="t">2014</text><line x1="370.00" y1="969.10" x2="370.00" y2="970.70" stroke="#777777" stroke-width="0.6"/><text x="370.00" y="976.40" font-size="4.7" text-anchor="middle" class="t">2016</text><line x1="406.10" y1="969.10" x2="406.10" y2="970.70" stroke="#777777" stroke-width="0.6"/><text x="406.10" y="976.40" font-size="4.7" text-anchor="middle" class="t">2018</text><line x1="442.20" y1="969.10" x2="442.20" y2="970.70" stroke="#777777" stroke-width="0.6"/><text x="442.20" y="976.40" font-size="4.7" text-anchor="middle" class="t">2020</text><line x1="478.30" y1="969.10" x2="478.30" y2="970.70" stroke="#777777" stroke-width="0.6"/><text x="478.30" y="976.40" font-size="4.7" text-anchor="middle" class="t">2022</text><line x1="514.40" y1="969.10" x2="514.40" y2="970.70" stroke="#777777" stroke-width="0.6"/><text x="514.40" y="976.40" font-size="4.7" text-anchor="middle" class="t">2024</text><rect x="501.50" y="872.10" width="41" height="15" rx="1" fill="#fff" fill-opacity="0.8" stroke="#d6d6d6" stroke-width="0.5"/><line x1="503.00" y1="875.40" x2="513.50" y2="875.40" stroke="#1f77b4" stroke-width="1.15"/><line x1="503.00" y1="882.40" x2="513.50" y2="882.40" stroke="#ff1a1a" stroke-width="1.2"/><text x="517.80" y="877.00" font-size="4.8" class="t">Observed</text><text x="517.80" y="884.00" font-size="4.8" class="t">Forecast</text></g>
<g><polygon points="26.90,1024.77 28.65,1024.27 30.39,1023.52 31.88,1024.27 33.13,1021.03 34.37,1025.26 36.87,1026.01 39.36,1026.76 41.85,1027.26 44.34,1027.26 46.08,1026.76 47.33,1027.26 49.32,1026.76 51.06,1024.27 52.31,1028.50 54.80,1029.75 57.79,1030.25 60.28,1030.25 62.27,1029.25 64.27,1028.50 66.01,1029.25 67.75,1028.50 69.25,1027.75 70.99,1030.99 73.48,1032.24 75.97,1032.74 78.46,1032.74 80.21,1031.74 81.70,1030.25 83.45,1032.24 85.94,1031.74 87.68,1032.24 89.67,1033.48 92.16,1035.23 94.65,1035.97 97.15,1035.97 98.89,1034.73 100.88,1035.23 102.63,1034.23 104.62,1032.24 105.86,1032.74 107.11,1034.73 109.60,1036.72 113.34,1037.72 115.83,1037.72 117.57,1037.22 119.07,1037.22 121.56,1037.72 123.05,1035.23 124.30,1039.21 127.04,1040.21 129.53,1040.96 132.02,1040.96 134.51,1040.21 135.75,1039.21 137.00,1039.21 137.00,1039.21 139.49,1039.21 141.98,1040.96 144.47,1043.45 148.21,1044.19 151.45,1044.19 153.19,1043.45 154.93,1044.19 156.93,1042.20 158.92,1040.21 160.66,1044.19 163.15,1045.19 166.39,1045.94 169.38,1046.69 171.87,1047.18 173.87,1045.94 175.61,1044.69 177.35,1042.70 178.85,1047.18 181.84,1048.43 185.57,1049.18 188.06,1049.67 190.55,1049.67 193.79,1049.18 195.54,1045.94 197.28,1050.17 200.52,1050.92 204.25,1051.67 206.75,1052.17 209.24,1051.67 211.73,1050.92 213.72,1048.43 215.46,1051.67 217.95,1052.66 221.69,1053.41 224.68,1053.41 226.67,1054.16 229.16,1053.41 231.16,1052.17 232.90,1054.66 236.14,1055.90 239.13,1056.65 242.12,1056.65 244.11,1055.15 246.60,1055.90 249.09,1054.66 250.34,1052.66 252.08,1057.15 254.57,1058.39 257.81,1059.14 260.80,1059.64 260.80,1090.73 257.81,1090.23 254.57,1089.48 252.08,1088.23 250.34,1083.75 249.09,1085.74 246.60,1086.99 244.11,1086.24 242.12,1087.74 239.13,1087.74 236.14,1086.99 232.90,1085.74 231.16,1083.25 229.16,1084.50 226.67,1085.25 224.68,1084.50 221.69,1084.50 217.95,1083.75 215.46,1082.75 213.72,1079.52 211.73,1082.01 209.24,1082.75 206.75,1083.25 204.25,1082.75 200.52,1082.01 197.28,1081.26 195.54,1077.03 193.79,1080.26 190.55,1080.76 188.06,1080.76 185.57,1080.26 181.84,1079.52 178.85,1078.27 177.35,1073.79 175.61,1075.78 173.87,1077.03 171.87,1078.27 169.38,1077.77 166.39,1077.03 163.15,1076.28 160.66,1075.28 158.92,1071.30 156.93,1073.29 154.93,1075.28 153.19,1074.53 151.45,1075.28 148.21,1075.28 144.47,1074.53 141.98,1072.04 139.49,1070.30 137.00,1070.30 137.00,1070.30 135.75,1070.30 134.51,1071.30 132.02,1072.04 129.53,1072.04 127.04,1071.30 124.30,1070.30 123.05,1066.31 121.56,1068.81 119.07,1068.31 117.57,1068.31 115.83,1068.81 113.34,1068.81 109.60,1067.81 107.11,1065.82 105.86,1063.82 104.62,1063.33 102.63,1065.32 100.88,1066.31 98.89,1065.82 97.15,1067.06 94.65,1067.06 92.16,1066.31 89.67,1064.57 87.68,1063.33 85.94,1062.83 83.45,1063.33 81.70,1061.33 80.21,1062.83 78.46,1063.82 75.97,1063.82 73.48,1063.33 70.99,1062.08 69.25,1058.84 67.75,1059.59 66.01,1060.34 64.27,1059.59 62.27,1060.34 60.28,1061.33 57.79,1061.33 54.80,1060.83 52.31,1059.59 51.06,1055.35 49.32,1057.85 47.33,1058.34 46.08,1057.85 44.34,1058.34 41.85,1058.34 39.36,1057.85 36.87,1057.10 34.37,1056.35 33.13,1052.12 31.88,1055.35 30.39,1054.61 28.65,1055.35 26.90,1055.85" fill="#ffc0cb" fill-opacity="0.14"/><polygon points="26.90,1028.35 28.65,1027.85 30.39,1027.11 31.88,1027.85 33.13,1024.62 34.37,1028.85 36.87,1029.60 39.36,1030.35 41.85,1030.84 44.34,1030.84 46.08,1030.35 47.33,1030.84 49.32,1030.35 51.06,1027.85 52.31,1032.09 54.80,1033.33 57.79,1033.83 60.28,1033.83 62.27,1032.84 64.27,1032.09 66.01,1032.84 67.75,1032.09 69.25,1031.34 70.99,1034.58 73.48,1035.83 75.97,1036.32 78.46,1036.32 80.21,1035.33 81.70,1033.83 83.45,1035.83 85.94,1035.33 87.68,1035.83 89.67,1037.07 92.16,1038.81 94.65,1039.56 97.15,1039.56 98.89,1038.32 100.88,1038.81 102.63,1037.82 104.62,1035.83 105.86,1036.32 107.11,1038.32 109.60,1040.31 113.34,1041.31 115.83,1041.31 117.57,1040.81 119.07,1040.81 121.56,1041.31 123.05,1038.81 124.30,1042.80 127.04,1043.80 129.53,1044.54 132.02,1044.54 134.51,1043.80 135.75,1042.80 137.00,1042.80 137.00,1042.80 139.49,1042.80 141.98,1044.54 144.47,1047.03 148.21,1047.78 151.45,1047.78 153.19,1047.03 154.93,1047.78 156.93,1045.79 158.92,1043.80 160.66,1047.78 163.15,1048.78 166.39,1049.53 169.38,1050.27 171.87,1050.77 173.87,1049.53 175.61,1048.28 177.35,1046.29 178.85,1050.77 181.84,1052.02 185.57,1052.76 188.06,1053.26 190.55,1053.26 193.79,1052.76 195.54,1049.53 197.28,1053.76 200.52,1054.51 204.25,1055.25 206.75,1055.75 209.24,1055.25 211.73,1054.51 213.72,1052.02 215.46,1055.25 217.95,1056.25 221.69,1057.00 224.68,1057.00 226.67,1057.75 229.16,1057.00 231.16,1055.75 232.90,1058.24 236.14,1059.49 239.13,1060.24 242.12,1060.24 244.11,1058.74 246.60,1059.49 249.09,1058.24 250.34,1056.25 252.08,1060.73 254.57,1061.98 257.81,1062.73 260.80,1063.23 260.80,1087.14 257.81,1086.64 254.57,1085.89 252.08,1084.65 250.34,1080.16 249.09,1082.16 246.60,1083.40 244.11,1082.65 242.12,1084.15 239.13,1084.15 236.14,1083.40 232.90,1082.16 231.16,1079.67 229.16,1080.91 226.67,1081.66 224.68,1080.91 221.69,1080.91 217.95,1080.16 215.46,1079.17 213.72,1075.93 211.73,1078.42 209.24,1079.17 206.75,1079.67 204.25,1079.17 200.52,1078.42 197.28,1077.67 195.54,1073.44 193.79,1076.68 190.55,1077.17 188.06,1077.17 185.57,1076.68 181.84,1075.93 178.85,1074.68 177.35,1070.20 175.61,1072.19 173.87,1073.44 171.87,1074.68 169.38,1074.19 166.39,1073.44 163.15,1072.69 160.66,1071.69 158.92,1067.71 156.93,1069.70 154.93,1071.69 153.19,1070.95 151.45,1071.69 148.21,1071.69 144.47,1070.95 141.98,1068.46 139.49,1066.71 137.00,1066.71 137.00,1066.71 135.75,1066.71 134.51,1067.71 132.02,1068.46 129.53,1068.46 127.04,1067.71 124.30,1066.71 123.05,1062.73 121.56,1065.22 119.07,1064.72 117.57,1064.72 115.83,1065.22 113.34,1065.22 109.60,1064.22 107.11,1062.23 105.86,1060.24 104.62,1059.74 102.63,1061.73 100.88,1062.73 98.89,1062.23 97.15,1063.47 94.65,1063.47 92.16,1062.73 89.67,1060.98 87.68,1059.74 85.94,1059.24 83.45,1059.74 81.70,1057.75 80.21,1059.24 78.46,1060.24 75.97,1060.24 73.48,1059.74 70.99,1058.49 69.25,1055.25 67.75,1056.00 66.01,1056.75 64.27,1056.00 62.27,1056.75 60.28,1057.75 57.79,1057.75 54.80,1057.25 52.31,1056.00 51.06,1051.77 49.32,1054.26 47.33,1054.76 46.08,1054.26 44.34,1054.76 41.85,1054.76 39.36,1054.26 36.87,1053.51 34.37,1052.76 33.13,1048.53 31.88,1051.77 30.39,1051.02 28.65,1051.77 26.90,1052.27" fill="#ffc0cb" fill-opacity="0.32"/><polyline points="26.90,1017.89 27.90,1034.08 28.89,1025.36 29.89,1029.10 30.89,1035.33 31.63,1025.36 32.88,994.23 33.88,1025.36 34.87,1037.82 36.87,1040.31 38.61,1040.81 40.35,1040.81 42.35,1042.30 44.34,1043.30 45.58,1045.29 46.58,1047.78 47.83,1041.55 49.32,1045.29 51.06,1052.76 52.81,1055.75 54.80,1057.75 56.79,1059.74 58.54,1061.48 60.28,1062.23 61.77,1057.75 63.52,1051.52 65.26,1044.05 66.76,1042.80 68.00,1047.78 69.75,1050.27 71.49,1051.52 72.98,1049.77 74.73,1049.03 76.47,1046.54 77.97,1048.28 79.21,1045.29 80.21,1037.82 81.20,1033.33 82.20,1036.57 83.45,1039.06 84.69,1044.05 85.94,1047.78 87.18,1051.52 88.43,1054.76 90.17,1055.75 92.16,1055.75 94.16,1056.50 96.15,1057.75 97.64,1058.99 98.64,1067.71 99.64,1074.68 100.88,1066.46 102.13,1060.24 103.37,1054.01 104.62,1047.78 106.61,1044.79 108.35,1047.78 110.85,1050.27 113.34,1053.26 115.08,1053.26 116.57,1047.78 117.57,1030.35 118.82,1014.90 120.06,1026.61 121.06,1034.08 122.55,1039.06 124.05,1042.30 125.79,1044.05 127.53,1045.79 129.53,1047.78 132.02,1051.52 134.01,1052.27 135.26,1065.22 136.00,1068.95 137.00,1067.21 137.00,1067.71 138.25,1062.73 139.49,1056.50 140.74,1054.01 142.48,1055.25 144.47,1058.99 146.47,1061.48 148.21,1062.23 149.95,1061.48 151.45,1063.97 153.19,1065.22 154.93,1062.73 156.43,1060.24 158.17,1057.75 159.42,1055.25 160.66,1058.99 162.41,1060.24 164.40,1058.99 166.39,1057.75 168.14,1058.24 169.88,1059.74 171.87,1061.48 173.87,1063.97 176.36,1066.46 178.85,1068.21 181.34,1069.70 183.08,1070.20 184.83,1068.95 186.82,1068.21 189.31,1067.21 191.30,1065.22 193.05,1062.73 194.79,1061.48 196.78,1063.97 199.27,1066.46 201.76,1067.21 204.25,1068.95 206.25,1071.45 207.99,1078.92 209.24,1073.94 210.98,1068.95 212.97,1067.21 214.72,1067.21 216.71,1066.46 218.70,1065.72 220.45,1065.22 221.69,1063.97 222.94,1063.23 224.18,1063.23 225.43,1065.22 226.67,1068.95 227.92,1071.45 229.66,1072.69 231.16,1070.20 232.90,1066.46 234.64,1063.97 236.64,1062.23 239.13,1060.24 241.62,1059.74 242.86,1059.74" fill="none" stroke="#1f77b4" stroke-width="1.15" stroke-linejoin="round"/><polyline points="26.90,1040.31 28.65,1039.81 30.39,1039.06 31.88,1039.81 33.13,1036.57 34.37,1040.81 36.87,1041.55 39.36,1042.30 41.85,1042.80 44.34,1042.80 46.08,1042.30 47.33,1042.80 49.32,1042.30 51.06,1039.81 52.31,1044.05 54.80,1045.29 57.79,1045.79 60.28,1045.79 62.27,1044.79 64.27,1044.05 66.01,1044.79 67.75,1044.05 69.25,1043.30 70.99,1046.54 73.48,1047.78 75.97,1048.28 78.46,1048.28 80.21,1047.28 81.70,1045.79 83.45,1047.78 85.94,1047.28 87.68,1047.78 89.67,1049.03 92.16,1050.77 94.65,1051.52 97.15,1051.52 98.89,1050.27 100.88,1050.77 102.63,1049.77 104.62,1047.78 105.86,1048.28 107.11,1050.27 109.60,1052.27 113.34,1053.26 115.83,1053.26 117.57,1052.76 119.07,1052.76 121.56,1053.26 123.05,1050.77 124.30,1054.76 127.04,1055.75 129.53,1056.50 132.02,1056.50 134.51,1055.75 135.75,1054.76 137.00,1054.76 137.00,1054.76 139.49,1054.76 141.98,1056.50 144.47,1058.99 148.21,1059.74 151.45,1059.74 153.19,1058.99 154.93,1059.74 156.93,1057.75 158.92,1055.75 160.66,1059.74 163.15,1060.73 166.39,1061.48 169.38,1062.23 171.87,1062.73 173.87,1061.48 175.61,1060.24 177.35,1058.24 178.85,1062.73 181.84,1063.97 185.57,1064.72 188.06,1065.22 190.55,1065.22 193.79,1064.72 195.54,1061.48 197.28,1065.72 200.52,1066.46 204.25,1067.21 206.75,1067.71 209.24,1067.21 211.73,1066.46 213.72,1063.97 215.46,1067.21 217.95,1068.21 221.69,1068.95 224.68,1068.95 226.67,1069.70 229.16,1068.95 231.16,1067.71 232.90,1070.20 236.14,1071.45 239.13,1072.19 242.12,1072.19 244.11,1070.70 246.60,1071.45 249.09,1070.20 250.34,1068.21 252.08,1072.69 254.57,1073.94 257.81,1074.68 260.80,1075.18" fill="none" stroke="#ff1a1a" stroke-width="1.2" stroke-linejoin="round"/><line x1="13.90" y1="999.21" x2="15.50" y2="999.21" stroke="#777777" stroke-width="0.6"/><text x="12.10" y="1000.81" font-size="4.7" text-anchor="end" class="t">8</text><line x1="13.90" y1="1011.17" x2="15.50" y2="1011.17" stroke="#777777" stroke-width="0.6"/><text x="12.10" y="1012.77" font-size="4.7" text-anchor="end" class="t">7</text><line x1="13.90" y1="1022.87" x2="15.50" y2="1022.87" stroke="#777777" stroke-width="0.6"/><text x="12.10" y="1024.47" font-size="4.7" text-anchor="end" class="t">6</text><line x1="13.90" y1="1034.83" x2="15.50" y2="1034.83" stroke="#777777" stroke-width="0.6"/><text x="12.10" y="1036.43" font-size="4.7" text-anchor="end" class="t">5</text><line x1="13.90" y1="1046.54" x2="15.50" y2="1046.54" stroke="#777777" stroke-width="0.6"/><text x="12.10" y="1048.14" font-size="4.7" text-anchor="end" class="t">4</text><line x1="13.90" y1="1058.49" x2="15.50" y2="1058.49" stroke="#777777" stroke-width="0.6"/><text x="12.10" y="1060.09" font-size="4.7" text-anchor="end" class="t">3</text><line x1="13.90" y1="1070.20" x2="15.50" y2="1070.20" stroke="#777777" stroke-width="0.6"/><text x="12.10" y="1071.80" font-size="4.7" text-anchor="end" class="t">2</text><line x1="13.90" y1="1081.91" x2="15.50" y2="1081.91" stroke="#777777" stroke-width="0.6"/><text x="12.10" y="1083.51" font-size="4.7" text-anchor="end" class="t">1</text><text x="144.00" y="988.10" font-size="6.15" text-anchor="middle" class="t">Chungbuk Prophet Forecast</text><rect x="15.50" y="990.90" width="257.00" height="100.50" fill="none" stroke="#777777" stroke-width="1.0"/><line x1="25.80" y1="1091.40" x2="25.80" y2="1093.00" stroke="#777777" stroke-width="0.6"/><text x="25.80" y="1098.70" font-size="4.7" text-anchor="middle" class="t">2012</text><line x1="61.90" y1="1091.40" x2="61.90" y2="1093.00" stroke="#777777" stroke-width="0.6"/><text x="61.90" y="1098.70" font-size="4.7" text-anchor="middle" class="t">2014</text><line x1="98.00" y1="1091.40" x2="98.00" y2="1093.00" stroke="#777777" stroke-width="0.6"/><text x="98.00" y="1098.70" font-size="4.7" text-anchor="middle" class="t">2016</text><line x1="134.10" y1="1091.40" x2="134.10" y2="1093.00" stroke="#777777" stroke-width="0.6"/><text x="134.10" y="1098.70" font-size="4.7" text-anchor="middle" class="t">2018</text><line x1="170.20" y1="1091.40" x2="170.20" y2="1093.00" stroke="#777777" stroke-width="0.6"/><text x="170.20" y="1098.70" font-size="4.7" text-anchor="middle" class="t">2020</text><line x1="206.30" y1="1091.40" x2="206.30" y2="1093.00" stroke="#777777" stroke-width="0.6"/><text x="206.30" y="1098.70" font-size="4.7" text-anchor="middle" class="t">2022</text><line x1="242.40" y1="1091.40" x2="242.40" y2="1093.00" stroke="#777777" stroke-width="0.6"/><text x="242.40" y="1098.70" font-size="4.7" text-anchor="middle" class="t">2024</text><rect x="229.50" y="994.40" width="41" height="15" rx="1" fill="#fff" fill-opacity="0.8" stroke="#d6d6d6" stroke-width="0.5"/><line x1="231.00" y1="997.70" x2="241.50" y2="997.70" stroke="#1f77b4" stroke-width="1.15"/><line x1="231.00" y1="1004.70" x2="241.50" y2="1004.70" stroke="#ff1a1a" stroke-width="1.2"/><text x="245.80" y="999.30" font-size="4.8" class="t">Observed</text><text x="245.80" y="1006.30" font-size="4.8" class="t">Forecast</text></g>
</svg></div></body></html>
